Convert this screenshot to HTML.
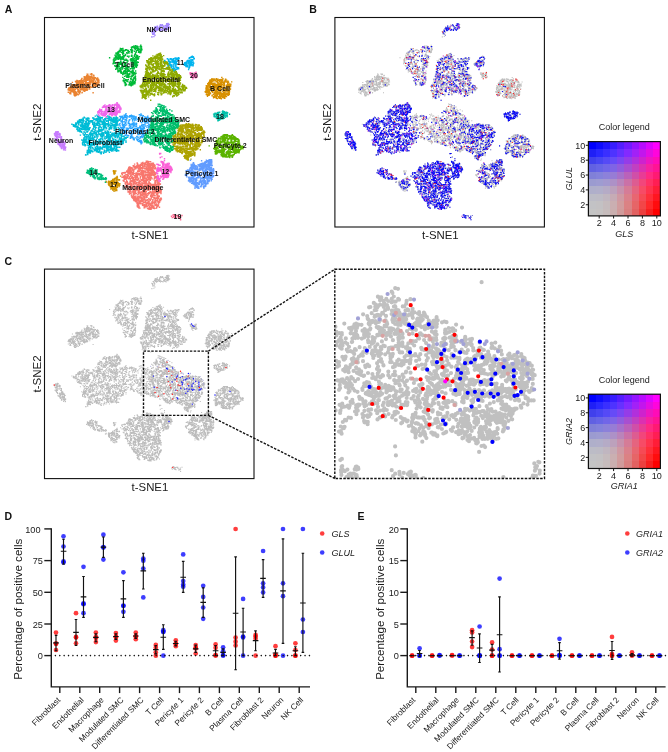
<!DOCTYPE html><html><head><meta charset="utf-8"><title>Figure</title><style>html,body{margin:0;padding:0;background:#fff}svg{display:block;will-change:transform}text{font-family:"Liberation Sans", sans-serif}</style></head><body>
<svg width="668" height="752" viewBox="0 0 668 752">
<rect width="668" height="752" fill="#fff"/>
<defs>
<path id="c0" d="M1372 1630h0m41 2h0m13-6h0m1 4h0m3-6h0m21 5h0m0-1h0m3 6h0m9-22h0m3 10h0m4-3h0m1-6h0m1 18h0m3-4h0m2 2h0m0-16h0m1 22h0m2-4h0m3-13h0m2 14h0m11 2h0m2-18h0m8 1h0m18 14h0m10 2h0m-202 24h0m5 4h0m9-2h0m0-18h0m2 23h0m1 0h0m18-2h0m3-4h0m1 0h0m1-20h0m4 2h0m0 13h0m1-12h0m8 10h0m6 5h0m1-5h0m3 13h0m0-6h0m7-6h0m0 9h0m1-11h0m1 0h0m3-3h0m0 5h0m7-1h0m8-6h0m0 14h0m0-12h0m3 11h0m0-14h0m12-7h0m1 24h0m2-1h0m3-18h0m2 16h0m1-19h0m0 23h0m4-18h0m1 21h0m8-16h0m5-4h0m7 10h0m7-7h0m0 12h0m2-12h0m2-4h0m2-6h0m7 4h0m1 17h0m0-8h0m0 1h0m0-10h0m3 6h0m1-7h0m0 0h0m1 6h0m1-11h0m1 26h0m2-13h0m6 4h0m1-14h0m9 17h0m1-18h0m0 9h0m1-12h0m0 21h0m5-17h0m5-3h0m2 10h0m2-3h0m0 6h0m0 1h0m1-3h0m2 13h0m1-16h0m0 5h0m0 13h0m2-9h0m0-7h0m7 3h0m1 0h0m0 16h0m3-9h0m-270 39h0m5-3h0m1-6h0m0-1h0m2-9h0m5-6h0m1 10h0m3 14h0m0-18h0m2 16h0m4-19h0m1 0h0m0 5h0m4 11h0m2 0h0m4-11h0m8 1h0m0 11h0m5 3h0m8-27h0m4 2h0m2 1h0m1 22h0m1-18h0m1 17h0m1 1h0m8-24h0m2 11h0m1-1h0m0 9h0m1-8h0m0 9h0m1-2h0m0-19h0m11 5h0m2 6h0m0-6h0m2 7h0m2-9h0m0-3h0m6-1h0m4 23h0m2 1h0m0-4h0m1-3h0m1 5h0m1 3h0m1-9h0m0-13h0m1 15h0m3 3h0m1-16h0m2-5h0m3 18h0m1 10h0m1-26h0m4 17h0m1-4h0m1 9h0m1-2h0m6-4h0m2-5h0m4 5h0m3-6h0m1-9h0m2-2h0m0 0h0m1 14h0m1-11h0m1 11h0m12 4h0m3-1h0m1 6h0m1-2h0m1-21h0m12 16h0m1 11h0m4-23h0m5 13h0m3 0h0m1 6h0m1 5h0m2-13h0m4-11h0m3 17h0m0-4h0m2-3h0m4 2h0m1 0h0m1 7h0m0-19h0m0 18h0m1-19h0m1-1h0m3 6h0m3-2h0m1 3h0m4-10h0m0 5h0m0 13h0m1 10h0m2-13h0m6 9h0m3-14h0m0 20h0m2-15h0m3 4h0m4-15h0m1-4h0m1 29h0m1-23h0m0 3h0m2 8h0m1-13h0m6 1h0m8 18h0m1-4h0m4 0h0m4-9h0m4 14h0m-310 35h0m16-7h0m2-7h0m3 7h0m1 2h0m1 1h0m2-5h0m5 3h0m0-11h0m0 5h0m10 4h0m0-6h0m3-11h0m1 15h0m1-3h0m1 7h0m1 5h0m1-6h0m5-2h0m1-12h0m4 13h0m1 8h0m0-19h0m1 12h0m0 4h0m1-14h0m3 16h0m1-10h0m2 7h0m3 2h0m7-23h0m3 4h0m4 18h0m3-9h0m1-9h0m38 14h0m3-7h0m1 7h0m1-13h0m1 8h0m8 5h0m0-8h0m3 5h0m6-13h0m3-5h0m6 25h0m2-15h0m0 19h0m7-15h0m0 2h0m2-3h0m2-2h0m1 17h0m1-24h0m0 17h0m1-5h0m1 10h0m1 1h0m0-14h0m3 7h0m0 8h0m2-20h0m7 18h0m4-13h0m4 1h0m0 3h0m6 5h0m2-8h0m12 11h0m4 2h0m0-21h0m9 11h0m1-14h0m3 25h0m1 0h0m1-27h0m0 26h0m1-26h0m1 12h0m0 1h0m0-9h0m2 11h0m12-9h0m2 3h0m6 6h0m2-11h0m0 14h0m1-2h0m3-17h0m1 5h0m2 3h0m2 17h0m1 3h0m1-27h0m1 16h0m1-2h0m2-9h0m1-2h0m2 9h0m5-5h0m1 18h0m1-12h0m5 7h0m2 4h0m35-13h0m-361 28h0m4 4h0m1-13h0m2 20h0m13-19h0m2 3h0m2-5h0m2 3h0m6 2h0m0-2h0m5-1h0m5 20h0m14 0h0m6-20h0m2 12h0m12 1h0m0-11h0m4-4h0m8 4h0m2 2h0m1 16h0m3-22h0m0 27h0m5-28h0m1 5h0m2 19h0m7-12h0m3 12h0m1-18h0m0 10h0m4 7h0m7-13h0m2 1h0m15-3h0m0 15h0m2-14h0m3 8h0m4-13h0m0 25h0m7-18h0m0 10h0m2 6h0m6-6h0m3-9h0m4-1h0m6 8h0m1-6h0m0 13h0m5-6h0m2 2h0m5-21h0m4 8h0m5 11h0m1-6h0m0-14h0m1 18h0m3-9h0m3 9h0m1 2h0m1-5h0m2-5h0m1 5h0m2 7h0m4-3h0m4-13h0m5 24h0m8-8h0m0 5h0m5-24h0m0 16h0m0-18h0m0-1h0m8 25h0m4-5h0m2 1h0m5-18h0m0 25h0m4-1h0m0-4h0m7-19h0m1 16h0m0-2h0m1-6h0m1 2h0m1-3h0m2-9h0m0 13h0m1 2h0m8 3h0m2-2h0m0 5h0m0-19h0m5 8h0m0 10h0m0-11h0m2 18h0m3-20h0m0 11h0m2-16h0m5 21h0m0-23h0m1 1h0m4 15h0m7 10h0m4-8h0m0 4h0m1-20h0m1 14h0m0-3h0m4 0h0m1-14h0m5 10h0m2-8h0m1 15h0m3-1h0m-336 31h0m12-3h0m3 2h0m3-5h0m3-8h0m0 23h0m3-19h0m1 20h0m1-28h0m0 8h0m2 20h0m3-3h0m2-15h0m1 10h0m1 6h0m4-11h0m2 14h0m2-12h0m2 7h0m3 3h0m4-21h0m1 13h0m1 1h0m1 4h0m3-22h0m5 1h0m8 13h0m4-1h0m2 13h0m7-21h0m11 10h0m4 8h0m2-12h0m0 7h0m4-5h0m11 8h0m0 1h0m2 1h0m7-22h0m6-2h0m0 9h0m2 9h0m1 4h0m6-1h0m1-15h0m1 0h0m1 14h0m4-11h0m3-3h0m1 15h0m0 1h0m2-8h0m1 6h0m2-18h0m6 25h0m21-15h0m0 13h0m16-26h0m1 4h0m3 4h0m2 15h0m1-18h0m1 8h0m5 1h0m2-4h0m1 20h0m0-2h0m1-6h0m2-12h0m1-9h0m2 17h0m2-5h0m0-5h0m0 1h0m1 11h0m4-19h0m0 5h0m1 14h0m1-17h0m3 23h0m1-25h0m15 24h0m3-18h0m4 7h0m2 2h0m6 7h0m1-1h0m1-2h0m2-6h0m2 1h0m0 4h0m1-17h0m3 25h0m1-1h0m2-12h0m1-11h0m4 17h0m2-16h0m7 20h0m3-8h0m2 5h0m26-18h0m1 25h0m4-4h0m2 0h0m1-9h0m2 10h0m0-17h0m2 10h0m1-11h0m0 13h0m0-13h0m8 14h0m3-6h0m0 5h0m0-7h0m7-4h0m1-4h0m-342 45h0m8 3h0m0 4h0m2-22h0m6 3h0m12-3h0m6 15h0m19-18h0m16 27h0m1-18h0m3 15h0m0-24h0m1 26h0m3-4h0m6-2h0m0 8h0m0-5h0m5-4h0m2-21h0m1 4h0m0 25h0m6-11h0m4-11h0m2-1h0m1 18h0m1-4h0m1 5h0m5-14h0m2 15h0m3-1h0m2-13h0m7-5h0m7 6h0m1-3h0m7 9h0m1-6h0m12-12h0m2 13h0m1 0h0m5 11h0m11 3h0m6-17h0m6 11h0m4-9h0m5-4h0m3 11h0m1-17h0m1 8h0m0-1h0m2 5h0m1-5h0m2 17h0m1-19h0m2 0h0m0 11h0m1-2h0m0-14h0m1 24h0m0-6h0m1 0h0m4-21h0m4 20h0m1 4h0m4-2h0m6-15h0m4-7h0m0 20h0m1 1h0m1-6h0m0 15h0m4-19h0m2 6h0m1-6h0m2 2h0m3 3h0m7-11h0m1 2h0m2 6h0m4-7h0m1 7h0m0-9h0m7 3h0m0 5h0m1 4h0m0 1h0m2 0h0m0-16h0m1 14h0m0-3h0m16-9h0m21 11h0m12 6h0m4-1h0m9 0h0m3-12h0m0 3h0m2 14h0m6-8h0m2 8h0m-327 26h0m1-10h0m0-3h0m2 11h0m0 8h0m4-20h0m2 1h0m5-4h0m5 10h0m2 9h0m0-3h0m0-16h0m0 22h0m5 1h0m0-8h0m6 10h0m8-1h0m3 1h0m0-10h0m7-16h0m2 25h0m0-14h0m3 12h0m1-1h0m3-1h0m2-1h0m1 5h0m2-25h0m12-1h0m2-1h0m1 23h0m0-21h0m3 16h0m2 5h0m0 2h0m1 4h0m6-27h0m3 16h0m1-13h0m6 21h0m1-23h0m1 0h0m4 22h0m0-3h0m5-10h0m2-3h0m1 6h0m0 3h0m1-7h0m15 3h0m1-7h0m5 14h0m3-4h0m1-7h0m4-2h0m3 11h0m1-2h0m4 10h0m1-1h0m13-13h0m2 6h0m5 9h0m7-12h0m1 5h0m6-7h0m2-5h0m4 9h0m4 1h0m3-7h0m2-7h0m0 6h0m0 0h0m1 8h0m1-17h0m3 12h0m0-11h0m1 16h0m0 1h0m5-10h0m1 15h0m11-1h0m10-14h0m1 6h0m0-13h0m2 9h0m1-4h0m2 13h0m2-7h0m2 0h0m9 8h0m0 3h0m22 5h0m20-26h0m1 13h0m1-9h0m0 20h0m2-16h0m1 0h0m2 15h0m4-22h0m2 25h0m13-12h0m3-11h0m3 2h0m0-9h0m3 29h0m3 1h0m1-14h0m0 10h0m4-4h0m1-8h0m3 12h0m7 2h0m0 0h0m1-4h0m-351 29h0m7-6h0m1 5h0m2-11h0m0-5h0m4 23h0m3-7h0m0 3h0m3-5h0m5-20h0m3 20h0m22 7h0m1-15h0m3 12h0m3 5h0m2-7h0m1-20h0m3 23h0m1-1h0m1-6h0m0-15h0m14 16h0m3-1h0m2 0h0m0-2h0m5 5h0m1 4h0m1-11h0m9 6h0m1 5h0m12-19h0m4 0h0m2 22h0m5-3h0m0-22h0m2 27h0m0-19h0m1 6h0m4 13h0m0-25h0m0 16h0m2-5h0m1-10h0m0 18h0m1 5h0m2-15h0m4-2h0m2 10h0m6-20h0m0 27h0m1-20h0m0 4h0m3 2h0m0 2h0m2-15h0m5 10h0m0 8h0m2-8h0m0-4h0m1 19h0m5-1h0m0-25h0m1 13h0m0 2h0m3 2h0m0-6h0m2 4h0m6 12h0m11-12h0m1-3h0m4-7h0m2 7h0m0-10h0m1 12h0m5 11h0m1-10h0m2-3h0m8 7h0m4-17h0m3-1h0m0 23h0m2 5h0m1-10h0m0-7h0m6-12h0m1 17h0m1-7h0m0 7h0m5-9h0m3 4h0m1 12h0m1 4h0m2-21h0m1 18h0m5-8h0m1-5h0m1-1h0m3-1h0m0 0h0m1-7h0m0-1h0m2-1h0m1 10h0m1 0h0m5 1h0m0-8h0m3 1h0m10 0h0m1 19h0m0 1h0m2-10h0m4 10h0m0-26h0m2 27h0m4-22h0m1 13h0m1 4h0m6 3h0m5 3h0m1-16h0m3-2h0m0 17h0m1-27h0m2 22h0m1-10h0m7-10h0m7-1h0m0 21h0m3-8h0m2 5h0m1-4h0m2 14h0m1-19h0m10 15h0m-324 26h0m0-17h0m3 9h0m9 5h0m9 4h0m6-3h0m3-3h0m0-7h0m1 1h0m4 8h0m2-11h0m3 4h0m1-7h0m16 14h0m1 8h0m3 4h0m7-8h0m2-15h0m1-6h0m3 25h0m2-21h0m0 1h0m1 23h0m1-13h0m1-10h0m0 16h0m1 2h0m2 1h0m2 3h0m2-24h0m6 6h0m3-4h0m2-1h0m4 6h0m1 5h0m0 10h0m6-12h0m0 8h0m0-15h0m2 8h0m0 6h0m1-7h0m8 8h0m2-8h0m0-11h0m1-3h0m2 24h0m0-16h0m8 2h0m9-8h0m1-1h0m4 7h0m5-5h0m1 25h0m2-2h0m7 0h0m0-20h0m9 8h0m4 0h0m4 7h0m1-17h0m4 1h0m0 6h0m2-8h0m1 6h0m2-6h0m5 5h0m1-1h0m4-5h0m4 10h0m2 16h0m3-15h0m1 5h0m1 7h0m2-1h0m1-4h0m2-4h0m1-15h0m1 11h0m4-8h0m3 18h0m5-13h0m0-2h0m6-2h0m10 5h0m2-7h0m6 0h0m0-2h0m0 4h0m1 3h0m1-4h0m0-1h0m2 14h0m0-1h0m9-3h0m0-2h0m1-1h0m2-9h0m3 5h0m2 12h0m0 11h0m6-10h0m1-18h0m1 13h0m0 0h0m4 15h0m1-24h0m1 21h0m2-2h0m0 0h0m5-14h0m4-4h0m5 1h0m1 13h0m3 5h0m3-15h0m2-5h0m2 23h0m0-15h0m2-3h0m0 8h0m4-10h0m3 6h0m3 11h0m0-14h0m1 3h0m3-1h0m0 12h0m1 0h0m0-11h0m-325 24h0m0 8h0m6-3h0m1-1h0m7 5h0m1-4h0m2-11h0m3 25h0m3-1h0m1-15h0m1-8h0m1 8h0m10 5h0m12-9h0m3 14h0m2-10h0m2 8h0m1 6h0m0-5h0m2-17h0m6 23h0m5-20h0m1 6h0m3 13h0m0-6h0m1-13h0m6-5h0m3 28h0m17-10h0m2-12h0m0-2h0m0 16h0m1 9h0m1-27h0m5 12h0m0 3h0m1-11h0m2 9h0m0 9h0m9-6h0m8-5h0m9 4h0m3-6h0m1 16h0m3-27h0m1 9h0m1 19h0m4-3h0m6-23h0m0 12h0m1 0h0m1-6h0m2-6h0m3 18h0m2-7h0m1 5h0m1-12h0m3-4h0m4 3h0m3 11h0m4-10h0m22 14h0m13-4h0m2 7h0m0-9h0m2 4h0m2 5h0m1-13h0m3 10h0m10-5h0m6 12h0m2 0h0m0-18h0m0-7h0m3 15h0m1-8h0m7 18h0m2-1h0m1-21h0m3 8h0m4 8h0m3-17h0m5-3h0m4 15h0m0 6h0m1-16h0m3 9h0m0 3h0m1-14h0m3 14h0m5-5h0m4 2h0m1-6h0m1 18h0m4-4h0m4-11h0m2-1h0m4-5h0m1 6h0m4-9h0m1 17h0m0-12h0m3-2h0m8 8h0m1 5h0m2-17h0m-317 32h0m16-1h0m3 18h0m4-16h0m1 22h0m7 1h0m8-7h0m2-12h0m5-1h0m6-6h0m0 26h0m4-2h0m9-24h0m1 23h0m17-15h0m2 17h0m7-24h0m15 13h0m4-17h0m1 14h0m2-5h0m0 19h0m4-14h0m4-2h0m4 4h0m4 3h0m4-7h0m1 4h0m1-13h0m1 26h0m0-15h0m10-5h0m3-7h0m2 24h0m1 2h0m2-5h0m2-22h0m1 7h0m11 16h0m1-19h0m2 22h0m2-7h0m6-19h0m3 18h0m6-14h0m10-4h0m12 15h0m0 12h0m1-4h0m5-5h0m4-6h0m2-5h0m1-7h0m0 27h0m1-8h0m2-2h0m1 6h0m0-7h0m2-17h0m12 12h0m1 9h0m2-5h0m1 5h0m5 2h0m2-6h0m3 5h0m16-10h0m1 1h0m2-10h0m4 25h0m2-9h0m1-6h0m10 16h0m4-5h0m19-24h0m-291 37h0m6 6h0m5 4h0m1-1h0m1-10h0m4 17h0m1-5h0m1-1h0m1 4h0m0-10h0m2 7h0m1 10h0m0-10h0m1-1h0m3-3h0m1-12h0m1 9h0m6 7h0m2-6h0m4 0h0m0 1h0m7 7h0m2 6h0m7-20h0m0 9h0m1 2h0m2 11h0m5-2h0m7-23h0m0 14h0m10-13h0m0 4h0m7-4h0m1 13h0m3 10h0m1 1h0m3-19h0m1 4h0m7 9h0m6-16h0m7 21h0m1 2h0m2-13h0m2-7h0m1 19h0m0-18h0m1-5h0m2 22h0m4-14h0m15-2h0m0-8h0m5-1h0m0-2h0m0 8h0m18 14h0m2-3h0m20 7h0m0-9h0m1 8h0m0-7h0m1 5h0m3-15h0m4-4h0m1 2h0m4-2h0m3-1h0m11 10h0m4 10h0m1-5h0m6 1h0m1-6h0m3 12h0m2-3h0m4-1h0m7-6h0m3 0h0m3-13h0m0 19h0m5-13h0m4 11h0m2-4h0m10-14h0m2 27h0m10-11h0m1 5h0m1-1h0m2 1h0m3-6h0m2 10h0m-278 6h0m5 9h0m4-7h0m5 5h0m3-1h0m1 10h0m2-10h0m2-5h0m2 10h0m0 10h0m8-8h0m2 13h0m0-21h0m1 4h0m4-5h0m2-1h0m0 21h0m5-26h0m5 14h0m3-12h0m1 13h0m5 5h0m0 8h0m1 1h0m8-13h0m1 8h0m1-11h0m2 5h0m5 4h0m1-4h0m4-12h0m2 12h0m1-14h0m3 11h0m0 7h0m4-11h0m1 1h0m9-9h0m1 25h0m1-4h0m1 2h0m3-20h0m0 20h0m6 2h0m6-4h0m1-4h0m1-10h0m1-2h0m0-3h0m3 3h0m14-6h0m2 0h0m0 11h0m3 5h0m7 9h0m3-11h0m6-15h0m6 9h0m14 16h0m5-5h0m3-4h0m2-15h0m1 8h0m4 17h0m5 2h0m10-12h0m1 0h0m0 6h0m2-10h0m3 7h0m1-8h0m2 7h0m1 1h0m0 7h0m1-5h0m0-9h0m1-3h0m2-1h0m4 2h0m10-8h0m0 9h0m0-4h0m3 14h0m3 5h0m10-6h0m2-15h0m1 1h0m0 21h0m1 0h0m1-12h0m0-6h0m1-4h0m1-3h0m4-2h0m3 9h0m1-9h0m-237 42h0m7 13h0m0-21h0m2 8h0m1-11h0m2 8h0m3 13h0m3 5h0m0-1h0m3-21h0m1 2h0m2 3h0m7-5h0m8 7h0m15-2h0m1 15h0m2 2h0m0-11h0m7 13h0m2-28h0m3 22h0m1 5h0m4-7h0m6-21h0m0 26h0m8-22h0m1 20h0m1-2h0m5-2h0m3-7h0m1-3h0m4-9h0m3 9h0m5-6h0m2 23h0m4-18h0m0 0h0m2 9h0m5-4h0m1-7h0m6 0h0m5 7h0m3 4h0m0 3h0m8-6h0m1-12h0m3-3h0m2 13h0m1-7h0m1-2h0m3 10h0m2-9h0m15-5h0m1 0h0m1 10h0m3 14h0m2 4h0m5-12h0m3 2h0m5 8h0m0-10h0m2-2h0m3 14h0m8-5h0m8-20h0m1 8h0m-215 22h0m1-2h0m0 3h0m2 7h0m4-11h0m4 17h0m2 1h0m5 1h0m0 6h0m1-13h0m8 13h0m42-2h0m2-16h0m2 8h0m1 3h0m1 4h0m0-18h0m4 1h0m2 1h0m8 2h0m0 4h0m4-1h0m1-6h0m1-3h0m5 8h0m3 18h0m10-28h0m4 27h0m4-22h0m0 12h0m1 0h0m3-2h0m0-5h0m4 17h0m1-24h0m3-4h0m3 21h0m0 6h0m2-26h0m1 3h0m6 10h0m1-1h0m0-6h0m1 17h0m1 2h0m2-24h0m1 13h0m2-13h0m1 2h0m3-2h0m1 16h0m3-7h0m1 8h0m1 7h0m1-16h0m1 18h0m5-12h0m18 13h0m5-15h0m2 8h0m7-18h0m4 6h0m6-10h0m11 18h0m-114 15h0m10 5h0m7-2h0m1-5h0m9 8h0m0-7h0m3 5h0m33-6h0"/>
<path id="c1" d="M865 763h0m3-6h0m1-1h0m2-15h0m5 12h0m2-11h0m4 21h0m3 1h0m2-5h0m10 5h0m7-23h0m10 4h0m0 18h0m3-23h0m0-2h0m3 7h0m14 12h0m3-5h0m2 5h0m-122 36h0m3-9h0m19 9h0m3-27h0m1 7h0m2 7h0m1-5h0m1 4h0m1 16h0m2 0h0m3-1h0m5-8h0m1-14h0m0-5h0m3 0h0m0 21h0m1 3h0m1-17h0m2 1h0m0-1h0m1 14h0m1-5h0m4-8h0m1-10h0m1 6h0m2 0h0m1 22h0m1-23h0m4 7h0m0 2h0m0 7h0m1 8h0m0-18h0m1 17h0m5-18h0m2-4h0m2 22h0m1-6h0m4 0h0m2-8h0m4 12h0m1-13h0m1-7h0m5-4h0m4 12h0m0-1h0m2-1h0m0-1h0m1-2h0m1 7h0m4-3h0m0 5h0m1-10h0m3-1h0m2 9h0m3 4h0m2 0h0m4-4h0m4-4h0m1 16h0m1-18h0m0 12h0m11-9h0m2 3h0m6 6h0m9 2h0m4-9h0m1 14h0m7-3h0m-260 33h0m31-10h0m6 9h0m3-12h0m1 1h0m4-7h0m2 10h0m0 6h0m2-15h0m4 18h0m2-5h0m2-10h0m3 0h0m5 12h0m0-10h0m4 3h0m3 4h0m2-12h0m2 8h0m8-12h0m1 11h0m2-5h0m1 13h0m6-13h0m1-6h0m1 11h0m3-2h0m4 5h0m3 4h0m1-14h0m3 5h0m2-2h0m11 3h0m2 2h0m4-14h0m3 7h0m1 13h0m0-15h0m3-10h0m1 26h0m1-8h0m6-16h0m3 2h0m4 3h0m2 0h0m14-4h0m3 2h0m1 15h0m2 1h0m1 1h0m6 8h0m1-4h0m0 0h0m2-11h0m3-2h0m1-12h0m5 13h0m0 1h0m4 4h0m0 8h0m1-22h0m0 2h0m3 15h0m1 6h0m3-12h0m1-7h0m1-3h0m4 23h0m0-10h0m3-16h0m4 2h0m1 24h0m12-13h0m5 11h0m6-23h0m10 1h0m1 7h0m3 13h0m1 3h0m5-13h0m4-8h0m3 19h0m-272 32h0m1-6h0m14-1h0m1 3h0m5-3h0m4 7h0m3-2h0m3-5h0m2 5h0m4 0h0m6 0h0m1-9h0m2 12h0m1-19h0m2 11h0m0-4h0m2-6h0m0 13h0m5-9h0m1-13h0m0 8h0m5-7h0m0 8h0m2 18h0m8-2h0m3-21h0m1-4h0m2 17h0m2 4h0m1-17h0m7 5h0m2-9h0m3 15h0m0-13h0m3 3h0m3 21h0m1-4h0m0-18h0m1-1h0m1-1h0m2 19h0m0-13h0m2-1h0m8 19h0m2-25h0m1 15h0m0-16h0m1 18h0m8-6h0m4 8h0m0 4h0m4-3h0m3-18h0m3 8h0m0 11h0m1-5h0m1 9h0m2-14h0m1-1h0m1 17h0m0-28h0m5 27h0m2 0h0m0-1h0m0-5h0m6-18h0m0 13h0m3 3h0m1-20h0m1 2h0m4 5h0m2 1h0m1-6h0m1 16h0m1-13h0m1 11h0m0 1h0m3-6h0m0-3h0m1 5h0m1 2h0m2-9h0m1 11h0m21-12h0m1 14h0m1-19h0m0 22h0m3-4h0m3-15h0m2 26h0m1-6h0m1-23h0m0 21h0m2-6h0m0 2h0m3 8h0m0-18h0m9-7h0m0 23h0m0-5h0m4-17h0m1 9h0m0 7h0m3 7h0m3-16h0m3 1h0m1 17h0m1-23h0m5-1h0m6 19h0m3-9h0m4 4h0m4 6h0m2-5h0m-301 37h0m7 4h0m3-6h0m2 5h0m3-12h0m2 9h0m2-7h0m0-3h0m1 7h0m0 8h0m2-5h0m3-3h0m3 2h0m1-6h0m2-8h0m1 16h0m1-12h0m2 13h0m7-19h0m0 19h0m2-21h0m0 17h0m4-4h0m5-10h0m13 13h0m3-14h0m7 3h0m3 16h0m1-21h0m1 2h0m5 12h0m2 9h0m0-13h0m1-4h0m10-1h0m0 4h0m3-4h0m1 2h0m6 12h0m1-10h0m1 3h0m1-9h0m1 6h0m1 9h0m1-13h0m0 3h0m2-11h0m3 7h0m3 14h0m1-14h0m3 18h0m1-19h0m7-1h0m1-1h0m2 4h0m1 0h0m2-3h0m0 18h0m1-16h0m0-8h0m3 16h0m0 8h0m1-8h0m0 3h0m0-3h0m2 2h0m3 1h0m2 2h0m6 4h0m0-8h0m13 2h0m5 8h0m2-25h0m1 23h0m0-1h0m2-26h0m4 14h0m3-3h0m4-4h0m5 14h0m3-14h0m1 17h0m0-21h0m3 17h0m4-10h0m10-3h0m1 12h0m16-1h0m9-11h0m10-5h0m4 3h0m10 3h0m10-1h0m5-4h0m-291 41h0m3-10h0m6 0h0m1 13h0m2-4h0m5 6h0m2-3h0m1-7h0m2 4h0m1 5h0m2-6h0m4 16h0m7-4h0m4-13h0m0 3h0m2 3h0m1-13h0m0 10h0m2-1h0m2-10h0m2 1h0m0 6h0m1 13h0m4-4h0m2-8h0m1 6h0m0 2h0m1 9h0m0-13h0m2 4h0m1 2h0m2-3h0m1-13h0m1 21h0m2 1h0m6-17h0m16-10h0m7 4h0m1 6h0m0-2h0m0 19h0m3-16h0m2-1h0m1 3h0m2 6h0m1-3h0m2 5h0m14 8h0m0 0h0m0-16h0m1-4h0m13 4h0m2-4h0m3 3h0m4-10h0m8-1h0m1 11h0m1 11h0m1-16h0m2 9h0m4-11h0m2 7h0m1 7h0m0-9h0m0 19h0m1-19h0m6 6h0m1 5h0m0-14h0m6 6h0m3-5h0m0 7h0m7 3h0m0-13h0m0-3h0m1 4h0m3 8h0m4-5h0m20-4h0m-215 32h0m13-1h0m2 15h0m7-8h0m3 11h0m5-21h0m7-2h0m11 4h0m6 7h0m1 1h0m0-4h0m5 13h0m8-11h0m2 12h0m2-21h0m2 21h0m1-5h0m1 2h0m3-12h0m6 21h0m0-17h0m6 14h0m12-24h0m3 5h0m2 7h0m1-14h0m1 21h0m0-9h0m3 11h0m0-11h0m1-3h0m4-3h0m19 8h0m2-5h0m109 4h0m-190 20h0m0-2h0m4 6h0m2 7h0m3-9h0m3 0h0m2 5h0m0 4h0m2-7h0m2-2h0m5 0h0m18-3h0"/>
<path id="c2" d="M1134 1713h0m1-6h0m3 16h0m6-13h0m4 14h0m10-14h0m-19 27h0m4 1h0m1-4h0m1 7h0m7-10h0m0 51h0m4 0h0m4-3h0m5-7h0m1 12h0m5-5h0m1-14h0m2 14h0m32-18h0m-144 54h0m24-2h0m3-2h0m22-1h0m0-1h0m5 0h0m3-2h0m7-2h0m0-7h0m3 11h0m1 3h0m1-19h0m10 13h0m3-13h0m1 19h0m1-24h0m15 14h0m1-5h0m2 2h0m3-7h0m1 11h0m6-6h0m0-2h0m1 2h0m3-3h0m10 6h0m6 0h0m1-4h0m-135 26h0m22 0h0m3 14h0m0 7h0m1-16h0m4-10h0m0 21h0m0-9h0m2-13h0m2 18h0m0-10h0m1 3h0m1 9h0m1-10h0m2 18h0m0-27h0m3 4h0m9-4h0m2 21h0m3-14h0m0 11h0m3-14h0m1 7h0m0 10h0m1-6h0m3-16h0m2 9h0m1-6h0m6 15h0m0-2h0m5 10h0m0-26h0m1 14h0m0-13h0m0 15h0m2 8h0m0-25h0m1 1h0m0 13h0m3-7h0m2 9h0m12 12h0m1-5h0m0-15h0m2-4h0m2 1h0m1-2h0m2 25h0m1-6h0m0-15h0m1 3h0m1 16h0m1-9h0m0-13h0m4 0h0m3 18h0m1-3h0m2-7h0m2 18h0m10-7h0m5 0h0m-111 12h0m7-1h0m0-2h0m2 10h0m2 1h0m1-7h0m6 19h0m5 0h0m0-5h0m5-7h0m3 1h0m1-14h0m1 29h0m2-16h0m2 8h0m0 3h0m4 0h0m1-1h0m9 0h0m5 3h0m2 1h0m1 1h0m0 1h0m3-28h0m7 4h0m3-4h0m0 13h0m8 6h0m1-9h0m1 12h0m1 2h0m2 3h0m0-16h0m10-1h0m1-5h0m5 5h0m3 9h0m3-19h0m0 2h0m3 6h0m-88 37h0m2-10h0m4 4h0m9-6h0m1-1h0m2 22h0m2-22h0m1 10h0m2-2h0m5-1h0m1 6h0m1-4h0m4 6h0m5 1h0m3-17h0m0 11h0m2-11h0m5 24h0m3-19h0m2 21h0m1-28h0m2 1h0m0 21h0m2 4h0m6-25h0m-37 33h0m5 2h0m7-1h0m19-4h0"/>
<path id="c3" d="M1861 1243h0m2-5h0m5 4h0m17-5h0m4 7h0m9-3h0m24 1h0m5 0h0m29 2h0m-183 23h0m5 7h0m7-15h0m7 5h0m11-11h0m0-1h0m4 16h0m11-16h0m1-3h0m1 2h0m1 13h0m0 1h0m3 3h0m0-5h0m3-12h0m1 9h0m2-11h0m1 14h0m1 4h0m1-17h0m3 4h0m5-4h0m5 0h0m2 14h0m1-5h0m2-7h0m2 18h0m1-7h0m3-15h0m1 6h0m0 21h0m2-1h0m1-23h0m0 13h0m0 8h0m4-16h0m0-3h0m3 19h0m0-14h0m1-8h0m3-1h0m0 7h0m4 10h0m1-5h0m0 4h0m3-17h0m1 2h0m5-3h0m0 25h0m1-15h0m5 14h0m4-12h0m4 12h0m3-15h0m0 13h0m0-10h0m1-11h0m1 5h0m0-3h0m3 6h0m5-3h0m2 5h0m2 3h0m2 4h0m4-12h0m1 1h0m0 12h0m1-15h0m1 15h0m1-6h0m2 1h0m0-12h0m1 23h0m1-5h0m0-8h0m3-5h0m4 19h0m12-20h0m6-7h0m0 22h0m3-19h0m0 13h0m5 10h0m3-24h0m8 25h0m4-10h0m1 5h0m1 4h0m1-16h0m0 15h0m2-21h0m0 20h0m1-18h0m1 22h0m6-24h0m3 7h0m7 17h0m8-7h0m1 7h0m1-7h0m1 2h0m-241 17h0m16 11h0m0 3h0m1-5h0m0-15h0m1 24h0m5-10h0m0-3h0m2-11h0m0 10h0m1 1h0m4-12h0m4 22h0m2-12h0m0 0h0m1-7h0m1-4h0m0 11h0m1 7h0m0-15h0m3 5h0m0 3h0m2-2h0m3 9h0m1-8h0m1 1h0m0 10h0m2-17h0m3 13h0m5 5h0m1-15h0m1 2h0m1 2h0m12-9h0m12 16h0m1-10h0m3-6h0m4 24h0m5-27h0m1 28h0m1-5h0m5-2h0m2-16h0m7 16h0m2 2h0m2-2h0m2 3h0m4-5h0m5-21h0m9 3h0m2 1h0m1 18h0m1-21h0m0 11h0m0 13h0m2-1h0m1 6h0m1-13h0m1-4h0m1-7h0m1-2h0m5 8h0m7-5h0m2 13h0m2-16h0m4 3h0m2 23h0m11-30h0m3 29h0m1-7h0m1-12h0m6 10h0m6-10h0m0 10h0m1-12h0m8-7h0m0 23h0m4-10h0m1 6h0m1-6h0m3 11h0m3-8h0m0-15h0m2 26h0m4 0h0m1-8h0m1-9h0m0 7h0m1 2h0m4 6h0m4-7h0m2 3h0m1-14h0m1 19h0m2-23h0m0 24h0m1-19h0m3-4h0m2 3h0m3 15h0m-250 33h0m6-3h0m0-22h0m3 5h0m2 20h0m3-14h0m0 2h0m8-12h0m2 4h0m11 3h0m0 6h0m2 6h0m3-16h0m2 25h0m4-28h0m0 8h0m7 11h0m5-13h0m3-4h0m8 21h0m4-7h0m7 1h0m7-19h0m1 11h0m1 3h0m6 11h0m0-4h0m3 5h0m5-8h0m3-3h0m0-11h0m5-2h0m4 1h0m4 11h0m4-11h0m1 26h0m2-7h0m1-4h0m0 5h0m4-8h0m1 7h0m2-3h0m1-13h0m1 18h0m1-9h0m3-9h0m1 5h0m3-1h0m8 10h0m2-1h0m1-6h0m4-5h0m2 3h0m3 5h0m0-2h0m1-11h0m2 20h0m4 5h0m8-3h0m1-4h0m2-21h0m17 8h0m12-7h0m1 23h0m4 0h0m24-3h0m5 2h0m3 6h0m0-14h0m7 8h0m3-9h0m5-10h0m1 25h0m3-20h0m1 10h0m1 1h0m1-1h0m1-1h0m2 1h0m-320 30h0m2 8h0m6 1h0m12-6h0m3-19h0m4 17h0m0-8h0m1 16h0m16-22h0m1 3h0m1 16h0m1-7h0m5-9h0m0-6h0m0 18h0m2-14h0m7-1h0m0 0h0m1 5h0m12 10h0m1-16h0m1 3h0m3 16h0m4-16h0m7 0h0m1 21h0m0-21h0m0 17h0m6-12h0m1 12h0m3-4h0m1 5h0m8-2h0m4-4h0m17-15h0m3 8h0m6 13h0m3-26h0m6 21h0m2-1h0m1 2h0m0-21h0m7 14h0m4-8h0m1 6h0m0 6h0m4-8h0m2 4h0m1 12h0m1-21h0m0-1h0m1 8h0m2-8h0m2 1h0m0 12h0m1 11h0m2 0h0m3-22h0m3 12h0m0-2h0m2 11h0m1-24h0m1-3h0m0 14h0m3-3h0m4 7h0m0 8h0m8-7h0m3 0h0m9-2h0m4-3h0m1-2h0m2 7h0m1-7h0m1-1h0m5-5h0m2 11h0m0-3h0m1-3h0m0 2h0m0-4h0m1 4h0m3 8h0m4-2h0m1-15h0m3 9h0m1 12h0m1-14h0m1 17h0m0 0h0m0-2h0m0-6h0m0-5h0m3-14h0m1 18h0m2 10h0m3-2h0m1-21h0m2 5h0m2-5h0m0 12h0m4-3h0m0-11h0m2 8h0m2-11h0m1 9h0m3 2h0m0-7h0m2 22h0m3-19h0m1-7h0m2 12h0m0 15h0m2-12h0m0 4h0m10-16h0m4-3h0m11 14h0m0 8h0m1-15h0m3 18h0m-314 27h0m5-6h0m2-7h0m5 15h0m0 2h0m4-22h0m3-1h0m4 21h0m0-1h0m11-17h0m0 15h0m0-7h0m6 5h0m6 5h0m5-21h0m0 16h0m4 6h0m7-6h0m1-14h0m8 16h0m1 0h0m2-3h0m0-13h0m0 20h0m3-22h0m7 4h0m0 4h0m0-7h0m2-1h0m0 6h0m7 7h0m1 12h0m2-22h0m4 14h0m5-1h0m1-19h0m1 1h0m4 2h0m1 8h0m4 4h0m7-12h0m3 6h0m5 6h0m2-6h0m2-1h0m0 4h0m2 15h0m0-18h0m6-3h0m0 1h0m9 3h0m0 13h0m3 4h0m0-21h0m3 14h0m2-6h0m0 4h0m1 2h0m1-10h0m2-8h0m0 1h0m0 11h0m4 8h0m2 1h0m0-6h0m1-4h0m0-12h0m3-2h0m1 6h0m0 8h0m2-8h0m0 8h0m1-9h0m4-4h0m1 3h0m0 18h0m1 3h0m4-22h0m1 4h0m0 8h0m5-8h0m1-1h0m9 9h0m0-2h0m1-6h0m1 8h0m0-13h0m4 4h0m12 13h0m2 5h0m0-3h0m5-12h0m5-2h0m2 20h0m2-21h0m1-1h0m1 10h0m1 2h0m2-11h0m2 2h0m2 2h0m5 11h0m5 1h0m1-9h0m1 14h0m4-28h0m3 3h0m1 4h0m1-2h0m1 4h0m6 9h0m13-9h0m1-8h0m0 11h0m2 6h0m3-6h0m0-6h0m1 0h0m3 4h0m-332 25h0m28 23h0m6-22h0m1-1h0m1 24h0m2-2h0m6-14h0m5 7h0m2 9h0m3-1h0m0-5h0m0-4h0m1-5h0m2 7h0m0-8h0m3 15h0m0-10h0m4 10h0m1-8h0m0-1h0m8 3h0m0 4h0m3-13h0m0 11h0m0-10h0m3-2h0m6 17h0m0-20h0m1 9h0m2 5h0m1-21h0m5 22h0m4-7h0m1 3h0m1 5h0m0 0h0m3 4h0m0-7h0m2 1h0m0-18h0m1 20h0m1-16h0m0-6h0m2 18h0m1-21h0m2 21h0m1-14h0m1-2h0m2 19h0m4-8h0m1 14h0m1-1h0m4-2h0m2-11h0m0-10h0m3 22h0m2-13h0m2-7h0m2 16h0m2-5h0m2-9h0m4 9h0m1 0h0m2 5h0m0 1h0m4-6h0m1-14h0m2 14h0m1 8h0m8-23h0m4 19h0m1-16h0m1 3h0m1 16h0m1 4h0m7-20h0m0-4h0m1 12h0m3-5h0m2 11h0m19-16h0m1-3h0m1 3h0m4 4h0m3-8h0m4-3h0m1 10h0m0-7h0m2 6h0m6 8h0m5-1h0m5-6h0m2 3h0m17 0h0m6 10h0m4-9h0m2-13h0m1 28h0m0-27h0m1-1h0m10 11h0m3 5h0m2-11h0m0 10h0m3 4h0m2-1h0m0-11h0m1 1h0m4 7h0m0-15h0m2 21h0m4 1h0m1-12h0m18 17h0m3-21h0m1 13h0m0-14h0m0 12h0m4 9h0m1-17h0m4-1h0m0 9h0m-306 12h0m11 17h0m5 10h0m3-1h0m2-25h0m6 5h0m1 14h0m1-17h0m5 3h0m0 3h0m2-4h0m18-1h0m5 4h0m1-5h0m1 9h0m1-9h0m6 6h0m5-2h0m1-3h0m2 7h0m2-7h0m3 18h0m1-18h0m4 3h0m0-3h0m4-5h0m5 8h0m1 1h0m3-3h0m1-5h0m1 1h0m0 6h0m1 9h0m4-13h0m0 8h0m2-9h0m3 7h0m0-10h0m9 0h0m2 8h0m1 12h0m5-8h0m4 3h0m3 2h0m3 11h0m1-11h0m1-13h0m10-3h0m2 29h0m2-20h0m0 0h0m3 6h0m0-4h0m1 3h0m1-13h0m2 23h0m1-19h0m6 16h0m12 3h0m2 5h0m1-2h0m2-14h0m0-7h0m1-6h0m4 8h0m7 5h0m0-2h0m2-8h0m3-2h0m4 20h0m1-4h0m8-4h0m13 4h0m1-18h0m1 27h0m5-8h0m4-10h0m1 17h0m0-7h0m0-1h0m0-10h0m5 22h0m1-18h0m4-10h0m6-1h0m1 2h0m2 17h0m0-3h0m6-13h0m0 4h0m1 20h0m4-15h0m1-5h0m8 7h0m0 10h0m0-11h0m0 14h0m7-5h0m4-22h0m7 1h0m-283 37h0m7 2h0m12-2h0m3 19h0m6-20h0m5 1h0m1 14h0m2 2h0m8-10h0m1-6h0m0-4h0m2 13h0m3 11h0m2-3h0m3-6h0m1 5h0m10-12h0m2 8h0m1 4h0m1 2h0m8-10h0m3 0h0m6-2h0m2-8h0m1 4h0m7 1h0m3-2h0m2-4h0m3 8h0m15 15h0m0-5h0m1-15h0m5-3h0m2 19h0m0-18h0m2 0h0m1 1h0m1-6h0m5 4h0m2 2h0m2 7h0m14 14h0m9-29h0m1 7h0m0 12h0m3-4h0m0 13h0m1-19h0m2 17h0m2-6h0m2 0h0m0 0h0m14 1h0m7-12h0m1 11h0m1-5h0m9-6h0m4-8h0m1 0h0m3 1h0m0 22h0m1-13h0m1 11h0m3-5h0m1-13h0m3 4h0m3 21h0m1-19h0m3 6h0m4-1h0m1-9h0m0 5h0m5 18h0m4-23h0m3-3h0m2 8h0m5-3h0m0-7h0m3 12h0m5-9h0m-255 29h0m8 0h0m2-1h0m6 0h0m2 2h0m0 10h0m2 9h0m1-22h0m4 1h0m1 17h0m4 1h0m1-3h0m1-14h0m11 20h0m3 3h0m4-6h0m1-7h0m0 7h0m3 5h0m0-9h0m1-4h0m1 0h0m3 11h0m3-21h0m4-1h0m0 16h0m1 1h0m2 5h0m3-8h0m1-12h0m0 9h0m0-10h0m1 23h0m4-11h0m0 3h0m1-8h0m0 5h0m1-9h0m5-4h0m2 8h0m1-1h0m2 2h0m4-10h0m3 17h0m5-5h0m3-6h0m1 7h0m3 14h0m6-23h0m1 17h0m2 1h0m0-21h0m4 18h0m0-16h0m4 25h0m1-6h0m2 4h0m1-17h0m0-7h0m9 27h0m3-22h0m10-5h0m2 6h0m0 0h0m5 19h0m4 3h0m4-24h0m6-2h0m6 10h0m0 5h0m0 0h0m3-14h0m1 18h0m1-22h0m6 8h0m1 18h0m1-3h0m1-23h0m1 10h0m11-5h0m1 4h0m3 2h0m2 1h0m4 2h0m1-6h0m10 1h0m0-10h0m0 10h0m0-8h0m12 1h0m23 10h0m-229 20h0m15-2h0m9 4h0m5 0h0m1 3h0m13 5h0m3 6h0m1 2h0m1-4h0m5-15h0m0 7h0m16-6h0m0-2h0m4 4h0m5 6h0m5 7h0m1 2h0m3 10h0m0-21h0m1 1h0m0 15h0m2-12h0m1 7h0m2-9h0m4-3h0m1-3h0m1 8h0m1-6h0m1 4h0m0-2h0m2 14h0m1 0h0m1-20h0m5 27h0m1-28h0m2 13h0m1 5h0m5-15h0m0 23h0m1-17h0m1 7h0m1 12h0m3-13h0m7 1h0m0-8h0m2 16h0m0-11h0m3 14h0m1-28h0m1 27h0m5 2h0m0-4h0m2-8h0m8 5h0m0-4h0m0 9h0m4-26h0m5 2h0m2-4h0m4 23h0m0-14h0m2 6h0m2 4h0m3-5h0m0-4h0m0 5h0m-111 34h0m5-3h0m1 3h0m1-10h0m1 8h0m1 10h0m2-12h0m4-2h0m1 8h0m0 5h0m4-11h0m5 12h0m1-15h0m5 7h0m2-4h0m0 7h0m2-6h0m2-6h0m0 4h0m2 8h0m0-5h0m2 12h0m1-3h0m1-13h0m2-9h0m3 10h0m1-5h0m1 16h0m1 0h0m2-14h0m2 5h0m5-5h0m6-9h0m0 3h0m1 5h0m1-7h0m2 16h0m0-3h0m9-10h0m0-6h0m3 6h0m1 2h0m1-1h0m6-3h0m3 0h0m14 5h0m1 3h0m2-10h0m-103 34h0m14 6h0m2-11h0m1 8h0m1-2h0m1 2h0m2 6h0m2 0h0m1-9h0m3-3h0m1 17h0m1 2h0m2-14h0m4 8h0m1-6h0m0 16h0m1-6h0m27-4h0"/>
<path id="c4" d="M1563 551h0m9-6h0m0 10h0m9-3h0m3-4h0m2-8h0m7-4h0m1 13h0m5-15h0m6-2h0m0 3h0m3 13h0m2 0h0m3 3h0m-107 32h0m5-5h0m4-2h0m1 7h0m13-24h0m4 21h0m10-7h0m2-1h0m3-6h0m3-3h0m3 14h0m4-10h0m2 5h0m6 10h0m3-6h0m2-10h0m2-5h0m2 18h0m0-12h0m3 1h0m1 11h0m2 3h0m1-7h0m1 7h0m1-5h0m0-6h0m11 6h0m1-18h0m6 25h0m1-15h0m1-11h0m1 12h0m4-12h0m3 17h0m0-7h0m4 10h0m2 0h0m4-12h0m14-10h0m-169 52h0m12 3h0m2-3h0m6-16h0m9-1h0m2-3h0m0 2h0m1-3h0m3 6h0m0 6h0m2 8h0m0-11h0m2-9h0m3 26h0m0-3h0m3 4h0m1-7h0m0 0h0m2 4h0m1-21h0m2 14h0m2-19h0m1 17h0m0 5h0m2-2h0m2-5h0m3-5h0m8 17h0m2-3h0m0 4h0m1-24h0m8 23h0m0 3h0m2-28h0m4 4h0m2-1h0m2 15h0m8 6h0m10-3h0m0-6h0m2 4h0m4-16h0m1 5h0m5-3h0m0-7h0m3 5h0m4-4h0m3 18h0m6 0h0m2-3h0m1-10h0m2 12h0m3 5h0m1 4h0m5-6h0m4-14h0m0-2h0m6 2h0m6 21h0m16 1h0m-178 11h0m3-9h0m4 6h0m2 9h0m5 1h0m2 9h0m1-8h0m0-3h0m0-15h0m0 5h0m1 17h0m0-9h0m1-6h0m4 19h0m2-8h0m2 7h0m0-14h0m2 2h0m1-2h0m3-10h0m6 0h0m0 7h0m1 5h0m4-8h0m0 22h0m7-25h0m1 24h0m5 3h0m1-2h0m11-6h0m9-18h0m7 21h0m0-14h0m0-4h0m1 9h0m1 8h0m0-5h0m4-7h0m4 1h0m1 0h0m0-12h0m2 18h0m1-8h0m1 16h0m3-12h0m5 6h0m4-19h0m1 22h0m2-6h0m5 5h0m11-17h0m5 23h0m0-16h0m2 13h0m4-11h0m4 4h0m0-12h0m18 2h0m2-2h0m2 10h0m1-4h0m0 2h0m0 5h0m3-14h0m4 4h0m0 19h0m1-26h0m3 7h0m1 10h0m5-6h0m1-1h0m0-10h0m2 19h0m1-5h0m1-6h0m1 8h0m3-6h0m1 10h0m2-18h0m2 13h0m2 8h0m2-15h0m1 9h0m2 0h0m1 7h0m4-7h0m7 10h0m-233 6h0m4 5h0m4 8h0m8 2h0m3 9h0m7-27h0m0 25h0m2-19h0m2 2h0m1-8h0m2 8h0m7 15h0m9 1h0m7-24h0m12 27h0m1-21h0m5 9h0m1-15h0m1 4h0m4 21h0m3-4h0m3 5h0m4-2h0m3-5h0m1 4h0m12-15h0m0 17h0m1 0h0m0-26h0m0 2h0m1 26h0m1-21h0m1 0h0m2 15h0m10-1h0m1-21h0m2 12h0m1-7h0m5 14h0m2-19h0m1 21h0m10-2h0m5-11h0m2 15h0m11-20h0m0 7h0m2 7h0m4-14h0m0 9h0m1 13h0m1-7h0m2 9h0m5-15h0m5 4h0m10-17h0m0 14h0m0 0h0m20 16h0m2-1h0m4-27h0m4 26h0m3-24h0m4 8h0m0 9h0m3-10h0m1-3h0m2 19h0m5-21h0m-239 41h0m2 0h0m0-10h0m2 7h0m2-8h0m4 10h0m1 11h0m1-18h0m1 11h0m0 3h0m7-13h0m5-5h0m10 18h0m5-3h0m0-11h0m0 13h0m1-17h0m12 5h0m5 3h0m1 7h0m6 5h0m1-19h0m6 0h0m0 19h0m2-4h0m3 5h0m2 3h0m4-25h0m9-3h0m4 6h0m1-4h0m2 22h0m0-19h0m0-2h0m0 18h0m2 4h0m1-8h0m2 7h0m2-9h0m1 0h0m4-10h0m2 23h0m2-24h0m0 3h0m1-3h0m2 6h0m14 8h0m1-9h0m0-3h0m1 13h0m2-6h0m3 5h0m13-5h0m1 13h0m1-23h0m1 5h0m1-2h0m2-6h0m0 26h0m4-17h0m4 19h0m3-26h0m0 4h0m6 20h0m5-16h0m8 0h0m1 1h0m4 1h0m4 3h0m1-4h0m0-2h0m5-1h0m2 1h0m2 6h0m3-14h0m2 3h0m1 10h0m5-11h0m6 14h0m3 1h0m6-19h0m0 12h0m2 5h0m1 6h0m5-13h0m0-2h0m1-6h0m5 23h0m15-8h0m0 7h0m1-1h0m4 2h0m0-5h0m3-6h0m0 5h0m1 9h0m5-5h0m4 3h0m48-22h0m-331 42h0m5-5h0m4-7h0m1-2h0m2 17h0m3-8h0m4-8h0m0 21h0m6-1h0m4-4h0m19 7h0m1 3h0m2-14h0m4 9h0m2-1h0m1 2h0m1-8h0m3 0h0m2 3h0m8-11h0m6-5h0m2 9h0m3 0h0m4-9h0m7 2h0m0 0h0m4-2h0m23 11h0m0 10h0m2-4h0m2-6h0m0 12h0m2-8h0m1-4h0m6 12h0m21-4h0m2-15h0m0 4h0m1-11h0m2 29h0m1-2h0m7-19h0m5 0h0m2 21h0m2-26h0m5 7h0m1-9h0m1 8h0m1 19h0m1-22h0m2 0h0m41 13h0m3-5h0m12-15h0m2 0h0m3 4h0m1 21h0m2 1h0m4-3h0m3 4h0m0-10h0m3 0h0m1-8h0m1 9h0m2-9h0m1 19h0m1-21h0m1 4h0m3 15h0m6 3h0m1-26h0m0-1h0m1 2h0m4 2h0m4 12h0m5-7h0m0-1h0m5-10h0m2 24h0m8-13h0m5 14h0m-319 32h0m4-10h0m4-10h0m0 13h0m2-17h0m2 12h0m1-1h0m2 15h0m2-9h0m1 8h0m3-27h0m2 20h0m3-15h0m0 13h0m1 3h0m0-7h0m1-4h0m1-9h0m1 20h0m2-5h0m2 12h0m0-21h0m1 13h0m1 7h0m2-21h0m3 4h0m0 3h0m1-13h0m2 18h0m1-14h0m1-4h0m1 28h0m5-14h0m0 4h0m0-8h0m1-5h0m2 24h0m1-2h0m15-5h0m5-14h0m3 14h0m2 0h0m3-8h0m3 6h0m2-5h0m7 10h0m2 3h0m1-12h0m1 13h0m3-9h0m0 3h0m1-6h0m4 11h0m3-4h0m5-21h0m1 23h0m2-3h0m3-9h0m3 15h0m1-25h0m5 19h0m1 2h0m1-1h0m1 2h0m1 1h0m0-5h0m17-18h0m1 13h0m4-12h0m4-1h0m4 19h0m0-6h0m2 3h0m2-3h0m3-4h0m0 14h0m0 0h0m1-1h0m0-3h0m6-8h0m0 4h0m3-2h0m2-12h0m1 7h0m3-12h0m0 20h0m0-3h0m9-4h0m1 2h0m4-5h0m25 4h0m3-7h0m1-5h0m1 17h0m7-20h0m2 21h0m3-8h0m11-4h0m0-5h0m4 12h0m0-4h0m6 0h0m4-6h0m1 0h0m0 24h0m3-14h0m2 11h0m0-2h0m1-13h0m0 0h0m2 5h0m0-8h0m3 16h0m0 0h0m1-10h0m1 1h0m0-10h0m7 7h0m0 14h0m1-6h0m1-4h0m1 1h0m1 8h0m1-22h0m7 12h0m4-3h0m5-5h0m3 8h0m0-5h0m1 18h0m2-18h0m0 4h0m3 11h0m1-15h0m3 1h0m0-8h0m3 25h0m7-14h0m2 12h0m1-8h0m3-6h0m3 16h0m1-15h0m2 7h0m9 2h0m-371 34h0m9-3h0m10 4h0m1-11h0m2-16h0m0 22h0m2-4h0m0-11h0m3 0h0m2 13h0m1-15h0m1 18h0m1-20h0m2 8h0m3 2h0m2-14h0m1 23h0m2-19h0m0 18h0m3-9h0m0-13h0m2 24h0m8-23h0m0 7h0m2 17h0m5-17h0m2 15h0m1 0h0m0-7h0m1-9h0m2 18h0m5-18h0m1 12h0m4 5h0m5-2h0m4-16h0m0 2h0m1-5h0m4 4h0m2-5h0m8 8h0m0-6h0m3 9h0m3 15h0m2-11h0m10 0h0m0 4h0m3-6h0m0 4h0m2 1h0m2-18h0m2 2h0m0 10h0m3 16h0m10-18h0m1-11h0m2 10h0m13-4h0m4 20h0m1-14h0m1-5h0m2 15h0m7-16h0m1 3h0m7 14h0m7 0h0m2 1h0m2-13h0m1 2h0m4 8h0m1-22h0m4 20h0m1 1h0m5-4h0m1-15h0m1 15h0m3-14h0m1 11h0m2-11h0m5 3h0m8 7h0m3-11h0m2-1h0m1 29h0m1-26h0m13 7h0m3-6h0m0 21h0m1-19h0m6 15h0m4 8h0m2-27h0m11 3h0m13 23h0m3-14h0m1 8h0m0 4h0m6-5h0m5-16h0m2 22h0m0-27h0m0 3h0m1 7h0m4-1h0m4-2h0m1-1h0m3 13h0m2 9h0m1-15h0m1-7h0m3 12h0m1-11h0m5 7h0m0-2h0m5 10h0m1-17h0m1 10h0m3 6h0m1-20h0m1 20h0m2 0h0m1-6h0m7 0h0m5 1h0m5 8h0m7-18h0m0 12h0m1-5h0m6-7h0m-376 35h0m1 11h0m2-8h0m1-14h0m5 15h0m5 3h0m1 7h0m1-7h0m1-8h0m0 0h0m2 11h0m2-4h0m5-2h0m2 8h0m1-8h0m3 3h0m1-8h0m1 6h0m3 3h0m1 7h0m1-3h0m8-19h0m3 11h0m1-13h0m0 7h0m6 11h0m2 7h0m3-12h0m3-7h0m2 3h0m2 14h0m1-13h0m2 7h0m7 1h0m0-18h0m3 9h0m3 10h0m1-4h0m8-1h0m2 10h0m13-3h0m0-23h0m4 0h0m1 25h0m14-8h0m4 0h0m2-9h0m0-7h0m4 27h0m7-13h0m2 13h0m1 0h0m1-19h0m3 10h0m1 4h0m5 1h0m0-1h0m3-22h0m2 25h0m4-18h0m1-4h0m0 15h0m4-14h0m1-6h0m2 18h0m2-1h0m1-7h0m0-2h0m0 10h0m1-9h0m2-7h0m3 12h0m1 13h0m0-16h0m8 13h0m2-2h0m6-11h0m11-2h0m0-3h0m1 8h0m5-7h0m1 10h0m0 7h0m4-15h0m2 16h0m2-21h0m4-2h0m2 10h0m8-6h0m2 8h0m2-2h0m3-10h0m2 2h0m1 15h0m3-3h0m2-13h0m1 17h0m2-7h0m1-7h0m5 0h0m1 12h0m2 1h0m1-8h0m3-6h0m2-2h0m5 0h0m2 20h0m2-7h0m7 5h0m0-2h0m7-5h0m0 5h0m1-7h0m0 9h0m1-18h0m10 21h0m1-1h0m8 2h0m18-2h0m0-13h0m1 11h0m1-7h0m0 6h0m2-11h0m2-7h0m2 26h0m2-27h0m1 5h0m0-4h0m5 8h0m2 8h0m2 11h0m3-15h0m0-3h0m5-7h0m5 4h0m-390 49h0m9-4h0m2-6h0m2-12h0m1 16h0m3 4h0m2-6h0m1 6h0m7-24h0m5 17h0m0-12h0m2 15h0m13-2h0m0 8h0m1-25h0m2 6h0m3 10h0m2-12h0m3 14h0m3-16h0m1 15h0m1-18h0m2 14h0m0 1h0m0-12h0m9 4h0m4-4h0m4 3h0m6 19h0m6-3h0m0 1h0m1 0h0m8-17h0m3 9h0m1-8h0m5 0h0m0 9h0m2-2h0m1-5h0m1-4h0m0 20h0m2-14h0m0-9h0m2 13h0m3 7h0m2 0h0m2-12h0m2-8h0m2 3h0m1 9h0m3-11h0m0 18h0m2-22h0m3 26h0m10-12h0m0 14h0m2-19h0m1-7h0m2 4h0m11 2h0m3-7h0m2 7h0m4 0h0m2-2h0m0 17h0m6 4h0m0-24h0m1 20h0m3 0h0m3-15h0m4 4h0m2 10h0m1 5h0m0-16h0m2 11h0m1-11h0m6 16h0m1-19h0m3 8h0m6 5h0m3-19h0m3 19h0m2-2h0m3-6h0m3 11h0m5 4h0m1-12h0m6 9h0m21-11h0m10-2h0m5 2h0m2 14h0m3-21h0m3 11h0m0-14h0m4 0h0m1 12h0m7-10h0m0 3h0m0-1h0m5 0h0m0 17h0m1-17h0m3 18h0m2-5h0m1-15h0m1 6h0m1 8h0m1-15h0m1 25h0m1-22h0m0-5h0m4 16h0m0-13h0m1-5h0m2 4h0m7 20h0m2-12h0m5-3h0m3-3h0m1 10h0m0-4h0m1-5h0m0 17h0m16-10h0m3-2h0m2 5h0m4-5h0m4 14h0m2-14h0m5 8h0m1 4h0m7-3h0m0-20h0m1 16h0m5-12h0m20 24h0m1-10h0m12 9h0m2 1h0m-438 10h0m2-6h0m3 5h0m3 8h0m1-4h0m0 9h0m1-6h0m10-11h0m1 5h0m0 5h0m3 0h0m1-3h0m4 16h0m8-22h0m7 5h0m2-7h0m2 1h0m1 2h0m5 4h0m2 17h0m4-27h0m17 2h0m0 4h0m1 5h0m1-7h0m1 1h0m3 11h0m0 0h0m19-10h0m1 14h0m3-18h0m2 15h0m3-8h0m1 3h0m0 3h0m1 12h0m4-3h0m2-23h0m2 28h0m1-5h0m2-24h0m6 17h0m1-14h0m2 0h0m1 14h0m1-12h0m1 17h0m15-21h0m4 22h0m1 0h0m4-8h0m4 14h0m0-17h0m4-10h0m4 18h0m1-6h0m6-2h0m2 7h0m2 9h0m2-5h0m2-12h0m2 3h0m0 11h0m6-1h0m1 4h0m4-14h0m7-1h0m3 12h0m1 1h0m9-21h0m3 20h0m11-9h0m1-8h0m2 13h0m0-15h0m2 8h0m2-12h0m9 25h0m0-24h0m0 9h0m0-5h0m0 16h0m4-3h0m1-15h0m1 4h0m4 10h0m1-5h0m2 14h0m2-10h0m1-11h0m0 13h0m1-1h0m2 1h0m2 6h0m4-10h0m2 7h0m2-5h0m1-7h0m4 13h0m0 4h0m7-1h0m4-21h0m0 17h0m3 0h0m1-5h0m1-7h0m4 10h0m19-13h0m2-1h0m5 6h0m2 5h0m0 8h0m3-8h0m2-13h0m2-4h0m11 2h0m1 0h0m1-1h0m14 5h0m8 9h0m1-7h0m6 15h0m1-6h0m4 11h0m3-25h0m0 17h0m9-8h0m16 0h0m3-6h0m6 15h0m2-3h0m0-5h0m1 6h0m1 8h0m4-1h0m2-7h0m2-9h0m0 1h0m1 7h0m8-19h0m4 14h0m6 8h0m1 6h0m7-9h0m3 9h0m-463 20h0m6 6h0m2-7h0m4 2h0m14 8h0m1-10h0m4 2h0m3 1h0m6-5h0m0 1h0m3-7h0m4 18h0m6 0h0m4-2h0m0-15h0m0-7h0m0 20h0m4-22h0m0 13h0m1 7h0m2 0h0m8 5h0m0 2h0m12-7h0m2-16h0m7 2h0m3 14h0m3-20h0m1 11h0m6 15h0m2-4h0m0-13h0m5-8h0m1-1h0m1 2h0m2 18h0m0-6h0m15 13h0m0-18h0m6 15h0m1 1h0m4-10h0m2-15h0m0 9h0m2-3h0m0 21h0m0-7h0m5 6h0m2-26h0m1 12h0m1-6h0m25 12h0m6-7h0m2 11h0m1-17h0m1 15h0m3-6h0m5-5h0m5-7h0m1 21h0m1-16h0m3-6h0m2 14h0m1-2h0m1 9h0m0-8h0m0 8h0m2-21h0m1 10h0m0-8h0m1-2h0m2 21h0m2-20h0m0-3h0m0 15h0m1-14h0m1 3h0m2-3h0m1 25h0m7-16h0m7 9h0m3 3h0m2 2h0m1-6h0m0 6h0m1-3h0m4-6h0m1-8h0m1 4h0m8 7h0m5 2h0m3 1h0m3-13h0m7-7h0m1 9h0m7 5h0m2 5h0m0-11h0m5-4h0m0 12h0m2-2h0m0 13h0m3-2h0m3-12h0m1 0h0m1 9h0m0 5h0m9-8h0m6 6h0m1-25h0m1 7h0m1 4h0m1 3h0m5-4h0m1-5h0m1 18h0m2-2h0m4-10h0m1 15h0m7-4h0m1-8h0m3-2h0m1-9h0m5 15h0m2-4h0m1 4h0m0-3h0m1-1h0m14 7h0m8-1h0m0-14h0m0 8h0m9-10h0m4 3h0m3 11h0m3-17h0m6 7h0m9 12h0m0-13h0m1 10h0m1-6h0m3-5h0m2 0h0m8-7h0m3 21h0m2-5h0m1-3h0m1-10h0m9 18h0m4-11h0m-443 21h0m4-2h0m6 16h0m0-8h0m1 11h0m5 2h0m0 1h0m2 8h0m2-11h0m2-13h0m1-3h0m4 9h0m2-11h0m14 3h0m5-2h0m2 16h0m1-16h0m5 13h0m3-6h0m2 7h0m4 1h0m1-9h0m1-7h0m3 27h0m2-13h0m1-4h0m3 2h0m3-4h0m3-6h0m1 3h0m8 12h0m5 0h0m4 2h0m5 6h0m0-1h0m4-8h0m4 10h0m22-2h0m13-23h0m19 27h0m1-16h0m5 16h0m5-17h0m2-2h0m19 7h0m2-15h0m5 23h0m5-1h0m11-18h0m3 9h0m2-9h0m10 5h0m0-10h0m11 5h0m6 4h0m8-9h0m8 21h0m5-16h0m1-3h0m3 5h0m0-1h0m5 6h0m0-11h0m5 15h0m2 11h0m0-6h0m1 6h0m0-22h0m1-4h0m1-1h0m4 21h0m3-7h0m3-14h0m19 3h0m7 13h0m7-5h0m1-9h0m2-2h0m1 4h0m1 21h0m0-5h0m1-6h0m3 0h0m0 1h0m1 4h0m1-17h0m2 0h0m1-2h0m0 23h0m5-16h0m1 20h0m3-11h0m0-5h0m3 1h0m6 4h0m3-8h0m0 4h0m3 12h0m4 3h0m0-19h0m11-5h0m5 8h0m11-1h0m4-5h0m2 5h0m0 3h0m-398 21h0m0-1h0m1 15h0m4 1h0m0 0h0m1-18h0m1 9h0m2 11h0m0-2h0m1 8h0m3-15h0m2-5h0m1 8h0m2-8h0m2-7h0m5 23h0m0-23h0m0 27h0m3-1h0m4-16h0m0 6h0m2-6h0m3-10h0m1 17h0m11-15h0m5-3h0m3 6h0m3-1h0m1 19h0m3-18h0m14-1h0m25-5h0m9 3h0m6-1h0m1 10h0m0-3h0m1 5h0m2-6h0m1-8h0m38 2h0m27 1h0m3 0h0m90-2h0m22 21h0m5-12h0m10 6h0m1-4h0m1 3h0m11-13h0m12 13h0m4-5h0m2-1h0m6-1h0m-357 27h0m24-1h0m2 1h0m1 1h0m1-3h0m5 10h0m7-5h0m45 19h0"/>
<path id="c5" d="M2220 1365h0m6-4h0m5-4h0m3-8h0m7 2h0m4 10h0m1-7h0m0-7h0m6 6h0m6-5h0m5 2h0m0 11h0m7-13h0m1 15h0m4-15h0m0 2h0m0 3h0m2 8h0m6-1h0m9-3h0m9 2h0m13 3h0m1-7h0m7-1h0m2-7h0m9 12h0m2 0h0m-153 34h0m2-12h0m4 4h0m7-3h0m1 3h0m9-2h0m0 5h0m2-7h0m4-13h0m9 0h0m1 21h0m2-9h0m3 1h0m2-16h0m1 25h0m2-16h0m1-7h0m3 19h0m0 0h0m2-18h0m2 21h0m1-13h0m6-2h0m1 12h0m3-9h0m1 13h0m1 4h0m1-23h0m1 6h0m2 11h0m0-12h0m3 7h0m6 1h0m4-16h0m5 12h0m7 12h0m3 2h0m3-6h0m3-4h0m3-1h0m3 5h0m0-17h0m0-6h0m3 5h0m3-1h0m0 14h0m0-10h0m3 0h0m6 18h0m1-10h0m1-14h0m1 22h0m5-3h0m1-14h0m2 4h0m0 1h0m2 12h0m2-17h0m1 19h0m2-13h0m0-5h0m2 8h0m0-3h0m5-7h0m1 16h0m1 3h0m3-22h0m0 24h0m1-25h0m4 14h0m4-10h0m0-1h0m3 19h0m1 4h0m2-16h0m1 13h0m0-11h0m4 10h0m0-7h0m3 11h0m7 0h0m0-7h0m1 2h0m8 2h0m-222 19h0m6 8h0m1-6h0m2-7h0m4 13h0m1 4h0m0-1h0m1-13h0m1 11h0m0-4h0m7 3h0m6-17h0m11 21h0m3-10h0m9-11h0m0 17h0m9 7h0m5-5h0m3-14h0m0 5h0m4-14h0m2 12h0m1-12h0m1 10h0m3 11h0m1 4h0m1-26h0m0 19h0m0-12h0m3-4h0m1 16h0m0-18h0m3 11h0m11-5h0m1 21h0m6-1h0m6-1h0m1-2h0m5-7h0m1-15h0m3 22h0m20 4h0m2-1h0m7-19h0m2 10h0m1 10h0m0 0h0m1-7h0m0 0h0m4-15h0m0 21h0m2-5h0m16 4h0m4 3h0m2-10h0m1 1h0m2-15h0m0-4h0m0 20h0m3-9h0m1 11h0m1-17h0m2 12h0m1-9h0m0-5h0m1 20h0m3-21h0m11 16h0m5-19h0m4 19h0m5-2h0m5-14h0m1 2h0m0 17h0m4-7h0m-243 45h0m11-11h0m2-4h0m1-1h0m1 11h0m1-17h0m3 3h0m3 2h0m4 1h0m3-5h0m2-7h0m7 14h0m2-5h0m0 9h0m1 2h0m2-1h0m3 2h0m1 2h0m0-8h0m8-13h0m1 9h0m14-13h0m15 17h0m10 9h0m0-2h0m2-14h0m2 2h0m0 7h0m0-13h0m1-5h0m4 3h0m5 23h0m1-24h0m5 8h0m2 11h0m1-15h0m3 9h0m5 11h0m0 0h0m2-20h0m0 10h0m0-9h0m7-1h0m3-5h0m4 1h0m9 4h0m19 0h0m3-1h0m1 13h0m3-12h0m0 15h0m3-21h0m0 21h0m1-6h0m1-6h0m2 5h0m1 1h0m2 2h0m10 5h0m2 4h0m0-9h0m2 1h0m1-4h0m5 11h0m3-3h0m1-3h0m4-4h0m4 6h0m0 0h0m2-11h0m6 11h0m1-11h0m1 18h0m2-21h0m0-7h0m1 15h0m10 7h0m1-4h0m3-11h0m2 21h0m-305 5h0m56 22h0m2 0h0m1-1h0m2 0h0m2-17h0m3 7h0m5 5h0m0 6h0m2-12h0m4 6h0m0 8h0m3-8h0m2-6h0m0 12h0m7 3h0m6-25h0m3 7h0m4-9h0m9 4h0m1 9h0m2-13h0m0 7h0m3-2h0m6 14h0m1-18h0m7 2h0m3 12h0m1 6h0m2-1h0m2-8h0m4 1h0m4 13h0m3-25h0m3 5h0m3-4h0m2 4h0m7-4h0m2-3h0m2 11h0m6 0h0m4-6h0m2 6h0m0 8h0m2-5h0m1 2h0m1 2h0m1-8h0m2 11h0m4-7h0m0 12h0m1-13h0m2 1h0m6 9h0m0-4h0m4-12h0m3 13h0m1 5h0m0-1h0m1-14h0m1 16h0m1-13h0m1-1h0m1 8h0m1-16h0m0 12h0m0-7h0m1 6h0m1 9h0m0 5h0m1-3h0m0 0h0m1-9h0m3-11h0m1 17h0m1-9h0m0-14h0m3 5h0m8 20h0m2-13h0m0 4h0m3 6h0m5 1h0m2-13h0m0-7h0m1 23h0m4-14h0m2-12h0m3 16h0m0-5h0m3 10h0m3 4h0m1-26h0m2 4h0m0 4h0m4 12h0m8-20h0m0 16h0m6-5h0m3-5h0m0 8h0m3 15h0m15-27h0m0 2h0m1 5h0m1-8h0m1 2h0m1 7h0m3-4h0m2 0h0m1 11h0m3 6h0m2 1h0m6-10h0m3-8h0m2 9h0m1 14h0m3-23h0m1 18h0m1-7h0m5-6h0m-297 19h0m12 7h0m1 22h0m2-27h0m6 15h0m0-11h0m2 21h0m1-3h0m1 1h0m1 3h0m0-15h0m2 4h0m0 2h0m2-15h0m0 16h0m0 3h0m3 3h0m2 1h0m2-2h0m0 4h0m6-4h0m1-9h0m6 9h0m2-1h0m0-4h0m1-6h0m4 8h0m1 2h0m2 3h0m3-8h0m1 7h0m3-6h0m2 3h0m4-8h0m9 13h0m0-23h0m1 19h0m1-11h0m1-5h0m4 16h0m0-22h0m5 16h0m3 6h0m1-21h0m2 13h0m0 0h0m1-15h0m0 9h0m2 11h0m1-21h0m2 19h0m2-10h0m9 1h0m1 0h0m3-2h0m22 14h0m3 5h0m3-25h0m2 5h0m3 4h0m6 19h0m3-4h0m1-19h0m4 6h0m1-7h0m4 3h0m1-1h0m15 2h0m2-1h0m3 12h0m2 6h0m1-17h0m1 15h0m0-19h0m4-4h0m2 21h0m1 3h0m5-10h0m5 12h0m2-16h0m2 5h0m4-11h0m0-3h0m2 13h0m1-7h0m1 8h0m3 13h0m3-11h0m4-3h0m1 7h0m3-3h0m0-8h0m2 2h0m4 15h0m1-11h0m2-8h0m2 7h0m4 11h0m4-14h0m4-1h0m4-5h0m6-3h0m19-3h0m-277 42h0m1 8h0m2-19h0m1 20h0m2 2h0m1-4h0m5-11h0m0 13h0m0-12h0m2-8h0m3 18h0m2-15h0m2 7h0m0-3h0m3 0h0m0-1h0m1-8h0m3 5h0m13 4h0m0-5h0m9-4h0m5 8h0m2 20h0m3-28h0m1 15h0m1 7h0m4-6h0m0-10h0m3 18h0m5-3h0m1-17h0m2 20h0m1-20h0m1 5h0m1 16h0m2-15h0m3-9h0m0 11h0m1 13h0m3-26h0m1 24h0m1 0h0m17-10h0m3-6h0m0 20h0m4-22h0m2-5h0m5 9h0m0 14h0m2-7h0m0 2h0m7-18h0m1 18h0m1-6h0m1-12h0m4 2h0m0 3h0m1 10h0m2 9h0m1-15h0m2 5h0m0 12h0m1-12h0m2 2h0m1-15h0m1 0h0m2-1h0m3 12h0m6-10h0m4 6h0m6 0h0m7 2h0m10-5h0m3 23h0m2-26h0m1 12h0m7-4h0m1 5h0m4-6h0m1 9h0m0-10h0m0-3h0m7-5h0m5 0h0m0 9h0m6 0h0m5-6h0m1-3h0m8 11h0m-178 30h0m5-5h0m8 3h0m0 11h0m0-6h0m0 0h0m2 4h0m1-6h0m0-9h0m0 16h0m1 3h0m1-10h0m3 5h0m0-9h0m1 15h0m0-7h0m3-11h0m4 16h0m2-2h0m0-7h0m3 3h0m5-13h0m0 14h0m1 4h0m4 3h0m1-22h0m1 12h0m1 12h0m2-20h0m0 0h0m4 15h0m1-4h0m1-16h0m1 15h0m0 4h0m1 4h0m2 1h0m4 0h0m10-22h0m1 18h0m1-6h0m2 8h0m3-18h0m3 15h0m1 6h0m1-11h0m1 6h0m1-5h0m0-5h0m3-2h0m1-2h0m4 5h0m11-5h0m2 15h0m0 6h0m3-2h0m0-9h0m0 5h0m3-2h0m4-13h0m1-6h0m6 1h0m-40 28h0"/>
<path id="c6" d="M1340 459h0m1 6h0m16-8h0m8 7h0m7-2h0m3 3h0m28 0h0m5-13h0m2 13h0m-206 20h0m6 9h0m8-7h0m11-2h0m85-10h0m4 15h0m3-18h0m2-3h0m1-2h0m5 4h0m6-1h0m4 9h0m5-6h0m3-4h0m0 17h0m2-14h0m2 14h0m2 7h0m2-14h0m3-5h0m2 6h0m7 1h0m1 2h0m1 0h0m1-4h0m4 1h0m1-12h0m2 4h0m0 23h0m1-5h0m2-22h0m0 19h0m0 0h0m6 2h0m1-5h0m9 9h0m5-27h0m0 1h0m9 15h0m1 7h0m0-23h0m4 2h0m1 17h0m-239 37h0m8-5h0m2 5h0m5-9h0m0 4h0m2-13h0m6 9h0m0-10h0m2 4h0m2-4h0m6 18h0m4-23h0m1 25h0m3-21h0m2 21h0m7-10h0m0-1h0m1-10h0m6 14h0m0-14h0m0 21h0m3-11h0m12-7h0m5-1h0m2-7h0m3 4h0m8-4h0m9 10h0m6-2h0m1 1h0m0 18h0m2-11h0m9 3h0m12-18h0m8 14h0m1-9h0m3-3h0m0 6h0m1 12h0m3-7h0m1-3h0m3-7h0m18 12h0m18-3h0m0 11h0m3 0h0m1-18h0m6 1h0m2 0h0m3-6h0m9 21h0m1 4h0m1-9h0m0-17h0m1 17h0m1-3h0m1 7h0m0 5h0m2-12h0m1 3h0m1-3h0m6 9h0m5-5h0m1 3h0m0-16h0m1 2h0m2 9h0m6-12h0m3-5h0m-268 57h0m9-18h0m2-6h0m2 8h0m6 10h0m5-4h0m0-11h0m2 18h0m0-5h0m0-15h0m3 19h0m2 0h0m0-4h0m4-8h0m11 15h0m4-5h0m23-16h0m3-2h0m1 14h0m1-10h0m7 3h0m17 16h0m1-7h0m1 4h0m12-23h0m4 9h0m14-7h0m5 3h0m23-6h0m4 26h0m3 2h0m3-24h0m25 15h0m1 5h0m4-6h0m3-14h0m0 20h0m10 4h0m34-26h0m9-1h0m-313 51h0m45 7h0m1-2h0m10-3h0m2-7h0m2-6h0m1 10h0m1-9h0m1 18h0m1-24h0m0 15h0m3 0h0m1-1h0m3-14h0m10 15h0m1 3h0m1-7h0m1 4h0m2 9h0m1-18h0m1-8h0m1 4h0m2 12h0m2 3h0m2 4h0m2-17h0m0 11h0m4-4h0m5-8h0m4 4h0m3 9h0m9 0h0m5-11h0m1 2h0m1 10h0m3-2h0m2-11h0m4-8h0m2 23h0m2-9h0m2-13h0m1 2h0m5 1h0m28 3h0m0-1h0m1-1h0m12 9h0m4-10h0m23 1h0m1-2h0m1-3h0m4 6h0m10 15h0m1 1h0m12-14h0m1-8h0m4 28h0m9-14h0m2-1h0m4 3h0m3-16h0m3 11h0m3 14h0m1-20h0m1-4h0m2-1h0m4 14h0m6 12h0m8-17h0m-260 34h0m2-1h0m4-5h0m1-3h0m0 12h0m3 6h0m12-9h0m11-9h0m8-4h0m9 5h0m1 0h0m16-5h0m5 3h0m1 2h0m2 7h0m0-1h0m3-8h0m12 0h0m3-3h0m4 6h0m4 1h0m9 5h0m5 5h0m3 0h0m8-12h0m2 12h0m5-5h0m9 6h0m4 6h0m23-12h0m3-8h0m4 20h0m3-24h0m4 13h0m2-11h0m0 19h0m2-22h0m2 6h0m1 20h0m1-9h0m4-9h0m2-9h0m3 9h0m1-2h0m3 12h0m2 4h0m2-4h0m1-1h0m7-18h0m2 27h0m1 0h0m2-8h0m0 9h0m4-6h0m2-14h0m2 6h0m0 3h0m5-17h0m3 1h0m6 4h0m2 3h0m4-4h0m-252 48h0m3-16h0m5-5h0m0 14h0m2-8h0m10 12h0m1 1h0m1-3h0m3 1h0m20 8h0m5-16h0m4 20h0m2-4h0m0-12h0m1-3h0m3 4h0m0 10h0m6 4h0m5-14h0m1-5h0m1 13h0m2-23h0m1 13h0m0 14h0m2-25h0m7 12h0m5 12h0m2 2h0m12-28h0m4 5h0m1 9h0m3 14h0m6-10h0m2-1h0m5 9h0m1-5h0m1-6h0m1 4h0m12-12h0m49 5h0m5 18h0m3-27h0m4 8h0m2-1h0m1 14h0m3 4h0m0-6h0m6-6h0m2 3h0m1-15h0m1 16h0m0 1h0m0-6h0m5-5h0m3-6h0m1 6h0m2 12h0m3-17h0m2 4h0m1 12h0m0 7h0m0-16h0m0 2h0m2-2h0m4-8h0m3 9h0m0-9h0m3 3h0m6 2h0m-235 32h0m3 4h0m4 2h0m3 1h0m9-3h0m1-4h0m3 13h0m3 3h0m5-26h0m3 9h0m4 4h0m1 6h0m0-8h0m2 2h0m1 6h0m2 0h0m24 9h0m3-11h0m3-15h0m4 11h0m1 14h0m1-7h0m3-7h0m1 10h0m8-3h0m7-6h0m1-5h0m5 10h0m2 0h0m2-10h0m0 3h0m13 0h0m0 9h0m0 4h0m1 1h0m16 0h0m4-2h0m27-6h0m0-16h0m8 26h0m6-8h0m2-11h0m6-9h0m2 5h0m2 23h0m0-1h0m1-23h0m4 1h0m3 4h0m3-9h0m3 19h0m0 1h0m2-13h0m0 15h0m4 1h0m0 1h0m1 2h0m0-10h0m1-6h0m1-7h0m4 6h0m2 1h0m2-7h0m-218 45h0m5-12h0m5-4h0m2-1h0m3 10h0m0-8h0m1 3h0m4-7h0m2 30h0m1-8h0m11-13h0m8 1h0m0 9h0m0-6h0m1-1h0m0 8h0m5-15h0m0 18h0m14-7h0m3-5h0m1 5h0m19-5h0m14 7h0m2-9h0m3-4h0m5 8h0m5-11h0m1 20h0m3-20h0m0 8h0m1 19h0m2-5h0m4-3h0m1 7h0m0-25h0m0 18h0m13 9h0m6-18h0m2 2h0m13-9h0m7 21h0m0-17h0m0 16h0m1-25h0m2 7h0m3 20h0m3-25h0m0-1h0m8 12h0m3-9h0m-165 40h0m10-3h0m2-9h0m1 1h0m2-1h0m1 0h0m4 1h0m7 12h0m3 4h0m0-12h0m0 10h0m1 8h0m1-21h0m1 9h0m3 4h0m1 11h0m3-2h0m14-3h0m3-12h0m0 4h0m4 12h0m2-24h0m5 5h0m3 20h0m1-26h0m3 20h0m0-9h0m2-11h0m1 13h0m5-1h0m9 14h0m0-6h0m0-13h0m1 6h0m2-12h0m8 1h0m4 5h0m2 0h0m2-6h0m7 26h0m7-16h0m9-1h0m1 8h0m8 8h0m0-26h0m2 19h0m0 1h0m0-5h0m1-3h0m5 6h0m0-4h0m1 10h0m1-21h0m0 17h0m4 0h0m2-2h0m9 1h0m6 9h0m3-25h0m4 23h0m-133 12h0m2 1h0m8-8h0m10 26h0m2-27h0m6 0h0m1 0h0m4 20h0m11-10h0m3-12h0m2 30h0m1-3h0m1-24h0m3 23h0m2-11h0m0-2h0m1 10h0m1-7h0m2 11h0m8-24h0m2 8h0m1-9h0m16 24h0m4 3h0m1 0h0m2-14h0m6 10h0m6-8h0m2-15h0m2 7h0m13-4h0m2 19h0m2-18h0m1 23h0m-127 10h0m11 14h0m7 1h0m22-16h0m3-5h0m6 1h0m5 5h0m0-7h0m4 8h0m3-5h0m3-5h0m15 26h0m0-5h0m2-18h0m1 19h0m5 4h0m1-21h0m18 19h0m5-11h0m1 0h0m6-7h0m0 17h0m1-7h0m1 8h0m6-6h0m0-13h0m2 17h0m-124 21h0m1-3h0m1 3h0m7 5h0m1 2h0m7-9h0m5-5h0m0 4h0m4-1h0m1-1h0m1-7h0m8 11h0m3 7h0m3-15h0m1 15h0m2 0h0m1 1h0m5-19h0m20 17h0m16 4h0m0 5h0m2-23h0m4 14h0m1-10h0m1 2h0m2 12h0m1-2h0m1-15h0m2 2h0m8 23h0m4-10h0m1 6h0m6-10h0m4-11h0m-111 27h0m6 4h0m1 16h0m0 8h0m2-5h0m1-25h0m3 14h0m3 4h0m1 1h0m3 4h0m25-1h0m2 3h0m1-21h0m4-4h0m0 11h0m1-6h0m0 7h0m5 9h0m1-16h0m1 12h0m0-5h0m2 5h0m1 10h0m3-18h0m0 19h0m1 0h0m2-1h0m2-12h0m0-14h0m1 28h0m3-28h0m1 6h0m1-4h0m1 19h0m0-15h0m1 2h0m1 5h0m4 10h0m0-9h0m3-3h0m2-5h0m2 4h0m3 3h0m9 0h0m3-13h0m-39 31h0"/>
<path id="c7" d="M900 1687h0m7 5h0m2-1h0m5-8h0m2 0h0m1-3h0m4 11h0m13-4h0m20 7h0m-83 30h0m3-23h0m0 9h0m2-3h0m2 10h0m3-5h0m3-3h0m5 9h0m1-5h0m0-8h0m8 18h0m0-24h0m1 21h0m0-10h0m1 12h0m1-1h0m1-19h0m1 3h0m2 10h0m2 1h0m2-4h0m0 8h0m2-4h0m0-5h0m5-1h0m0 5h0m2-3h0m5-16h0m3 10h0m0 11h0m1 7h0m3-7h0m0-11h0m4 14h0m14-16h0m3-5h0m0 9h0m5 17h0m1-13h0m1 0h0m2-8h0m3 6h0m1-2h0m3 10h0m2-11h0m0 14h0m1-24h0m-104 30h0m13 7h0m6-7h0m2 7h0m2 5h0m5-4h0m0-3h0m5 14h0m8-10h0m2 3h0m5-3h0m0-2h0m2 14h0m4-9h0m0 8h0m9-11h0m0 0h0m0-7h0m1 2h0m0-4h0m2 13h0m0 5h0m1-13h0m0 8h0m2 13h0m3-28h0m2 27h0m18-14h0m3 1h0m0-4h0m1 10h0m9 10h0m1-22h0m0 2h0m11 2h0m2 9h0m8-3h0m0-5h0m6 8h0m6-3h0m2 2h0m2 6h0m0-9h0m1 9h0m2-3h0m1 6h0m13 1h0m-120 5h0m22 6h0m2-5h0m2-2h0m2 15h0m4 4h0m1-3h0m3-14h0m2-3h0m1 13h0m5 12h0m5-5h0m1-3h0m13-12h0m5 16h0m0-21h0m7 17h0m2 7h0m3 3h0m3-2h0m9-1h0m1-12h0m7 1h0m2-4h0m1-11h0m2 7h0m3 15h0m1-19h0m1 1h0m1 20h0m2-10h0m0 6h0m6 5h0m4 2h0m7-3h0m21-3h0m2 3h0m0 1h0m-109 6h0m26 2h0m6 1h0m4 0h0m3-3h0m3 9h0m1-10h0m2 2h0m6 4h0m14 3h0m5-9h0m1 6h0m15 1h0m1-7h0m0 2h0m6 1h0m3 2h0m1-1h0m0-2h0m1-1h0m6 6h0m4 3h0m0-3h0m6-5h0m-10 35h0"/>
<path id="c8" d="M1579 1064h0m3-23h0m1 20h0m9-15h0m4 18h0m1-21h0m12 6h0m4 13h0m10-7h0m16 3h0m-79 27h0m2-9h0m4 14h0m3-1h0m31-21h0m4 15h0m1 0h0m2-12h0m2-3h0m4 1h0m5 22h0m5-7h0m3-2h0m1-5h0m3 13h0m3 3h0m1-21h0m0 14h0m2-8h0m1 9h0m1-4h0m2 1h0m5-11h0m12-4h0m8 24h0m1-1h0m-131 19h0m7 3h0m4 1h0m5 7h0m1-21h0m0 9h0m3 14h0m0-1h0m2-3h0m3-2h0m1-13h0m1 17h0m1-6h0m2-3h0m0-16h0m1 4h0m1 8h0m2 3h0m1-10h0m5-2h0m1 15h0m8 8h0m12-22h0m2 2h0m3-1h0m1-5h0m3 6h0m2 9h0m2-8h0m2 5h0m9 0h0m3 8h0m1 6h0m0-16h0m5-8h0m0-1h0m2 18h0m3-18h0m0 6h0m3 13h0m4-13h0m3 7h0m0-13h0m4 22h0m1-1h0m1-13h0m0 4h0m7 15h0m4-11h0m4-17h0m3 24h0m2-1h0m2 0h0m0-13h0m1 14h0m3-15h0m22-9h0m21 13h0m-203 16h0m12 7h0m2 4h0m25-3h0m6-5h0m8 15h0m13-15h0m0 24h0m2 2h0m1-21h0m4 20h0m1-21h0m4-5h0m2 3h0m2-5h0m24 14h0m0 8h0m0-9h0m1-8h0m0-4h0m2 27h0m0-16h0m1 5h0m2-9h0m0-1h0m4 21h0m1-16h0m3 15h0m6-7h0m6 5h0m3-12h0m1-12h0m0 17h0m1-2h0m0 9h0m0 0h0m1-5h0m1-7h0m1 16h0m6-28h0m1 9h0m0-4h0m5 5h0m9-6h0m6-3h0m1 13h0m6-8h0m3 4h0m2 5h0m1-3h0m1-4h0m3 9h0m3-3h0m9 6h0m3 4h0m7-2h0m6-2h0m-213 22h0m5-6h0m4-1h0m6 1h0m4-7h0m16 29h0m10-12h0m0-7h0m2 12h0m3 6h0m3-4h0m4-4h0m1 3h0m5-20h0m1 7h0m5 4h0m1 10h0m2-25h0m9 2h0m6 4h0m1-4h0m11 6h0m26 17h0m9 2h0m7-1h0m2 4h0m2-11h0m4 4h0m11-23h0m2 8h0m0 11h0m4 6h0m8-17h0m2 16h0m11-1h0m1-22h0m0 22h0m16-21h0m0 26h0m3-8h0m1 5h0m3 0h0m4-7h0m2 3h0m1-3h0m9-12h0m2 16h0m9 4h0m-244 15h0m1 4h0m0-8h0m1 14h0m0-19h0m2 15h0m1 9h0m2-17h0m1 8h0m3-1h0m1 8h0m2 3h0m0-9h0m1-4h0m5 5h0m2 10h0m4-18h0m2 18h0m4-29h0m7 15h0m2 4h0m1-5h0m5 2h0m3 2h0m5 5h0m1-18h0m0 23h0m3-1h0m1 1h0m1-22h0m15 13h0m5-3h0m3-1h0m3 9h0m1-20h0m2 6h0m1-5h0m5-1h0m3 8h0m4-8h0m6 9h0m2-8h0m2 12h0m0 9h0m3-2h0m2 4h0m1-2h0m1 3h0m0-12h0m5 11h0m3-5h0m1-4h0m6-10h0m4 14h0m3-14h0m1 10h0m3-3h0m2-4h0m2-4h0m1 6h0m0 5h0m5-8h0m0 15h0m3-21h0m1 20h0m2-19h0m3 22h0m1-7h0m4-9h0m1 0h0m0 3h0m15-10h0m4 12h0m3-14h0m2 1h0m0 6h0m5 6h0m0-12h0m2 8h0m2 1h0m1-6h0m0 14h0m3-2h0m2 4h0m1 2h0m1-11h0m7-9h0m0-2h0m1 16h0m2 2h0m0 3h0m7-3h0m2-20h0m6 8h0m1-2h0m2 1h0m0 12h0m3-19h0m0 25h0m6-12h0m6-2h0m4 17h0m1-3h0m0 2h0m1 2h0m0-10h0m5-1h0m1 0h0m9 3h0m1-5h0m28 5h0m-304 37h0m1-17h0m7 11h0m0-14h0m3 3h0m0 8h0m2-15h0m1 0h0m0 18h0m0-10h0m0-12h0m2 6h0m1 11h0m1 11h0m2-2h0m2-10h0m1 11h0m6-25h0m3 25h0m15 1h0m1-8h0m1 5h0m3-23h0m2-2h0m3 22h0m2-7h0m1 1h0m0-1h0m1 9h0m1-23h0m4 11h0m1-6h0m5 3h0m11 9h0m10 3h0m4-9h0m4 12h0m3-16h0m0 6h0m1 2h0m1 8h0m2-17h0m7-7h0m0-1h0m3 22h0m1-12h0m1-7h0m0 9h0m1 9h0m7-9h0m5-6h0m2-5h0m2 11h0m1-3h0m1-4h0m5 0h0m1-1h0m7 6h0m6-1h0m1-3h0m1-4h0m1-2h0m0 16h0m1-2h0m5-6h0m1 6h0m9-6h0m2-5h0m6 5h0m5-7h0m2 24h0m7-10h0m1-5h0m2 13h0m4-8h0m5 3h0m1 0h0m5-16h0m0 12h0m5 13h0m1-21h0m4 13h0m5 10h0m5-15h0m1 1h0m2-2h0m2-10h0m0 5h0m1-2h0m1 12h0m0-11h0m2 9h0m0-10h0m1 17h0m1-7h0m4-14h0m11 9h0m6 13h0m2-7h0m2 12h0m1-12h0m1-13h0m3 7h0m-297 49h0m0-9h0m5-4h0m7-9h0m4 0h0m1 19h0m5-8h0m1-8h0m1 3h0m0 2h0m1-9h0m0 2h0m6 2h0m3-1h0m0 19h0m2-14h0m3 8h0m0-23h0m2 22h0m2-1h0m3 4h0m1-15h0m9 17h0m8-8h0m5-1h0m6-2h0m5-7h0m7 7h0m1 4h0m2 0h0m12-8h0m5 2h0m0 14h0m0-9h0m4-2h0m0-16h0m2 8h0m3-7h0m2 25h0m3-20h0m6-5h0m1 15h0m7-13h0m3 18h0m4-21h0m1 24h0m7-4h0m6 8h0m19-1h0m4-16h0m4-7h0m16 23h0m0-21h0m1 9h0m0 8h0m2-17h0m1 16h0m5-11h0m1-10h0m2 15h0m1-8h0m2 9h0m2-17h0m0 3h0m1 13h0m3 11h0m3-1h0m3-9h0m7-7h0m5-7h0m1-4h0m3 14h0m1 14h0m3 0h0m1-6h0m4-1h0m4-1h0m4-17h0m6 4h0m3 0h0m0 2h0m4 11h0m2 7h0m0-7h0m0-5h0m4-15h0m1 21h0m0-13h0m1-6h0m2 19h0m4 4h0m5-24h0m2 6h0m3 8h0m-296 32h0m3 2h0m4 4h0m0 5h0m0-1h0m4-3h0m3-2h0m2-21h0m1 23h0m1 1h0m0-11h0m1 10h0m1-9h0m0 7h0m2 4h0m1-10h0m1 3h0m1-14h0m0 21h0m0-15h0m3-6h0m0 11h0m0-2h0m0-12h0m3 3h0m0 15h0m1-10h0m3 8h0m4-16h0m5 16h0m6-4h0m4 2h0m2 0h0m2 2h0m2-16h0m1 10h0m2 16h0m1-11h0m1-14h0m0 4h0m1-3h0m2 8h0m2-2h0m0 4h0m7 15h0m3-3h0m1-2h0m3-8h0m1-7h0m4 15h0m1-8h0m1-13h0m0 1h0m8 16h0m3-13h0m1 11h0m8 5h0m6-8h0m1 12h0m4 2h0m5-17h0m6 0h0m8 13h0m1 1h0m0-16h0m1 18h0m1-14h0m0-11h0m1 25h0m0-6h0m0-11h0m1-8h0m3 19h0m0-10h0m0-10h0m1 5h0m1 10h0m5-1h0m1-12h0m1 19h0m1-20h0m2 10h0m16 6h0m2 11h0m3-27h0m1 9h0m3-5h0m0 21h0m3-2h0m1-7h0m0 1h0m5 2h0m2-3h0m1 1h0m0-6h0m4 5h0m0-8h0m4-2h0m0 21h0m2-4h0m2-13h0m7-3h0m2-7h0m6 20h0m7-5h0m0-8h0m1-5h0m1 24h0m2-12h0m1-1h0m0-15h0m0 15h0m2 1h0m1-9h0m1-3h0m9 2h0m1 21h0m3-18h0m1-8h0m0 12h0m4-13h0m1 11h0m4-8h0m1 6h0m5-9h0m15 1h0m-310 54h0m5 4h0m13-16h0m6 7h0m0 0h0m6 5h0m3-9h0m0 4h0m8 6h0m0-7h0m13-17h0m1-1h0m1 17h0m0-12h0m1 14h0m4-20h0m0 10h0m3 17h0m1-2h0m1-12h0m1-3h0m1-10h0m1 12h0m4 14h0m0-7h0m2 8h0m8 1h0m22-12h0m4-9h0m1 8h0m3 1h0m3-14h0m1 20h0m0-5h0m1-10h0m2 3h0m1 15h0m1-10h0m4 0h0m3-1h0m11-9h0m8-2h0m4 23h0m0-23h0m2-2h0m5 16h0m6-10h0m3 8h0m1-13h0m7-2h0m2 13h0m5-1h0m1-8h0m2 20h0m2-12h0m2-3h0m2-6h0m19 1h0m1-4h0m19 5h0m2 2h0m4-2h0m2 8h0m5 11h0m4 0h0m0-3h0m4 5h0m1-10h0m9 7h0m2-3h0m4-11h0m2 10h0m3-5h0m1 5h0m1-7h0m7-10h0m1 24h0m5-3h0m1-9h0m-317 44h0m10-10h0m7-7h0m0-11h0m7 16h0m0-9h0m4-7h0m1 22h0m3-2h0m2 0h0m1 0h0m2-20h0m1 20h0m7-3h0m19-9h0m0 2h0m5 17h0m9-3h0m5-2h0m10-17h0m3 9h0m1-13h0m3 7h0m1 12h0m1-4h0m8-5h0m9 17h0m2-10h0m4 10h0m2-7h0m7 1h0m3-18h0m1 21h0m0-3h0m1-3h0m3-19h0m3 27h0m1-10h0m8-10h0m8 10h0m2 10h0m1-26h0m2 10h0m1 6h0m2-14h0m2 4h0m2-7h0m1 0h0m1 12h0m6 7h0m1-8h0m11 17h0m7-4h0m0-9h0m2 11h0m1-6h0m2 6h0m12-16h0m1 13h0m6-11h0m1 1h0m1-8h0m3 9h0m4 7h0m9 4h0m6-12h0m2 10h0m2-21h0m0 24h0m4-22h0m1 18h0m1-1h0m2-20h0m5 8h0m1 11h0m1-5h0m3 11h0m1-7h0m3 2h0m5-8h0m10-13h0m3 10h0m7-10h0m-300 58h0m3 0h0m2-5h0m1-17h0m1 17h0m0-20h0m1 15h0m1-15h0m10 14h0m6-11h0m1 4h0m1 1h0m0 2h0m1-10h0m1 3h0m3-1h0m14-4h0m1 13h0m6-9h0m2 1h0m4-3h0m4 5h0m1 4h0m2 14h0m13-1h0m4-19h0m4 21h0m7-11h0m4 6h0m0-2h0m2-6h0m2-11h0m5 3h0m1 9h0m3 3h0m2 4h0m4-4h0m10 5h0m2-22h0m4 14h0m1-7h0m6 16h0m0-2h0m0-1h0m3 3h0m3-4h0m2-20h0m1 3h0m3 23h0m1-6h0m3-18h0m3 17h0m1-18h0m5 12h0m3 8h0m2-11h0m3-4h0m1-3h0m5-1h0m13 9h0m1-7h0m1 12h0m2-11h0m2-6h0m5 5h0m6-3h0m3 28h0m5-20h0m0-7h0m4 25h0m8-6h0m1 6h0m3-21h0m6 12h0m2 1h0m2-12h0m1 16h0m0-21h0m1 9h0m4 6h0m3 1h0m6 11h0m1-26h0m4 20h0m1-17h0m1 21h0m1-26h0m0 19h0m0-3h0m1-16h0m3 0h0m4 13h0m5-11h0m-278 31h0m2-2h0m3 17h0m0 2h0m9 0h0m4-17h0m1 8h0m2 8h0m5-12h0m3 20h0m1-20h0m0-8h0m2 19h0m1-18h0m1 19h0m8 1h0m4-7h0m2 9h0m14 5h0m9-18h0m1 13h0m6-23h0m1 16h0m2-1h0m1-6h0m1 12h0m8-5h0m2 1h0m1-10h0m1-1h0m1 20h0m1-2h0m3-15h0m5 16h0m0-14h0m0 6h0m2-7h0m4-4h0m11 13h0m0-2h0m4-12h0m1 1h0m2-2h0m0 8h0m1 0h0m16-10h0m2 12h0m2 1h0m1 4h0m0-16h0m2-1h0m1 2h0m1 4h0m6 0h0m2 12h0m12-20h0m2 3h0m2-3h0m3-1h0m1 19h0m1 6h0m7 1h0m21-16h0m4 4h0m1 7h0m2-16h0m2 15h0m2 2h0m1 5h0m4 0h0m4-19h0m5 4h0m0 0h0m2-12h0m5 27h0m2-10h0m3 10h0m3-27h0m19 25h0m11-3h0m2-15h0m4 10h0m-259 15h0m3 1h0m15 1h0m15 12h0m1-14h0m4 19h0m3-6h0m10-1h0m6-13h0m0 9h0m4 0h0m0 11h0m5-13h0m2 7h0m1-14h0m1 12h0m6 15h0m4-12h0m1-6h0m10 12h0m1-2h0m22-15h0m6 12h0m0-10h0m4 1h0m1-3h0m6 19h0m0-1h0m1-13h0m1 15h0m4-19h0m4 6h0m5 7h0m1-15h0m4-1h0m1 18h0m2-16h0m0-1h0m4 5h0m2 21h0m3-29h0m0 2h0m10 18h0m25-17h0m5 1h0m1 9h0m7-8h0m2 3h0m0 19h0m3-24h0m3 19h0m2-21h0m1 2h0m2-2h0m2 23h0m1-19h0m2 3h0m-142 22h0m17 2h0m6-2h0m19 15h0m4 7h0m21-7h0m14-1h0m0 14h0m1-18h0m1 17h0m4-8h0m3 7h0m1-8h0m5 3h0m3 3h0m1-5h0m0-9h0m0 8h0m4-11h0m1 21h0m0-1h0m5-16h0m7 17h0m1-14h0m4 8h0m1 2h0m2 1h0m1 2h0m23-10h0m0-17h0m3 7h0m2 18h0m2-9h0m6 5h0m7-12h0m6 8h0m3-7h0m-87 22h0m6 3h0m1 12h0m4-2h0m3-9h0m4 2h0m2 11h0m1-12h0m0-1h0m5 18h0m0 4h0m0-7h0m1-1h0m1-12h0m1-1h0m1 12h0m3 6h0m0-9h0m5 1h0m1 7h0m6-6h0m1-5h0m2-4h0m0-5h0m0-1h0m1-1h0m1 13h0m0-14h0m1 8h0m1 2h0m5-6h0m0 21h0m1-27h0m1 26h0m1-20h0m4-3h0m4-3h0m2 19h0m2-9h0m7 8h0m7-13h0m-39 28h0m4 2h0m1-2h0"/>
<path id="c9" d="M2193 1121h0m5 0h0m25-3h0m3 5h0m2-4h0m0-10h0m8 6h0m5 3h0m2 2h0m2-4h0m21 5h0m-130 20h0m9-2h0m0 8h0m6-16h0m2 8h0m1-4h0m3 6h0m8 10h0m0 0h0m1-8h0m3-7h0m4-8h0m1 2h0m2 1h0m4-6h0m3 11h0m2 10h0m0-4h0m2 7h0m3 5h0m4-28h0m5 28h0m0-5h0m7 3h0m10-14h0m6 3h0m5-5h0m1 1h0m4 14h0m4-15h0m3-11h0m2 9h0m1 6h0m0 0h0m2 4h0m1 0h0m1 3h0m1 0h0m0-19h0m6 4h0m1 9h0m3-16h0m1 6h0m0 8h0m8-1h0m1-2h0m2 2h0m2 9h0m2-16h0m3-4h0m20 15h0m-156 18h0m3-3h0m1 12h0m14-7h0m1-1h0m0 2h0m1 2h0m1 5h0m1 8h0m0 0h0m8-6h0m1-7h0m0 8h0m6 5h0m0 3h0m1-13h0m4 14h0m0-18h0m1 13h0m2 2h0m5 0h0m4-4h0m3-4h0m2 3h0m0 2h0m2 6h0m3 2h0m1-11h0m1 4h0m1-5h0m4-8h0m1 11h0m1-2h0m4-4h0m10 8h0m4 1h0m1-1h0m3-8h0m0-3h0m2-8h0m5 26h0m1-22h0m1 2h0m3-3h0m1 0h0m1-3h0m4 14h0m7-16h0m8 4h0m2 8h0m4-8h0m-101 27h0m6 20h0m2-3h0m0 5h0m3-11h0m0-7h0m1 13h0m5 0h0m8-6h0m1-8h0m6 1h0m12-2h0m1-4h0m12 3h0"/>
<path id="c10" d="M969 1151h0m-139 31h0m12-11h0m2 6h0m5 2h0m22 2h0m9-1h0m5 2h0m5 2h0m39-6h0m2 4h0m1 2h0m2-1h0m6 0h0m13-22h0m22 1h0m1-1h0m3 21h0m3-9h0m1-5h0m4-6h0m3 4h0m1 7h0m2 8h0m0 2h0m7-12h0m3 10h0m1 1h0m1 2h0m3-7h0m9-1h0m3 5h0m3-1h0m1-6h0m36 6h0m9-13h0m9-8h0m6 23h0m0-2h0m2 0h0m2 3h0m2-19h0m1 17h0m1-14h0m0 14h0m3-5h0m9-3h0m8 7h0m3-1h0m20-3h0m6 4h0m0-2h0m1-4h0m15 8h0m1 0h0m2-11h0m3-2h0m0 11h0m8-2h0m0 2h0m8 1h0m-403 31h0m4 0h0m3 0h0m6-3h0m0 0h0m4-1h0m0 4h0m0-13h0m5-1h0m3 6h0m4 6h0m4 1h0m4-16h0m2 9h0m10 0h0m3 4h0m0-16h0m2 22h0m1-2h0m0-22h0m1-1h0m1 10h0m1 12h0m5-4h0m17 8h0m5-19h0m2-8h0m1 26h0m1-28h0m5 18h0m2-7h0m0-3h0m3 1h0m9 13h0m5-18h0m8 20h0m7 2h0m6-6h0m1 6h0m4-2h0m9-4h0m4 0h0m8-16h0m0-3h0m1 2h0m4 6h0m5 0h0m6-3h0m8 15h0m2-19h0m3 9h0m4-12h0m1 17h0m2-5h0m4-2h0m1 13h0m0-18h0m7-2h0m1 13h0m3-9h0m1-4h0m0 2h0m2 3h0m0 2h0m5-8h0m0 16h0m2-11h0m9 6h0m3 8h0m22-8h0m1 16h0m0-1h0m5-12h0m3 5h0m2 8h0m5-27h0m3 3h0m2 5h0m7 8h0m7 9h0m1-2h0m5-24h0m8 18h0m7-7h0m2 7h0m3-13h0m12 13h0m0-13h0m2 7h0m1 12h0m7-24h0m1 14h0m2 11h0m1-7h0m1-6h0m2 5h0m0 9h0m0-8h0m1-7h0m2-1h0m1 18h0m4-25h0m2 21h0m3-8h0m6-4h0m4 13h0m0-22h0m0 19h0m4 0h0m2 7h0m3-10h0m2 10h0m2-18h0m2 0h0m2 9h0m0-3h0m2-11h0m2 1h0m1-1h0m0 6h0m2 17h0m1-29h0m6 20h0m1 5h0m0 2h0m2-11h0m1 6h0m0 6h0m12-18h0m3 7h0m6-5h0m-482 44h0m37 0h0m2-12h0m8 0h0m0-1h0m1 5h0m10-17h0m2 9h0m1 2h0m3-2h0m1-5h0m0-1h0m1 11h0m3-2h0m1-1h0m2-8h0m6 9h0m2-12h0m0 1h0m1-2h0m2 2h0m10 5h0m1 2h0m5 18h0m4-10h0m1-1h0m2 7h0m1 4h0m2-19h0m3 1h0m14 9h0m5 10h0m1-10h0m6-2h0m1 6h0m3-8h0m1-14h0m6 27h0m1-11h0m3 2h0m7 7h0m3-11h0m2 7h0m1-15h0m8 16h0m2-22h0m2 15h0m10-12h0m10 0h0m6 5h0m1-6h0m3 10h0m0 12h0m2-16h0m2 21h0m9-3h0m0-2h0m3 0h0m1-17h0m2 15h0m1 0h0m0 1h0m2-4h0m15-2h0m1 9h0m2 0h0m4-10h0m4 4h0m1-9h0m0-7h0m1-2h0m1 15h0m10-15h0m0 14h0m7 5h0m6-19h0m1-2h0m5 3h0m2 26h0m9-29h0m3 11h0m3 0h0m0-2h0m1 19h0m1-11h0m2-10h0m1 20h0m3-19h0m1 10h0m3 6h0m3-22h0m2 1h0m0-4h0m2 11h0m3 7h0m0-1h0m4-13h0m2 6h0m3 15h0m2 2h0m0-4h0m12-1h0m6 5h0m0 0h0m7-5h0m1-20h0m4 15h0m19-2h0m11 2h0m5 7h0m5-21h0m10 7h0m4-2h0m11 3h0m2 15h0m3-17h0m3 6h0m1-7h0m5-5h0m2 20h0m4-21h0m0 3h0m2 11h0m-441 26h0m1-7h0m2 8h0m0-12h0m1 3h0m1 15h0m2-2h0m7-8h0m1 5h0m4 11h0m2-8h0m0-12h0m3 13h0m5 3h0m2-20h0m1 15h0m2 3h0m1 7h0m12-8h0m5-18h0m17 5h0m6 13h0m0 2h0m4-12h0m3 13h0m7 1h0m1 1h0m1 6h0m1 1h0m1-16h0m1-2h0m1-2h0m1 0h0m2-5h0m3 17h0m1 5h0m2-3h0m4-15h0m1 16h0m1 5h0m3-23h0m1 4h0m0 16h0m1-22h0m0 7h0m0 4h0m5-13h0m2 11h0m1 1h0m2 13h0m3-6h0m2 4h0m3-24h0m6 10h0m0 11h0m1-5h0m0-16h0m1 22h0m4-12h0m2 4h0m1 9h0m4-21h0m0 9h0m1-4h0m51 9h0m1-13h0m1 20h0m7-9h0m0-11h0m6 6h0m1 16h0m2-17h0m4 19h0m3-23h0m11-5h0m1 7h0m1-5h0m14 4h0m1 21h0m2-21h0m0 14h0m1 3h0m1 0h0m5-8h0m1 8h0m0 2h0m2-9h0m28-1h0m7 2h0m0-7h0m2 6h0m0-2h0m1 2h0m1-3h0m3-14h0m3 12h0m1 13h0m5 0h0m2-23h0m2 9h0m1 18h0m0-22h0m16-5h0m1-1h0m6 19h0m6-8h0m2-9h0m3 1h0m8 0h0m3 8h0m1 10h0m2-6h0m2-9h0m3 20h0m9-2h0m0-17h0m5-1h0m5-6h0m3 9h0m2-3h0m1 1h0m1 4h0m3 16h0m3-2h0m3-25h0m0 20h0m2-12h0m3 21h0m4-4h0m1-9h0m1 1h0m1-10h0m1 2h0m6 1h0m5-9h0m1 3h0m2 0h0m7 1h0m-411 42h0m3-3h0m0-12h0m7 0h0m3 25h0m1-25h0m1 21h0m4-22h0m0 22h0m4-12h0m0-1h0m1 18h0m0-10h0m4-11h0m4 19h0m5 2h0m3-18h0m3 5h0m1-7h0m2 8h0m6 2h0m1-3h0m2 4h0m7-12h0m0 6h0m5 5h0m0-17h0m8 21h0m4-6h0m2-7h0m3 8h0m1-18h0m1 16h0m1-9h0m8 12h0m6-16h0m2 7h0m6 10h0m4-5h0m2 5h0m1-9h0m3 13h0m1-18h0m1 9h0m1-2h0m1 11h0m1-8h0m5-14h0m3 1h0m29 16h0m1-7h0m4-3h0m0 1h0m13 15h0m7-13h0m7-11h0m21 3h0m2 1h0m1 20h0m1-6h0m8-1h0m7 11h0m0-1h0m8-5h0m4-23h0m1 18h0m2 12h0m2-1h0m8-8h0m7-20h0m0 13h0m4 9h0m5-18h0m0-3h0m17 12h0m2-14h0m4 10h0m24 13h0m0-5h0m3-6h0m1 0h0m1-5h0m0-5h0m2 17h0m2-16h0m3 0h0m3 6h0m10 1h0m1 4h0m24-5h0m1 17h0m2-1h0m1 3h0m2-21h0m4 2h0m4 0h0m7 2h0m1-7h0m0 13h0m1-10h0m19-7h0m4 1h0m5 14h0m1 14h0m0-7h0m1-10h0m15 18h0m-432 4h0m8 1h0m12 6h0m2-7h0m5 10h0m10-3h0m5 6h0m21-2h0m4-1h0m8 5h0m9-18h0m8 15h0m3-6h0m3 6h0m0-3h0m6-7h0m20 23h0m3-8h0m3 3h0m3 4h0m1-21h0m1 18h0m0-18h0m5-7h0m5 1h0m4 28h0m4-22h0m1 21h0m8 0h0m2-9h0m4-4h0m1 8h0m1-11h0m7 9h0m6-18h0m2 20h0m4 7h0m6-18h0m8-4h0m2 0h0m1-1h0m1-4h0m0 1h0m3 21h0m1-15h0m0 1h0m5-2h0m1 0h0m3-7h0m13 4h0m1 4h0m11 14h0m1-21h0m7 19h0m13 3h0m8-9h0m1 4h0m1-14h0m2 1h0m3 0h0m0 21h0m8-7h0m2 9h0m5-9h0m2-16h0m2 20h0m3-7h0m1-6h0m2-1h0m6 5h0m1 12h0m17-10h0m19 9h0m19-2h0m16-11h0m4 5h0m2 8h0m1 1h0m16-21h0m3 6h0m0-5h0m7 20h0m5 0h0m2-7h0m10 8h0m-406 17h0m27-13h0m9 11h0m0 5h0m3-2h0m1-5h0m2 3h0m7-12h0m10 12h0m2-3h0m7 0h0m11 17h0m1-12h0m2 2h0m1 5h0m8-16h0m2-4h0m6 12h0m0-2h0m3 6h0m3-18h0m1-1h0m0 8h0m2-9h0m4 15h0m5-11h0m1 11h0m3 12h0m4-20h0m2 14h0m1-18h0m15 25h0m0-28h0m0 4h0m1-3h0m11 8h0m4 12h0m0 2h0m2-18h0m7 6h0m7 7h0m11-12h0m4 1h0m7-2h0m3 7h0m1 11h0m5-18h0m1 15h0m1-12h0m5 21h0m0-1h0m0-28h0m3 9h0m3-3h0m1 3h0m2 10h0m3-9h0m3 5h0m1-8h0m5 16h0m1-11h0m0 10h0m28 0h0m1-11h0m3 13h0m1 6h0m4-29h0m1 27h0m3-20h0m2 12h0m3 7h0m2-3h0m4-13h0m0 0h0m9 18h0m3-3h0m0-10h0m1-1h0m10 0h0m2-11h0m3 6h0m1 2h0m1 7h0m5 3h0m1-3h0m0-8h0m3-11h0m4 6h0m5-3h0m2 22h0m1-6h0m3-14h0m2 20h0m1-4h0m0-17h0m5 0h0m7 16h0m0 4h0m3-22h0m0 15h0m1 9h0m1-15h0m7 14h0m0-25h0m5 3h0m1 26h0m3-24h0m1 6h0m3 3h0m1-8h0m1 21h0m4-14h0m4-7h0m13 9h0m3 5h0m2-13h0m1 18h0m1-5h0m0-4h0m2-6h0m4 2h0m1 2h0m13 14h0m5 2h0m2-1h0m-406 29h0m4-8h0m1-9h0m7-6h0m1-3h0m3 26h0m2-27h0m2 23h0m5 2h0m2-19h0m3-6h0m0 12h0m1-5h0m0 8h0m3-1h0m6-12h0m5 23h0m4 4h0m4-14h0m1-3h0m2 11h0m6-19h0m0 10h0m3-7h0m0 5h0m3-11h0m3 26h0m2-3h0m1 0h0m2-6h0m6-1h0m4-12h0m4 9h0m2 10h0m3-10h0m4 9h0m1-8h0m8-6h0m6-3h0m20 1h0m1 10h0m8-17h0m20 26h0m9-8h0m5-18h0m7 15h0m2-16h0m4 28h0m0-25h0m17 13h0m8-12h0m0 21h0m7-21h0m4-1h0m0 16h0m1-10h0m11-1h0m7 11h0m4 9h0m3-21h0m1 17h0m0-9h0m1-5h0m1 10h0m1-13h0m2 21h0m2-25h0m2 1h0m1 16h0m2-18h0m1 25h0m2-13h0m12-11h0m10 15h0m13 8h0m10-23h0m4 7h0m18 4h0m2-8h0m0 1h0m18 2h0m2 7h0m3 7h0m3 6h0m3-12h0m2 11h0m5-12h0m0 8h0m3-15h0m1 13h0m0-5h0m7-16h0m1 28h0m7-5h0m12 3h0m2-10h0m4 10h0m4-9h0m1-5h0m4 8h0m2-8h0m5 7h0m1-12h0m14 0h0m-459 27h0m12 14h0m1-6h0m3 14h0m0 3h0m1-25h0m0 4h0m1 2h0m2-7h0m3 14h0m1 1h0m1 3h0m1-20h0m1 4h0m2 4h0m0 10h0m1-11h0m2-4h0m0 15h0m1 9h0m2-22h0m1 8h0m2 11h0m1-14h0m1 3h0m0 14h0m0-28h0m2 20h0m3-1h0m0 1h0m1-19h0m12 27h0m4-13h0m2 11h0m9-27h0m2 10h0m1 3h0m7-11h0m2 10h0m1-8h0m2 3h0m15 1h0m5 21h0m2-26h0m11 24h0m2-26h0m1 0h0m18 27h0m1-10h0m0-11h0m0 6h0m1 0h0m1 11h0m1-22h0m2 20h0m9-1h0m3-1h0m7 3h0m3-22h0m4 20h0m1-8h0m2 3h0m10 0h0m3-13h0m0 27h0m4-4h0m16-24h0m2 18h0m2-2h0m4-2h0m6 0h0m2 10h0m21-11h0m2 12h0m3-10h0m1 8h0m5-9h0m1 5h0m4-20h0m1 12h0m4 5h0m1-7h0m1 2h0m3 0h0m0-10h0m2 26h0m5-4h0m1-12h0m3 5h0m0-10h0m9 15h0m15-18h0m1 6h0m0-7h0m4 4h0m2 8h0m1 2h0m3 7h0m1-24h0m7 24h0m2 3h0m7-19h0m1 4h0m2-12h0m1 5h0m0 18h0m1-2h0m3-10h0m2 4h0m3-3h0m3 8h0m2 3h0m11-17h0m1 11h0m4 12h0m7-5h0m3-21h0m5 18h0m1-4h0m5-14h0m13-3h0m2 19h0m0-8h0m1 3h0m10-8h0m0 16h0m10-18h0m15 22h0m0-13h0m-435 23h0m0 4h0m1-9h0m0 14h0m1 8h0m13 1h0m1-22h0m5 11h0m5 10h0m1-2h0m2 7h0m3-2h0m12-25h0m5 12h0m4-12h0m1 27h0m4-22h0m6 20h0m4 1h0m5-4h0m4-3h0m5-5h0m2 0h0m2-13h0m1 19h0m1-5h0m0 10h0m2 3h0m1-21h0m1 6h0m3 14h0m1-19h0m2 14h0m0-3h0m4-10h0m1-5h0m0-2h0m6-1h0m0 9h0m2 1h0m1 6h0m2 10h0m1-6h0m4-9h0m1 11h0m2-8h0m1-7h0m8-2h0m2 0h0m2 6h0m9-3h0m5 5h0m2-10h0m6-1h0m5-4h0m13 6h0m7-6h0m2 3h0m12 6h0m4-4h0m8 13h0m5-17h0m14 15h0m1-10h0m3 3h0m2 15h0m7 0h0m3-1h0m2 5h0m0-17h0m1 0h0m1-2h0m0 16h0m3 1h0m0-13h0m1-1h0m5 10h0m3-8h0m3 4h0m1-1h0m3-1h0m1 0h0m15 8h0m8 0h0m6-9h0m2 3h0m0-17h0m1 7h0m2 1h0m2-7h0m1 16h0m3-13h0m5 22h0m6-1h0m1-7h0m6-13h0m10 1h0m1 9h0m3-3h0m1 13h0m0-18h0m4 8h0m4-8h0m2 12h0m0-7h0m1-6h0m1-6h0m2 3h0m3 15h0m5-5h0m5 1h0m13 3h0m6 2h0m2-8h0m1-11h0m2 3h0m3 7h0m6-9h0m1 5h0m0 3h0m6-1h0m0-6h0m-381 28h0m32-2h0m2 19h0m8-1h0m1-12h0m2 0h0m1 11h0m0-15h0m4 4h0m5 19h0m3 2h0m1-12h0m16 4h0m3 11h0m22-14h0m5 13h0m2-11h0m9-8h0m6-8h0m2 19h0m0-1h0m1-12h0m5 7h0m3 15h0m5-4h0m9-12h0m5 7h0m2-7h0m10 11h0m6-1h0m4-5h0m4-4h0m2-5h0m0-9h0m2 3h0m9 13h0m0-13h0m5 17h0m8-8h0m1-3h0m1 0h0m7 5h0m0 9h0m3-6h0m3-7h0m2 13h0m2 5h0m1-18h0m5 9h0m0 6h0m2-11h0m0 6h0m4-11h0m1 9h0m3-10h0m10 4h0m2 6h0m1-6h0m1-10h0m0 25h0m6-1h0m0-24h0m0 2h0m1 2h0m0 19h0m2-14h0m6 15h0m12-1h0m11-18h0m1-5h0m1 24h0m0-3h0m0-1h0m4-11h0m2-6h0m1 6h0m1 2h0m0-13h0m7 10h0m5 17h0m2-9h0m1-14h0m8 14h0m14-3h0m9 2h0m-325 31h0m7 6h0m3-5h0m2-14h0m2 11h0m0-15h0m1 9h0m1 17h0m0-23h0m5 19h0m5-10h0m4 13h0m2-12h0m2 11h0m0-1h0m9-6h0m2-3h0m1 13h0m1-5h0m21-17h0m1 17h0m6-12h0m0 3h0m3 1h0m2 1h0m1-11h0m0 10h0m1-8h0m2-4h0m1 5h0m7 12h0m0-7h0m1-12h0m2 6h0m1 14h0m7-11h0m1 12h0m2-20h0m0 23h0m4-22h0m6 0h0m1 25h0m1-21h0m6-5h0m0 19h0m1-5h0m3-14h0m14 0h0m4 1h0m7 1h0m18 13h0m17 6h0m0-1h0m5-17h0m2 20h0m4-12h0m1-8h0m4 8h0m2-3h0m3 9h0m3 4h0m1-16h0m14-2h0m0 10h0m3 2h0m0-18h0m10 20h0m0-10h0m4 16h0m0-1h0m3-11h0m5-2h0m0 7h0m2 0h0m1-18h0m1 11h0m2 12h0m7-17h0m11 12h0m2 2h0m3-3h0m2-8h0m1-4h0m2-1h0m6 24h0m1-11h0m3 4h0m0-16h0m11 13h0m1 4h0m6 0h0m-316 14h0m0-2h0m2 11h0m4 10h0m1-18h0m4-4h0m0 4h0m4 6h0m1-6h0m2 1h0m5-1h0m3 4h0m6 3h0m0 0h0m2-3h0m20-9h0m2 0h0m36-2h0m6 2h0m14 5h0m4-4h0m13 4h0m2 4h0m8 12h0m1-2h0m2 1h0m0 0h0m1-15h0m4-3h0m18 13h0m3-12h0m4-5h0m2 5h0m15 1h0m34 1h0m-238 27h0m4 0h0m0-3h0m18-1h0"/>
<path id="c11" d="M1749 581h0m10-1h0m4 5h0m10 0h0m4-1h0m6-6h0m10 3h0m99 2h0m4-5h0m3 1h0m0-1h0m0 2h0m7-9h0m5 3h0m4-1h0m2-6h0m1 8h0m4-5h0m1-9h0m4 12h0m4-5h0m1 6h0m3-2h0m8 12h0m-296 24h0m1-4h0m25-16h0m4-2h0m6 11h0m3 16h0m14-16h0m2-10h0m6-1h0m5 4h0m5 7h0m2 7h0m5 4h0m0-14h0m1-1h0m4 5h0m2 17h0m5-28h0m0 16h0m2 2h0m0-16h0m6 20h0m2 2h0m10-6h0m1-4h0m1-10h0m2 2h0m1 21h0m6-26h0m5 5h0m2 18h0m11-19h0m86 15h0m2 2h0m3-4h0m2-1h0m5 11h0m3-10h0m4-3h0m1 0h0m1 6h0m2 3h0m5 4h0m1-6h0m2 5h0m6-16h0m9 9h0m4-3h0m2-6h0m5 13h0m3 0h0m5-21h0m1 1h0m5-6h0m-252 53h0m2-23h0m2 8h0m6-7h0m1 23h0m1-17h0m4 23h0m9-25h0m1 1h0m14 2h0m0 2h0m3-7h0m2 10h0m3-5h0m1 7h0m7 8h0m2-5h0m0 8h0m1-16h0m2 13h0m3-22h0m4 17h0m4-8h0m8 11h0m63 5h0m4 2h0m9-14h0m1 10h0m2-13h0m0 16h0m8-16h0m3 12h0m2-19h0m1 6h0m1 7h0m1 6h0m4-5h0m3-17h0m11 11h0m4 11h0m6-16h0m0-3h0m3 24h0m2-21h0m2-3h0m2 9h0m0 3h0m0-15h0m1 11h0m0-7h0m3 23h0m0-5h0m3-7h0m4-10h0m0-2h0m1 8h0m2 11h0m11-10h0m1 0h0m7 1h0m1 3h0m-259 27h0m20-13h0m5 3h0m4 11h0m1-12h0m1 12h0m0-11h0m4 0h0m1 6h0m1 9h0m16-2h0m0-4h0m1-11h0m6 23h0m13-14h0m7 8h0m1 6h0m0-23h0m3 0h0m82 6h0m0-3h0m12-1h0m2 2h0m0 1h0m1 13h0m0-10h0m4 5h0m3-4h0m1 0h0m2-4h0m0-1h0m2 12h0m1 4h0m1-1h0m3-8h0m1 4h0m0-10h0m1 16h0m16-14h0m1 11h0m1 8h0m1-20h0m2 6h0m1-5h0m1 1h0m0-2h0m6-7h0m3 9h0m0-9h0m2 10h0m0-7h0m6-3h0m1 0h0m9 13h0m3-2h0m1-11h0m-216 32h0m13 6h0m2 1h0m8 20h0m2 0h0m2-20h0m7 11h0m2-5h0m2 2h0m8-17h0m1 20h0m8-5h0m0-11h0m1-5h0m3 6h0m3 7h0m5-11h0m3 11h0m100 8h0m4-12h0m2-8h0"/>
<path id="c12" d="M1242 1153h0m14-5h0m2 6h0m2-16h0m54 14h0m79-6h0m10 7h0m7-14h0m7 14h0m-219 11h0m5 20h0m3-5h0m5-8h0m0 4h0m0-11h0m5 7h0m8-10h0m2 23h0m0-17h0m4 10h0m3 5h0m2-4h0m2-3h0m8-13h0m2 16h0m7-2h0m3-3h0m0-9h0m2-3h0m4-1h0m4 16h0m2-19h0m1 3h0m8 9h0m15-4h0m2 5h0m3-14h0m4 1h0m2 4h0m6 6h0m4 1h0m1 16h0m1-21h0m2-7h0m10 11h0m1-8h0m2 17h0m6 6h0m5-20h0m0 19h0m7-10h0m8 4h0m3-8h0m2 14h0m26 0h0m11-12h0m25-5h0m7 21h0m1 0h0m1-28h0m13 12h0m9 9h0m2-4h0m4-3h0m13 5h0m0 4h0m3-5h0m1 7h0m0-21h0m6 19h0m15 3h0m-289 26h0m1 6h0m1-1h0m11-14h0m0 10h0m8-19h0m3-3h0m16 9h0m5 3h0m5-4h0m1 2h0m3 7h0m2 1h0m1 3h0m2-23h0m22 16h0m7-5h0m26-5h0m2 18h0m0-15h0m6-4h0m7 0h0m5 18h0m7-14h0m4-9h0m5 15h0m15-10h0m4 2h0m2 19h0m34-27h0m0 2h0m2 6h0m11 12h0m1-7h0m6-1h0m3-6h0m1 19h0m6-9h0m0-15h0m1 8h0m10 13h0m6-18h0m0 7h0m5 11h0m8-11h0m15 13h0m1-1h0m3-10h0m5 7h0m9-4h0m-317 44h0m6-6h0m3-1h0m11-21h0m11 4h0m1 21h0m2-8h0m14-16h0m7 1h0m0 24h0m8-10h0m4-10h0m1 7h0m23 0h0m4 4h0m2-18h0m1 20h0m4 1h0m1-3h0m15 9h0m14-8h0m4-2h0m8 8h0m5-13h0m4 12h0m3 1h0m14-10h0m0 11h0m1-8h0m1 9h0m3-5h0m47-14h0m5 17h0m9-23h0m22 1h0m0 11h0m11 1h0m0-11h0m2-3h0m16 13h0m1-10h0m1 1h0m8 20h0m6-25h0m-294 41h0m7 18h0m18-17h0m5 1h0m1 16h0m2-27h0m3 24h0m3-10h0m5 10h0m2-8h0m2-19h0m4 9h0m14-5h0m26 10h0m3 0h0m3-14h0m2 16h0m8 3h0m4-16h0m4 0h0m5-1h0m2 27h0m8-3h0m3-12h0m1-5h0m6 1h0m8 5h0m14 3h0m3-3h0m32 2h0m1 0h0m4 9h0m6-5h0m6-10h0m13 14h0m2-13h0m2-11h0m2 2h0m2 26h0m6-2h0m7-24h0m3 13h0m15 10h0m5-15h0m17 0h0m0-8h0m0 20h0m1-16h0m0 20h0m2-25h0m-283 50h0m4-16h0m0 3h0m5-7h0m10 16h0m0-7h0m0 8h0m4 2h0m0-19h0m0 25h0m2-22h0m3 17h0m0-6h0m2 10h0m6-25h0m18 5h0m1 15h0m3 3h0m5-14h0m3-2h0m6 14h0m1-5h0m3-8h0m13-6h0m3-1h0m2 8h0m10-1h0m3-1h0m7-5h0m1 24h0m19-15h0m2 10h0m4-15h0m5 2h0m3 16h0m9-19h0m2 7h0m0-5h0m1-2h0m5 2h0m1 19h0m3-22h0m2 20h0m1-10h0m1 14h0m10-27h0m13 14h0m1-3h0m0-9h0m4 17h0m0-19h0m4 25h0m1-9h0m7 1h0m2-6h0m4 9h0m1-8h0m1 3h0m6-4h0m9-3h0m24 16h0m9-4h0m6-18h0m-257 53h0m0-11h0m5 6h0m1-11h0m0 14h0m3 3h0m1-6h0m5 0h0m1-7h0m0-1h0m5 8h0m4-5h0m1 6h0m2-16h0m0-4h0m2 17h0m2 2h0m0 2h0m8-4h0m22 3h0m2 1h0m2-3h0m13 0h0m0-6h0m2 2h0m4 4h0m9-16h0m0 25h0m18-12h0m0 7h0m2-10h0m16-10h0m10 8h0m6-7h0m1-5h0m4 9h0m9 11h0m4 1h0m3-4h0m3-5h0m0-8h0m0 10h0m9 3h0m1 7h0m0-18h0m15 3h0m2-3h0m4 9h0m2 9h0m3-8h0m2-10h0m4 1h0m20 8h0m7-6h0m-216 38h0m8 0h0m6-6h0m14 8h0m2 3h0m3-1h0m3-1h0m17-21h0m6 29h0m2-16h0m5-3h0m2 5h0m1 10h0m12-24h0m39 28h0m9-19h0m10-9h0m1 9h0m3-10h0m0 3h0m11 0h0m3 2h0m10 20h0m1 4h0m5-27h0m4 8h0m7-6h0m1 13h0m1 7h0m6-22h0m-139 46h0m3-15h0m2-1h0m2 10h0m1-11h0m3 9h0m2-1h0m10 1h0m3-2h0m3 12h0m3 10h0m0-1h0m5-4h0m1-8h0m15-3h0m12 10h0m0-21h0m5 26h0m5-2h0m3-19h0m1 19h0m13-3h0m6-9h0m1-5h0m1-8h0m1 6h0m1-2h0m16 5h0m8-6h0m-86 27h0m26-2h0m6 9h0m8 8h0m10 4h0m4-9h0m8 16h0m1-9h0m1 3h0m4-13h0m4 14h0m1-6h0m3 11h0m-8 15h0m9-10h0"/>
<path id="c13" d="M1904 1603h0m160-1h0m27-2h0m0-2h0m2 1h0m5-1h0m3 2h0m1 0h0m8 0h0m2-3h0m3 3h0m1-2h0m-183 29h0m4 3h0m79-23h0m7 26h0m14 0h0m7-4h0m1 5h0m3-12h0m4-2h0m4 13h0m2-15h0m0 5h0m1 3h0m2-4h0m3 4h0m1-5h0m1-14h0m0 9h0m0-6h0m2-2h0m2 3h0m7 6h0m1-10h0m2 2h0m3 20h0m2-13h0m0 0h0m0-7h0m1 6h0m1 10h0m3-2h0m2-8h0m3 11h0m8-1h0m1-3h0m0-11h0m3 20h0m2-16h0m1 3h0m7 2h0m1 10h0m0-18h0m-206 33h0m0 17h0m0-13h0m8 9h0m7-5h0m0-12h0m1 13h0m1 9h0m7-2h0m1-23h0m5 19h0m1-12h0m2 13h0m0 6h0m1-11h0m12 8h0m3-5h0m19-6h0m11 2h0m0-6h0m1 18h0m1-7h0m5-5h0m4-12h0m3 9h0m0 13h0m1-16h0m8-8h0m0 11h0m0-2h0m4 4h0m1 0h0m3-1h0m0 0h0m1 5h0m2 9h0m4-16h0m0-2h0m0-11h0m4 23h0m3 0h0m1-11h0m0 11h0m0-6h0m4 7h0m3 3h0m0-8h0m1-8h0m1 18h0m0-3h0m1-19h0m2 6h0m2 15h0m1-21h0m2 14h0m1-16h0m1 6h0m4 0h0m4 2h0m1 14h0m2-13h0m2 11h0m1-8h0m2-4h0m4-7h0m0 22h0m1-9h0m7 1h0m0 5h0m5-6h0m1-14h0m2 6h0m1 13h0m0-22h0m1 5h0m0 6h0m4 5h0m0-7h0m11-3h0m2 5h0m0-6h0m1 13h0m0-3h0m1 0h0m0 2h0m1 4h0m4-1h0m2-3h0m2-2h0m-224 38h0m5-13h0m9-11h0m1 26h0m1-5h0m1-7h0m0 10h0m0-10h0m2-9h0m0 22h0m1-26h0m1 13h0m0 4h0m3 5h0m7-13h0m1 12h0m0-12h0m2-6h0m3 1h0m1 11h0m6-14h0m1 23h0m1 0h0m4-7h0m0 2h0m5-9h0m1 8h0m1-13h0m2 12h0m2 6h0m0 0h0m2 3h0m5-5h0m2 7h0m0-12h0m0-2h0m3-13h0m1 16h0m1-9h0m3-4h0m0 23h0m1-12h0m15 13h0m5-6h0m2-9h0m3 9h0m2 1h0m2-5h0m6 2h0m0-10h0m4-6h0m0 16h0m0-21h0m0 7h0m5-8h0m4 15h0m1 9h0m2-14h0m2 9h0m1-17h0m1 7h0m4 17h0m0-21h0m0 15h0m5-1h0m3-13h0m9 24h0m3-30h0m1 2h0m2 13h0m1 8h0m1-4h0m2-12h0m3 16h0m0-3h0m0-3h0m1-8h0m0 5h0m0 9h0m0-8h0m1 13h0m5-8h0m4 0h0m0-1h0m1-4h0m4 14h0m2-28h0m3 6h0m2 19h0m4-16h0m0-7h0m1 19h0m1-20h0m1 11h0m2 11h0m2-4h0m0 7h0m1-10h0m1 2h0m1 8h0m2-3h0m1 0h0m0-14h0m4 4h0m1 1h0m0-2h0m1-2h0m2 2h0m1-1h0m5 16h0m15-7h0m0 7h0m-273 15h0m2-1h0m4-1h0m7-4h0m4-2h0m2 13h0m3-1h0m1 3h0m5 8h0m0-9h0m1 7h0m0 4h0m0-12h0m2-10h0m3 10h0m0-4h0m2 13h0m0-2h0m1-8h0m1 12h0m2-4h0m5-12h0m0 12h0m9-12h0m1 12h0m0 2h0m1-14h0m3 13h0m3-22h0m4 7h0m2 14h0m8-6h0m6 5h0m7 1h0m0-22h0m1 0h0m3 25h0m11-1h0m6-25h0m18 12h0m1-3h0m1-9h0m9 6h0m1-7h0m17 2h0m7 5h0m3 7h0m1 1h0m7 7h0m1 0h0m2-8h0m5 0h0m2 10h0m0 3h0m1-14h0m1 0h0m5 10h0m1-20h0m1 25h0m0-22h0m0-6h0m2 21h0m3-13h0m0-6h0m3 3h0m4 16h0m1 4h0m0-2h0m2-20h0m8 23h0m3-25h0m4-2h0m1 3h0m9 5h0m0-6h0m5 5h0m1 16h0m5-8h0m0 0h0m2-9h0m2 4h0m0-5h0m0 0h0m2 22h0m2 0h0m0-24h0m2 0h0m4 13h0m0-10h0m8 10h0m2 4h0m5-12h0m1-5h0m1 13h0m0-3h0m-284 45h0m1-9h0m9 6h0m6-13h0m2 8h0m7-6h0m1-1h0m1-2h0m4-6h0m17-4h0m6 5h0m5-2h0m4 14h0m1-6h0m1 5h0m1-10h0m0-3h0m0 1h0m3-4h0m1 2h0m2 10h0m1-5h0m1 0h0m2 3h0m5 16h0m0-22h0m6 13h0m2-3h0m3-7h0m2 22h0m4-8h0m0-7h0m2 1h0m3 11h0m4 0h0m3 2h0m2-24h0m2 22h0m2-5h0m8-9h0m10 2h0m1 6h0m4 6h0m17-7h0m4-1h0m3-7h0m17-10h0m1 11h0m0-2h0m0 3h0m5 13h0m1-9h0m2-2h0m3 10h0m1-13h0m7-10h0m1 13h0m0 8h0m3-22h0m1 11h0m1 7h0m0-6h0m1 10h0m3-12h0m0-7h0m1-3h0m0 7h0m1 19h0m2-20h0m1 14h0m0-16h0m14 21h0m1-4h0m1-4h0m2 3h0m5 2h0m1-6h0m1 9h0m3 1h0m2-28h0m1 25h0m2-6h0m1-2h0m2 3h0m0-13h0m0 4h0m1 9h0m1-5h0m5 9h0m0-21h0m5 16h0m1 8h0m4-14h0m9-9h0m1 25h0m3-20h0m1-2h0m-272 25h0m4 11h0m18 7h0m2 5h0m1-3h0m1 0h0m1-4h0m14 6h0m7-10h0m2 13h0m3-5h0m3-6h0m2 1h0m5-6h0m0 8h0m1-11h0m8 9h0m5-17h0m1 9h0m1-2h0m1 4h0m3-8h0m2-1h0m4 0h0m7 24h0m5 3h0m1-5h0m2-3h0m7 2h0m4-10h0m0 11h0m0-4h0m4-14h0m0 9h0m0-13h0m3 11h0m2-12h0m2 21h0m11-12h0m7 20h0m0-6h0m14 2h0m5-8h0m2 3h0m13 4h0m1 0h0m3-14h0m0-6h0m2 22h0m2-1h0m4-8h0m2-11h0m3 6h0m1 2h0m1 3h0m2-11h0m1 17h0m1-8h0m0 0h0m2-10h0m0 5h0m3 13h0m6 2h0m0-7h0m0-3h0m3-3h0m2 6h0m2-12h0m1 1h0m0 17h0m4-11h0m2-11h0m1 22h0m0-18h0m0 5h0m0-5h0m5-1h0m2 13h0m4 3h0m1-3h0m0-14h0m5-1h0m0 18h0m4-13h0m2 18h0m3 0h0m0 0h0m0-20h0m2 4h0m4 4h0m6-11h0m1-2h0m1 10h0m3-3h0m4-8h0m-253 52h0m1-2h0m1-1h0m2-1h0m1 7h0m1-4h0m1-9h0m3 9h0m0-10h0m1 5h0m0-10h0m3 4h0m3 2h0m3 12h0m2-21h0m0 4h0m7 18h0m3 1h0m0-9h0m0-15h0m7 23h0m2-1h0m2-4h0m0-19h0m0-1h0m5 19h0m2-10h0m1-4h0m1 5h0m1-8h0m2 1h0m1 2h0m8-4h0m1 19h0m3-13h0m1-2h0m1 23h0m0-13h0m1-15h0m2 13h0m2 1h0m0 10h0m6-20h0m1 9h0m1 7h0m24 5h0m2 3h0m11-11h0m2 2h0m1-17h0m8 1h0m2 20h0m2-24h0m5 24h0m3-5h0m1 9h0m1-6h0m2-6h0m2-15h0m7 8h0m1 4h0m1-2h0m1 11h0m0-14h0m0 3h0m1 3h0m3 11h0m3 4h0m1-8h0m1 8h0m16-24h0m2-2h0m1 8h0m0 11h0m1-14h0m7-4h0m1 20h0m1 2h0m1-7h0m7 2h0m0-4h0m3 6h0m6-19h0m4 0h0m9 19h0m2-13h0m1-6h0m6 5h0m-221 26h0m3-1h0m13 15h0m5-13h0m2 10h0m1-3h0m4 7h0m0-16h0m1 0h0m2-2h0m2 1h0m1-1h0m1 24h0m3 0h0m1-7h0m1-11h0m2 4h0m0 14h0m1-17h0m2 2h0m0 4h0m2 5h0m0 7h0m3-9h0m1-10h0m2-5h0m2 16h0m1-4h0m0 8h0m0 4h0m1-9h0m0-6h0m2 17h0m3-23h0m3 17h0m0-5h0m3 3h0m6-10h0m5 6h0m2 3h0m5 3h0m0 4h0m4-11h0m2-3h0m1 15h0m10-20h0m0-6h0m8 1h0m1 22h0m2-15h0m0-5h0m3 22h0m1-13h0m4 7h0m9-18h0m4 6h0m3 8h0m8 1h0m1-14h0m2 10h0m2-10h0m0 23h0m1-14h0m1 12h0m1-13h0m1-12h0m2 11h0m2 10h0m8 4h0m6-25h0m0 10h0m3-3h0m2 0h0m2 14h0m3-20h0m6-1h0m-147 33h0m8 0h0m0-1h0m1 21h0m2-22h0m0 10h0m7 3h0m3-11h0m1 9h0m2 7h0m0 10h0m0-11h0m1 0h0m1-12h0m0-4h0m2 14h0m0 0h0m3-7h0m2 17h0m0-1h0m1 1h0m0-14h0m4 10h0m0 5h0m4-1h0m2 3h0m4-28h0m14 18h0m5 4h0m1 1h0m3-11h0m15-12h0m3 2h0m2 17h0m12-3h0m4 3h0m1-10h0m1 11h0m6-18h0m1 12h0m-108 23h0m24-2h0m1-3h0m11 4h0m3 1h0m48-5h0m3 3h0"/>
<path id="c14" d="M1604 247h0m11 8h0m5-3h0m0-3h0m3-1h0m3 6h0m33 0h0m8-16h0m2 13h0m2-3h0m0-4h0m4-5h0m1 12h0m5-13h0m0-3h0m1 5h0m2 2h0m1 13h0m8-11h0m-145 38h0m3-4h0m0 0h0m1-11h0m1 14h0m0-6h0m3 4h0m1 0h0m3-5h0m4 3h0m5-9h0m1 13h0m3-3h0m0-17h0m2 18h0m0-17h0m4 21h0m5-2h0m0 3h0m2-4h0m7 5h0m2-5h0m1-14h0m0 6h0m1-5h0m1-6h0m1 7h0m5-9h0m14 1h0m11-3h0m1-1h0m7 11h0m1 16h0m5-3h0m6-1h0m2-21h0m8 18h0m1-15h0m3 11h0m2-16h0m1 4h0m0 5h0m1-7h0m4 9h0m2-11h0m1 24h0m2-8h0m0 6h0m1-10h0m3 14h0m0-7h0m1-7h0m0-10h0m2 14h0m1-9h0m0 16h0m2 1h0m1-6h0m1-5h0m0 8h0m1 4h0m8-7h0m-179 41h0m13-16h0m6 0h0m1 3h0m0 4h0m3 8h0m1-7h0m2-20h0m6-2h0m3 14h0m0 0h0m1-12h0m4 1h0m1 3h0m0-5h0m3 16h0m2-5h0m0-5h0m2 14h0m2-2h0m1-12h0m10 5h0m5-6h0m3-3h0m2-3h0m6 12h0m1-2h0m2 2h0m7 7h0m1-18h0m6 9h0m6 4h0m12-1h0m0 6h0m6-13h0m11 2h0m0-3h0m1 4h0m0-6h0m1 10h0m2 0h0m2-4h0m8 8h0m5-11h0m1 0h0m3-3h0m2 1h0m6-3h0m2 4h0m-158 29h0m2 9h0m3 14h0m1-22h0m1 13h0m10 9h0m3-6h0m3-13h0m3-3h0m0 2h0m-29 46h0m0 2h0m20-4h0m11-13h0"/>
<path id="c15" d="M554 1327h0m5-9h0m1 12h0m4 0h0m2 4h0m4-8h0m3 3h0m1-13h0m3 12h0m3-9h0m1-1h0m1 2h0m-38 19h0m2-2h0m2-1h0m1 17h0m2-13h0m4 22h0m5-5h0m4-15h0m1 19h0m0-5h0m3-8h0m0 15h0m2-5h0m2 7h0m0-26h0m1-1h0m1 26h0m2-17h0m11-3h0m3 6h0m2-15h0m1 5h0m2-5h0m4 10h0m1 10h0m1-8h0m0-8h0m-51 46h0m8-1h0m2 4h0m0 7h0m0-10h0m7-7h0m0 9h0m3-18h0m4 20h0m4-8h0m11-14h0m3 7h0m4 0h0m9-3h0m2 18h0m6-21h0m1 10h0m1 7h0m0-17h0m-50 29h0m2 12h0m1-6h0m2 4h0m4 6h0m1-4h0m0 8h0m17 0h0m5 7h0m1-10h0m1 9h0m8-2h0m6-7h0m1-7h0m3-1h0m0-11h0m1 15h0m1-12h0m0 26h0m0-21h0m1 15h0m4-17h0m1 6h0m1 10h0m2 2h0m3-13h0m1 19h0m2-1h0m0-5h0m0 0h0m12 3h0m-66 13h0m2 9h0m10 3h0m1-7h0m3 13h0m1-2h0m1-23h0m3 14h0m3 12h0m0-23h0m0 8h0m3-2h0m4-8h0m8 23h0m2-6h0m2-17h0m1 2h0m1 16h0m2 4h0m3-7h0m2-16h0m7 25h0m1-24h0m1 17h0m0 0h0m3 2h0m1-12h0m7 3h0m-50 21h0m1 8h0m7-6h0m5 14h0m2 5h0m1-20h0m8 3h0m5-7h0m0 16h0m1-3h0m1 11h0m2-21h0m4-3h0m3 22h0m1-3h0m2-20h0m0 8h0m2 16h0m1-2h0m1 1h0m2 2h0m0-11h0m1 6h0m1 6h0m4-7h0m0-2h0m-43 13h0m4 0h0m18 13h0m4-14h0m3 2h0m9 14h0m3-2h0"/>
<path id="c16" d="M1169 1026h0m1 6h0m2-2h0m2 3h0m-142 31h0m5-3h0m4-5h0m1 6h0m8-13h0m13 10h0m5 2h0m13-1h0m2-2h0m6-6h0m6 6h0m0-10h0m2 16h0m2-8h0m0-3h0m2 11h0m1-11h0m5 10h0m6-1h0m5 0h0m2-10h0m2 9h0m1-8h0m3 1h0m2-6h0m15 13h0m0 3h0m2-14h0m3 0h0m1-6h0m9 2h0m2-3h0m0 8h0m0 0h0m3-9h0m1 16h0m1-11h0m0-6h0m1 9h0m3 13h0m3 1h0m3 1h0m2-11h0m1-9h0m2 17h0m3-1h0m2-11h0m2-6h0m2 12h0m4-2h0m2 3h0m-198 36h0m27-18h0m12-3h0m3 2h0m10-6h0m7 11h0m5-7h0m0 2h0m0 18h0m2-25h0m0 22h0m2-22h0m0 9h0m18-8h0m1 4h0m1 0h0m4 15h0m0-7h0m2-9h0m3-3h0m2 22h0m0-1h0m3-5h0m1-16h0m5 20h0m2-7h0m3 0h0m9 13h0m2-5h0m1-13h0m2 8h0m1 3h0m3 1h0m6-6h0m1 9h0m2-6h0m1-2h0m1 4h0m1-1h0m1 7h0m2-13h0m3 5h0m5-1h0m3-4h0m4 12h0m8-14h0m1 8h0m0 5h0m1-16h0m0 14h0m1-6h0m1-1h0m0-3h0m4 8h0m0 2h0m1-21h0m1 10h0m1-2h0m0 7h0m6-14h0m1-1h0m2-2h0m2 7h0m3-1h0m5 17h0m2-5h0m0 7h0m2-24h0m2 22h0m0 3h0m1-2h0m1-11h0m0 15h0m3-9h0m3 3h0m0-5h0m-232 33h0m9-6h0m2 10h0m4-9h0m2-4h0m1 4h0m0-1h0m8-11h0m1 15h0m6-12h0m3 3h0m2-7h0m0 23h0m4-6h0m8-1h0m13 10h0m4-9h0m10-5h0m1-13h0m2 25h0m0-3h0m1-24h0m3 5h0m4 11h0m1-12h0m1 8h0m1-3h0m4 7h0m5-5h0m1 19h0m2-1h0m0-22h0m0 4h0m1-8h0m0 20h0m13-1h0m0-9h0m3 2h0m1-3h0m1 11h0m3 3h0m0-17h0m1 20h0m1-2h0m0-14h0m1 13h0m1-5h0m1-8h0m2 4h0m2-13h0m1 0h0m1 17h0m0-19h0m6 4h0m0 19h0m6-9h0m1 1h0m2-1h0m4 4h0m6 5h0m2-23h0m1 25h0m6-22h0m4 8h0m2 17h0m1-4h0m4-8h0m0 6h0m1-5h0m7 5h0m1-18h0m1 15h0m0 4h0m1-7h0m9 10h0m1-2h0m5-12h0m0 11h0m8-13h0m1 7h0m2-9h0m2 1h0m1 12h0m1 4h0m6-26h0m2-1h0m-230 36h0m1-4h0m5 24h0m1-24h0m2 20h0m8-17h0m1-3h0m0-1h0m12 15h0m5-9h0m3 7h0m1 2h0m1 6h0m5 6h0m7-22h0m2 3h0m2 20h0m0-14h0m1-9h0m5 13h0m3-3h0m2 13h0m0-7h0m0-10h0m8 7h0m0-5h0m0-4h0m1 1h0m1-4h0m4-1h0m5 13h0m2-9h0m2-6h0m9-4h0m15 20h0m6 2h0m2-10h0m5 1h0m4 6h0m0-7h0m3-10h0m3 13h0m1-11h0m1 0h0m1 22h0m0-7h0m5 4h0m2-16h0m1 8h0m1 13h0m0-7h0m3-3h0m2-17h0m0 2h0m2 4h0m4 10h0m2-5h0m1 5h0m3-7h0m1 5h0m2-13h0m1 20h0m1-20h0m1 16h0m1-7h0m0 12h0m0-16h0m2 22h0m2-7h0m1-6h0m0-3h0m2 7h0m4 8h0m1-10h0m3-3h0m1 4h0m1-11h0m4 4h0m1-10h0m18-2h0m-193 36h0m40-4h0m14 0h0m4-1h0m9 16h0m53-15h0"/>
<path id="c17" d="M1596 1535h0m1 5h0m10-5h0m-4 40h0m16-6h0m26 18h0m-34 30h0m1-3h0m0 7h0m10 10h0m0-10h0m1-5h0m4 4h0m4 7h0m1 3h0m4-8h0m1 11h0m8-27h0m28 28h0m16-1h0m-120 10h0m13 1h0m1 6h0m0-3h0m12 6h0m1 0h0m5 0h0m26-7h0m1 18h0m0-24h0m1 16h0m2-16h0m1 13h0m0 1h0m1-1h0m2-14h0m1 0h0m4-2h0m8 14h0m1-1h0m6 8h0m2-2h0m1-13h0m0 1h0m3 3h0m1 4h0m0-6h0m1 14h0m0 1h0m2-2h0m3 4h0m4-13h0m1-8h0m1 18h0m0 3h0m0-7h0m2-7h0m1 16h0m1-9h0m0-6h0m4 1h0m4-7h0m1 21h0m2-28h0m2 2h0m2 1h0m4 24h0m1-3h0m6 4h0m-134 28h0m4-4h0m5-16h0m0 15h0m8-7h0m1 0h0m3 1h0m3 11h0m3-2h0m1 2h0m1-2h0m0-8h0m1 2h0m0 6h0m1 4h0m3-1h0m2-9h0m2-6h0m5 8h0m8-20h0m6 7h0m0-7h0m2 7h0m1 8h0m9 0h0m1-9h0m0 8h0m3-2h0m4 15h0m1-23h0m4 15h0m0-9h0m1 11h0m3-4h0m1-3h0m4-5h0m0-3h0m2 11h0m1-17h0m0 21h0m0-11h0m3 8h0m0-9h0m2-1h0m0 2h0m0 12h0m3 0h0m0-3h0m3-11h0m1 11h0m0-3h0m0-1h0m3 5h0m0-2h0m1-5h0m1 10h0m1-6h0m3-9h0m2 5h0m0-7h0m1 11h0m1 2h0m2 1h0m3-2h0m0-13h0m2 23h0m6-7h0m0 1h0m1-10h0m0 4h0m7-12h0m3 9h0m3 2h0m0 8h0m1 6h0m1-11h0m-154 39h0m4-18h0m5-2h0m3 8h0m2 1h0m1-4h0m5-5h0m2 10h0m1-15h0m0 11h0m0-9h0m5 7h0m5-12h0m5 0h0m1 3h0m3 7h0m1-8h0m0 7h0m3 3h0m1-10h0m1-1h0m1 14h0m3-10h0m0 8h0m3 8h0m19 0h0m0 6h0m3-8h0m3 5h0m1-3h0m2-14h0m1 15h0m0 2h0m3-9h0m2-7h0m2 22h0m1-28h0m4-1h0m1 0h0m0 28h0m2-24h0m3 13h0m0-17h0m1 16h0m2-16h0m0 4h0m0 17h0m2-14h0m0 11h0m1-13h0m4 22h0m2-5h0m2 5h0m2 0h0m1-9h0m4 2h0m0-1h0m2-18h0m0 10h0m3 8h0m6-20h0m1 19h0m5-11h0m1 6h0m0 1h0m2-1h0m3 4h0m0-16h0m1 0h0m2 2h0m4 1h0m5-2h0m-155 35h0m8 6h0m1-8h0m1 3h0m42-3h0m2-1h0m1-2h0m0 19h0m2-18h0m0 7h0m3 0h0m1 14h0m0-15h0m11 5h0m0 0h0m0-5h0m0-6h0m2 11h0m0-7h0m3 8h0m4-12h0m1 7h0m0 4h0m0-8h0m2 10h0m1 9h0m2-4h0m6 2h0m5 3h0m7-9h0m2 7h0m1-8h0m0-5h0m2 13h0m1 3h0m1-7h0m1-11h0m1 17h0m2-2h0m0-6h0m6 1h0m20-19h0m-141 56h0m7-21h0m0 1h0m1 8h0m3-2h0m0-2h0m1 14h0m0 4h0m0-2h0m0-17h0m3 17h0m0-22h0m0-1h0m1 10h0m1-2h0m2 12h0m18-19h0m5 15h0m9-8h0m2 1h0m6-6h0m1-2h0m1 9h0m3-4h0m2 0h0m2 14h0m2 5h0m3-27h0m1-2h0m7 16h0m0 2h0m4-12h0m2 12h0m7-14h0m2 8h0m1 5h0m1-12h0m3-5h0m1 21h0m7-9h0m5 4h0m1-9h0m4-6h0m-105 31h0m2 12h0m6 12h0m3-25h0m0 0h0m1 9h0m5 17h0m1-24h0m3 21h0m25-16h0m4-4h0m4 0h0"/>
<path id="c18" d="M1900 730h0m8-2h0m0 5h0m18-1h0m1 0h0m21-2h0m12-4h0m0-4h0m2 7h0m-58 13h0m0 4h0m7-4h0m3 10h0m2-9h0m2 7h0m1 6h0m0 3h0m2-9h0m0 12h0m1-9h0m2 0h0m0-2h0m2-14h0m0 0h0m1 3h0m3 24h0m1-13h0m1 1h0m1 8h0m8 5h0m2-2h0m0-19h0m8 10h0m1-17h0m1 4h0m0 0h0m1 6h0m1 5h0m1-17h0m2 17h0m2 5h0m0-15h0m5 20h0m-51 11h0m11-1h0m2-6h0m2 21h0m7-19h0m12 2h0m3-1h0m2 3h0m2 6h0m1-3h0m1-1h0m4 1h0m8-4h0"/>
<path id="c19" d="M1715 2163h0m14-12h0m7-3h0m1 19h0m3 4h0m6-16h0m0 11h0m7-3h0m1-6h0m11-1h0m10-1h0m3 5h0m0-4h0m3 12h0m22-6h0m17-7h0m-97 20h0m26 2h0m3 2h0m1-4h0m1 2h0m0 1h0m7 2h0m26 3h0m6-8h0m7 7h0m6-7h0m0 23h0"/>
<path id="c20" d="M2119 788h0m11 5h0m9-4h0m8 3h0m16 1h0m2-3h0m0-4h0m1 8h0m14-1h0m33 1h0m5-20h0m11 14h0m26 3h0m2 0h0m-171 33h0m11-9h0m1-12h0m6 5h0m4-3h0m0-3h0m1 17h0m2-22h0m1 24h0m2-9h0m0-8h0m7-7h0m0 21h0m7-7h0m8-10h0m1 4h0m4 4h0m1-11h0m14 11h0m1-4h0m7 13h0m4-5h0m2 5h0m6-3h0m0-15h0m1-2h0m0 25h0m13-21h0m5 10h0m3-15h0m2 7h0m7-7h0m2 13h0m4 12h0m1-26h0m1 25h0m4-10h0m0 6h0m1-8h0m0-4h0m2 18h0m3-20h0m2 0h0m5 17h0m13 3h0m3-14h0m1 4h0m5-17h0m2 6h0m3 16h0m7 3h0m0-20h0m8 19h0m1-4h0m4 7h0m1-10h0m1 2h0m3 6h0m2 3h0m31-5h0m-240 19h0m1-2h0m3 8h0m2 3h0m3-15h0m5 9h0m1 3h0m1-15h0m2 14h0m0 6h0m1-4h0m2-17h0m6 1h0m4 8h0m0 0h0m0-6h0m3 13h0m2-18h0m2 17h0m4-8h0m7 10h0m0 8h0m2-7h0m0 0h0m0 6h0m3-17h0m7-2h0m2 16h0m2-6h0m6 1h0m0-12h0m3 13h0m3-4h0m0 4h0m0 6h0m3 2h0m10-8h0m1 9h0m11-19h0m1 15h0m4-20h0m1 16h0m5 9h0m3-6h0m2 0h0m0-9h0m2 2h0m3 9h0m1 3h0m0-27h0m4 24h0m1-19h0m1 8h0m1 4h0m4-7h0m1 1h0m3 16h0m1-7h0m8-20h0m2-1h0m1 20h0m1-20h0m5 10h0m2-8h0m1 0h0m2 1h0m1 8h0m1 3h0m1-3h0m1 1h0m1-7h0m3 22h0m24-3h0m2-3h0m2-1h0m2-7h0m0-13h0m3 15h0m4 2h0m1-1h0m3 6h0m4 7h0m2-10h0m1-5h0m0 13h0m2 0h0m7-5h0m3 7h0m2-14h0m-249 41h0m3-25h0m0 18h0m1 8h0m3-14h0m3-10h0m1 20h0m2 0h0m1-7h0m2 9h0m0-4h0m2 2h0m0-1h0m3-21h0m1 4h0m9 4h0m1-8h0m2 16h0m2-10h0m2 2h0m1 2h0m3-7h0m9 23h0m2-15h0m3 10h0m1 5h0m0-10h0m1-5h0m7 12h0m0-2h0m2-14h0m2 18h0m4-19h0m1 2h0m2-6h0m4-2h0m2 0h0m1 24h0m2-19h0m1 20h0m1-11h0m0 12h0m1-17h0m1 0h0m1 6h0m0-5h0m1-8h0m1 3h0m1 13h0m4-3h0m3 0h0m3-12h0m5 20h0m1 1h0m0-18h0m12 5h0m2 11h0m1-22h0m1-1h0m1 15h0m4 9h0m0-19h0m1 24h0m6-20h0m2 14h0m0 3h0m0-7h0m2-3h0m0 12h0m3-29h0m0 25h0m0-13h0m1-9h0m2 8h0m2 6h0m6-2h0m0-12h0m1 2h0m1 5h0m0 0h0m4 11h0m12-1h0m3-16h0m1 15h0m2 1h0m0-18h0m6 20h0m0-6h0m18 8h0m0-3h0m1-11h0m1 10h0m2-17h0m2 16h0m4-8h0m3-8h0m0 24h0m0-3h0m1-12h0m5-1h0m1-3h0m3 1h0m1 2h0m5 3h0m4 11h0m10-14h0m-246 43h0m1-14h0m2 16h0m4-24h0m0 24h0m0-19h0m1 20h0m1-2h0m4-5h0m4 9h0m0-4h0m4-17h0m2 15h0m2-6h0m3-10h0m1-3h0m3 20h0m0 4h0m3-12h0m5-10h0m3 3h0m3 0h0m1-9h0m6 5h0m1 8h0m3-7h0m0 21h0m2-24h0m2 27h0m12-15h0m4-3h0m0 7h0m6-4h0m1 3h0m0 6h0m2-9h0m0-3h0m8 15h0m0-3h0m6-7h0m2 8h0m3-21h0m0 15h0m0-15h0m6-4h0m1 12h0m2 2h0m4-5h0m6 15h0m6-23h0m0 4h0m2 2h0m3-3h0m1 10h0m1-10h0m6 9h0m2-7h0m2 6h0m0 2h0m0-2h0m3 1h0m9-7h0m8 20h0m10-14h0m4 6h0m10-5h0m1 8h0m2 2h0m1-3h0m1-1h0m10-6h0m0 8h0m1-21h0m3 28h0m4-22h0m3 1h0m0 7h0m0-7h0m1 4h0m8 8h0m2 2h0m3 1h0m10-12h0m4-5h0m-253 28h0m6 6h0m5 19h0m2-23h0m6 11h0m3-1h0m3-5h0m3-6h0m0 6h0m2 0h0m1 6h0m0-4h0m1 0h0m2-9h0m2 22h0m0-8h0m4 5h0m2-17h0m1 22h0m0-26h0m2 17h0m2 0h0m3-4h0m3 6h0m15-20h0m6 6h0m1-3h0m0 4h0m1 0h0m5 22h0m9-8h0m3-8h0m0 0h0m8-9h0m1 7h0m0 10h0m2-17h0m4 25h0m2-27h0m0-2h0m3 2h0m2 12h0m1-6h0m0 12h0m5-15h0m1-2h0m3 18h0m6-9h0m3 7h0m1-8h0m3-2h0m0 17h0m2 0h0m3-5h0m4-19h0m0 8h0m2-10h0m3 15h0m1 11h0m1-18h0m4 0h0m2 21h0m1 1h0m3-9h0m7 2h0m3 5h0m2-5h0m3-4h0m2-13h0m1-2h0m1 6h0m2 17h0m0-13h0m1 3h0m7 3h0m0-7h0m5-12h0m9 25h0m1-12h0m2 13h0m1-11h0m6 12h0m1-2h0m7-8h0m3 4h0m1-7h0m1 7h0m1-17h0m1-1h0m4-1h0m4 23h0m0-13h0m1 15h0m2-26h0m-231 29h0m8 1h0m1 3h0m1-4h0m1 17h0m0-14h0m3 5h0m3-3h0m2 1h0m5 0h0m0-4h0m0-1h0m1-2h0m2 8h0m1-7h0m29 9h0m1 4h0m13 8h0m4-20h0m2 1h0m6 26h0m1-15h0m2 3h0m1-6h0m3 12h0m4-23h0m0 14h0m0 10h0m3-18h0m3 19h0m0-15h0m6 3h0m3-6h0m2-6h0m0 1h0m7 21h0m8-1h0m3-1h0m1 4h0m1-15h0m6 16h0m0-9h0m1 7h0m4 5h0m0-10h0m3-2h0m1-6h0m3 8h0m2-8h0m1 8h0m1-6h0m2 5h0m4 11h0m5 0h0m2-1h0m1-8h0m1-10h0m0 8h0m2-8h0m0 11h0m4-17h0m1 16h0m4-19h0m0 4h0m6-1h0m2 17h0m3-3h0m1-9h0m2-1h0m4-7h0m4 20h0m5-20h0m3 3h0m6 2h0m2-2h0m1 5h0m4-3h0m-150 26h0m27 5h0m10 4h0m12-11h0m7 6h0m2 2h0m6-1h0m3-6h0m1 2h0m1-3h0m1 1h0m7 11h0m12-11h0m15 1h0m3 4h0m4-5h0m1 8h0"/>
</defs>
<text x="4.7" y="12.9" font-size="10.5" font-weight="bold" fill="#111">A</text>
<g transform="scale(.1)" fill="none" stroke-linecap="square" stroke-width="14">
<use href="#c0" stroke="#F8766D"/>
<use href="#c1" stroke="#EA8331"/>
<use href="#c2" stroke="#D19300"/>
<use href="#c3" stroke="#ADA200"/>
<use href="#c4" stroke="#8FAA00"/>
<use href="#c5" stroke="#5BB300"/>
<use href="#c6" stroke="#00BA38"/>
<use href="#c7" stroke="#00BF7D"/>
<use href="#c8" stroke="#00BE6C"/>
<use href="#c9" stroke="#00C1AA"/>
<use href="#c10" stroke="#00BCD6"/>
<use href="#c11" stroke="#00B4EF"/>
<use href="#c12" stroke="#2AA5FF"/>
<use href="#c13" stroke="#619CFF"/>
<use href="#c14" stroke="#A58AFF"/>
<use href="#c15" stroke="#C77CFF"/>
<use href="#c16" stroke="#F066EA"/>
<use href="#c17" stroke="#FB61D7"/>
<use href="#c18" stroke="#FF63B9"/>
<use href="#c19" stroke="#FF6C91"/>
<use href="#c20" stroke="#D89000"/>
</g>
<g font-size="7" font-weight="bold" text-anchor="middle" fill="#111">
<text x="142.9" y="190">Macrophage</text>
<text x="85" y="87.5">Plasma Cell</text>
<text x="113.8" y="187.4">17</text>
<text x="185.9" y="141.9">Differentiated SMC</text>
<text x="161.2" y="81.5">Endothelial</text>
<text x="230.2" y="148.2">Pericyte 2</text>
<text x="124.5" y="67">T Cell</text>
<text x="93.2" y="175.2">14</text>
<text x="163.8" y="122.2">Modulated SMC</text>
<text x="220" y="118.5">18</text>
<text x="105.4" y="144.9">Fibroblast</text>
<text x="180.5" y="64.5">11</text>
<text x="134.9" y="133.7">Fibroblast 2</text>
<text x="201.9" y="176.2">Pericyte 1</text>
<text x="159" y="31.5">NK Cell</text>
<text x="61.1" y="143.3">Neuron</text>
<text x="111" y="112">13</text>
<text x="165.3" y="173.9">12</text>
<text x="194" y="77.5">20</text>
<text x="177.5" y="219">19</text>
<text x="220" y="91">B Cell</text>
</g>
<rect x="44.5" y="17.5" width="209.5" height="209.5" fill="none" stroke="#111" stroke-width="1.1"/>
<text x="149.95" y="239.4" font-size="11.4" text-anchor="middle" fill="#1a1a1a">t-SNE1</text>
<text transform="translate(40.5 122.25) rotate(-90)" font-size="11.5" text-anchor="middle" fill="#1a1a1a">t-SNE2</text>
<text x="309.3" y="12.9" font-size="10.5" font-weight="bold" fill="#111">B</text>
<g transform="translate(290.4 0) scale(.1)" fill="none" stroke-linecap="square" stroke-width="10.3">
<g stroke="#bdbdbd">
<use href="#c0"/>
<use href="#c1"/>
<use href="#c2"/>
<use href="#c3"/>
<use href="#c4"/>
<use href="#c5"/>
<use href="#c6"/>
<use href="#c7"/>
<use href="#c8"/>
<use href="#c9"/>
<use href="#c10"/>
<use href="#c11"/>
<use href="#c12"/>
<use href="#c13"/>
<use href="#c14"/>
<use href="#c15"/>
<use href="#c16"/>
<use href="#c17"/>
<use href="#c18"/>
<use href="#c19"/>
<use href="#c20"/>
</g>
<path stroke="#7a7ad8" stroke-width="10.5" d="M1615 255h0m-64 23h0m45-6h0m1-5h0m2 1h0m66-12h0m11 16h0m7 0h0m5-3h0m1 12h0m-145 6h0m15-1h0m39 11h0m55-3h0m-114 48h0m9-22h0m2 33h0m-164 136h0m29-21h0m-238 54h0m10 0h0m5-5h0m91 7h0m91-20h0m-54 49h0m36-4h0m216 6h0m27-21h0m-397 30h0m4 4h0m157 5h0m13-16h0m220 2h0m163 21h0m4 5h0m136-5h0m23-10h0m5 3h0m-760 18h0m39-1h0m400 1h0m42 13h0m25-16h0m40 2h0m5 7h0m8-4h0m11-6h0m25 27h0m133-3h0m8 3h0m26-3h0m3 0h0m11-26h0m-740 40h0m6-8h0m306 25h0m47-16h0m5 1h0m7 2h0m5 6h0m28-8h0m145 11h0m132-11h0m4 11h0m6-19h0m10 1h0m25 8h0m-702 45h0m30-15h0m268 16h0m66-7h0m48-5h0m64-13h0m5-1h0m43 8h0m93-3h0m28 14h0m29-14h0m30 4h0m-754 18h0m3 22h0m102-1h0m42 5h0m17-13h0m269 1h0m6 13h0m45-18h0m2 1h0m7-5h0m50 19h0m19 6h0m44-28h0m-571 41h0m7 13h0m53-11h0m59 11h0m279-3h0m5 7h0m1-2h0m7-19h0m16 1h0m85 1h0m-477 48h0m13-7h0m27 5h0m172-24h0m26 25h0m48-13h0m32-11h0m19 19h0m30 1h0m149-13h0m3 0h0m-480 29h0m147 17h0m29-6h0m3-17h0m2 8h0m32-5h0m54 14h0m12 9h0m26-23h0m30 17h0m77-21h0m11 3h0m-882 45h0m407-8h0m87-9h0m35 1h0m118 19h0m28-12h0m91 13h0m3-23h0m51 7h0m42 7h0m11-10h0m45 17h0m37-17h0m7 12h0m2 11h0m3-18h0m-542 41h0m9-4h0m51 10h0m11-21h0m138 12h0m3-11h0m32-1h0m101-4h0m128 9h0m11-7h0m9 8h0m46 8h0m8-19h0m441 10h0m-809 46h0m73-21h0m15 18h0m83-10h0m61 0h0m4 4h0m4 2h0m112 4h0m54-12h0m-425 35h0m85-10h0m101 8h0m12-7h0m3-6h0m119 9h0m26 8h0m3-3h0m23-1h0m19-13h0m15 19h0m35-11h0m-395 21h0m2 16h0m29-9h0m101 1h0m42-4h0m138 11h0m52-3h0m-397 35h0m59-14h0m101-3h0m30 1h0m129 12h0m11-13h0m-293 36h0m-292 49h0m-129 24h0m27 5h0m29 3h0m25-3h0m1-8h0m37-2h0m3-9h0m1 16h0m21-8h0m2-6h0m8 13h0m414-8h0m30 9h0m-603 14h0m3 2h0m10-6h0m12 6h0m0 18h0m2-3h0m2-22h0m31 23h0m11-9h0m14 8h0m1-13h0m13 15h0m3-8h0m32-1h0m7-6h0m0 7h0m11-10h0m12-6h0m2 22h0m0 3h0m2-13h0m-215 41h0m6-13h0m21 14h0m42-2h0m11-15h0m13-6h0m16 12h0m1-3h0m4-3h0m1 20h0m4-16h0m2 4h0m3-13h0m1 17h0m25 4h0m21-6h0m8-13h0m17 19h0m8-13h0m1 7h0m12-18h0m443 23h0m596-3h0m-1261 35h0m1-24h0m2 20h0m26-15h0m3 7h0m2 8h0m14-13h0m2 20h0m1-23h0m10 16h0m10-15h0m9 12h0m45 0h0m6-4h0m25-3h0m4-2h0m1 5h0m3 7h0m15-4h0m465-10h0m55-5h0m482 23h0m4-15h0m7-5h0m4-6h0m10 29h0m9-5h0m7 3h0m16-11h0m10 10h0m9-17h0m1 6h0m0 0h0m3 4h0m12-19h0m10 11h0m4 11h0m2-16h0m-1431 40h0m2 6h0m87 5h0m48 0h0m4-14h0m17 3h0m4 11h0m1 2h0m18-4h0m42-8h0m13-13h0m10 24h0m83-5h0m0 2h0m8 1h0m163-19h0m182 0h0m619-5h0m19 21h0m9-5h0m6 5h0m5-14h0m12 11h0m5-1h0m2 8h0m12-9h0m14 4h0m5 0h0m11-15h0m4-1h0m23 7h0m-1481 41h0m9-11h0m15-3h0m18-5h0m25 25h0m7-27h0m9 6h0m52 12h0m22-11h0m6-3h0m8 15h0m5-10h0m12 11h0m11-16h0m3 1h0m42 21h0m10 0h0m10-19h0m14 17h0m23-8h0m3-13h0m12 0h0m2 7h0m9 2h0m2 11h0m1-7h0m3 8h0m8-23h0m24 16h0m8 1h0m18 2h0m171-13h0m87-4h0m61 14h0m52-6h0m5 2h0m37-1h0m87-3h0m22-9h0m479 21h0m36-20h0m-1459 41h0m19-13h0m2 9h0m4 0h0m5 3h0m3-9h0m11-2h0m10 5h0m1 2h0m10 7h0m34 0h0m36 6h0m36-14h0m20 11h0m26 1h0m2-18h0m25-2h0m16 0h0m7 28h0m16-25h0m16 19h0m18 4h0m12-10h0m87-1h0m161 10h0m9-1h0m3 1h0m131-11h0m61-12h0m91 0h0m48 11h0m101 10h0m-1043 19h0m4 4h0m7-8h0m5 16h0m10-4h0m18-3h0m28 2h0m14 2h0m1 1h0m11-1h0m9 8h0m5-14h0m5-13h0m19 20h0m1-21h0m7 14h0m1 9h0m5-16h0m60-4h0m6 6h0m3-1h0m4 19h0m16-26h0m17 18h0m8 3h0m0 2h0m37-8h0m2-1h0m1 0h0m8 8h0m9-14h0m17-9h0m29 10h0m5-5h0m12 18h0m10-24h0m3 9h0m3-2h0m7 18h0m12 0h0m10-15h0m5-9h0m521 22h0m9-22h0m124 16h0m8 4h0m9-17h0m8 9h0m8-11h0m4 16h0m25-17h0m17 12h0m1-11h0m11 10h0m4 7h0m5-11h0m43-6h0m13 20h0m4 2h0m1-18h0m17 22h0m-1219 4h0m1 21h0m13-16h0m12 3h0m4-2h0m8 10h0m51-9h0m17-4h0m1 9h0m2 9h0m39-12h0m52-8h0m2 1h0m2 14h0m27-19h0m48 0h0m31 12h0m6-9h0m6 6h0m11 5h0m46-10h0m113 4h0m131 5h0m103 1h0m47-7h0m26-4h0m126 7h0m15 0h0m5-9h0m80 13h0m103-11h0m31 4h0m-1382 48h0m13-1h0m223-13h0m7 3h0m10-3h0m26 4h0m4-1h0m78-13h0m17 27h0m21-25h0m23 4h0m27-1h0m20 16h0m22-2h0m113-1h0m22-11h0m12 20h0m29-12h0m79 5h0m224 7h0m45-20h0m45-6h0m201 8h0m78 19h0m146-10h0m-1501 15h0m11 23h0m13 1h0m4-24h0m2 25h0m18-29h0m273 12h0m18 17h0m39-14h0m25-15h0m16 23h0m2-18h0m45 0h0m29 17h0m32 2h0m6 4h0m14-17h0m28-1h0m11-10h0m18 21h0m15-4h0m15 12h0m37-13h0m2-6h0m489 6h0m84-5h0m90-10h0m25 5h0m0 12h0m6-11h0m5 21h0m5-16h0m15 8h0m41 9h0m14-10h0m261-1h0m-1685 34h0m3-18h0m37 20h0m259-23h0m24 12h0m8-8h0m12 20h0m18 0h0m7-1h0m64 3h0m63-24h0m26 4h0m1 8h0m3-8h0m2 21h0m8-1h0m24-9h0m13 8h0m32-12h0m2-8h0m23 17h0m3 6h0m29-5h0m217-20h0m338 23h0m19 0h0m10-21h0m39-1h0m35 17h0m3 0h0m14-15h0m2 8h0m11-11h0m7 3h0m11-4h0m18 19h0m5-12h0m34-10h0m238 25h0m61-6h0m60-13h0m0-1h0m-1782 33h0m7 6h0m24 14h0m19-13h0m1 14h0m0-21h0m5-2h0m7 5h0m3 13h0m200 6h0m1-21h0m6 9h0m3-16h0m4 7h0m3 20h0m5-3h0m20 3h0m15-29h0m13 4h0m17 4h0m39 20h0m1-21h0m0 6h0m1 0h0m1 11h0m42-8h0m23-14h0m4 16h0m10-2h0m29 9h0m16-14h0m4 2h0m2 16h0m6-16h0m3 5h0m32 0h0m4-17h0m9 27h0m7-19h0m3-8h0m1 23h0m14 0h0m12-6h0m11 7h0m3-21h0m6 14h0m20 2h0m11 3h0m10-18h0m199 17h0m24 7h0m53-19h0m11 8h0m119-8h0m4 4h0m3-9h0m93 8h0m3 15h0m29-26h0m11 23h0m48-1h0m37 0h0m28-20h0m52 11h0m3 15h0m14-12h0m19-6h0m318 16h0m1-7h0m39-12h0m-1761 43h0m1-7h0m28 6h0m4 1h0m16-1h0m185-5h0m15-13h0m11 19h0m37 5h0m9-3h0m15 3h0m2 3h0m8-6h0m0-3h0m4-10h0m1-5h0m0-2h0m28 4h0m69-2h0m13-4h0m30 22h0m2 5h0m5-15h0m46 2h0m2-14h0m1 7h0m26-2h0m14 7h0m1-5h0m40 10h0m11-14h0m10 3h0m6 2h0m0-6h0m369 21h0m19-4h0m74 4h0m55-21h0m47 8h0m2-7h0m4 0h0m24-1h0m22 8h0m79 6h0m28 1h0m30-11h0m344 14h0m31-2h0m-1758 15h0m8 2h0m7 19h0m9-17h0m5-7h0m0 16h0m16 7h0m2-1h0m8-4h0m228-1h0m9-13h0m79-4h0m11 28h0m58-13h0m14-7h0m16 14h0m8-4h0m2-5h0m4-5h0m24 17h0m0-24h0m42 11h0m14 5h0m9 0h0m593 4h0m66-13h0m32-8h0m32-2h0m11 20h0m41-9h0m19 4h0m6 14h0m4-23h0m3-3h0m7-2h0m261 7h0m26 9h0m34 10h0m102-3h0m-1525 23h0m18-2h0m2 11h0m11-10h0m30-4h0m17 2h0m11-3h0m7-7h0m7 25h0m1-21h0m24-5h0m11 2h0m35 19h0m24 0h0m15-8h0m13 4h0m0-10h0m15-9h0m21 18h0m16 10h0m587-27h0m41 18h0m11-18h0m5 16h0m6-16h0m1 23h0m16-15h0m15-4h0m1 7h0m20 15h0m26-26h0m27 12h0m0 5h0m37-10h0m10 1h0m35 3h0m158 11h0m4-7h0m121-15h0m66 26h0m33-10h0m-1499 26h0m114-6h0m14 0h0m29-7h0m51 7h0m503 17h0m265-15h0m12-3h0m10 23h0m29-2h0m5 2h0m29-11h0m284-14h0m4 6h0m29-3h0m21 11h0m32-10h0m-1461 26h0m4-3h0m759 22h0m304-17h0m346 9h0m29-1h0m2 1h0m-454 20h0m19 3h0m2 6h0m14 1h0m-468 41h0m38-3h0m15-7h0m11 7h0m0-16h0m21 3h0m125 0h0m50 18h0m372 0h0m19-8h0m2-10h0m4-5h0m16 4h0m6 0h0m-746 26h0m3 23h0m18-2h0m9-22h0m19 18h0m8-8h0m19 9h0m16 2h0m2-1h0m10-16h0m28 4h0m6-10h0m13 9h0m1-11h0m1 26h0m2-13h0m17-11h0m21 15h0m0-7h0m7 3h0m4 7h0m33-9h0m44-1h0m2 10h0m2-16h0m1 14h0m1-1h0m2-14h0m14 11h0m13-5h0m1 14h0m0 1h0m11-1h0m0-4h0m4-6h0m8-6h0m18 21h0m224-10h0m74-14h0m3 9h0m17 1h0m30-8h0m8 4h0m51 2h0m-1204 44h0m379-6h0m2-10h0m11 16h0m11-3h0m4-11h0m21-12h0m6 3h0m2 4h0m12 5h0m3 7h0m13-14h0m2 7h0m14 11h0m1-7h0m2 8h0m1-22h0m16 16h0m21-18h0m43 17h0m4 6h0m1 5h0m6-24h0m3 17h0m13-13h0m11 6h0m6 9h0m13-24h0m11 5h0m8 18h0m1-4h0m26 4h0m5-16h0m0 15h0m8-7h0m1 0h0m3 1h0m3 11h0m19-6h0m8-20h0m26 27h0m6-6h0m14-3h0m0-9h0m5 13h0m0-3h0m3-11h0m1 11h0m5 4h0m10-3h0m3-2h0m0-13h0m2 23h0m17-15h0m3 2h0m213-5h0m37 12h0m31 1h0m9-4h0m10-14h0m44 17h0m6 0h0m11-4h0m16-9h0m12 14h0m6-11h0m9 15h0m-1246 17h0m7 2h0m8 6h0m13-16h0m9 14h0m360 1h0m2 3h0m2-5h0m23 2h0m10-1h0m85-2h0m9-18h0m8 29h0m13-8h0m6 7h0m17-14h0m39-13h0m4 15h0m20 0h0m9-8h0m3 20h0m15-14h0m5 7h0m45-4h0m16-18h0m1 3h0m8-1h0m8 19h0m19 0h0m13-6h0m18-10h0m9 18h0m20-23h0m13 2h0m6 3h0m182 12h0m130-2h0m1 1h0m10-1h0m21-12h0m18 24h0m58-24h0m1 13h0m-1222 37h0m4-9h0m13 1h0m7 12h0m70-1h0m3 3h0m266-26h0m2 12h0m12 1h0m18 12h0m90-8h0m11-11h0m6 5h0m12 1h0m23 7h0m5-22h0m8 25h0m25-11h0m3 1h0m1 2h0m10 1h0m0-14h0m12 0h0m17 24h0m4-4h0m6-9h0m8-12h0m1 15h0m69-15h0m5 8h0m12 4h0m12 2h0m9 7h0m5 3h0m24-7h0m20-19h0m172 10h0m43-8h0m54 10h0m68 13h0m8-23h0m4-1h0m10 6h0m39 7h0m-1175 19h0m24 16h0m13-12h0m48 17h0m2-10h0m17 10h0m184-7h0m12-3h0m12-7h0m7 17h0m2-15h0m6 5h0m13-9h0m3 18h0m20-9h0m78 0h0m9 13h0m21-2h0m20-18h0m4 5h0m11-3h0m5 3h0m0-5h0m1 12h0m4-19h0m0 5h0m21 19h0m7-11h0m12 0h0m2 5h0m12 1h0m9 4h0m31-21h0m79 10h0m7-8h0m13-3h0m12 4h0m2 12h0m9-6h0m1 5h0m4-17h0m8 12h0m6-5h0m234 15h0m3-6h0m16 1h0m17-15h0m30 0h0m46 19h0m31-6h0m3-8h0m4-1h0m9 13h0m5 0h0m27-15h0m6 23h0m-1138 7h0m10 1h0m51-2h0m6 1h0m4 1h0m0-2h0m1-1h0m114 10h0m70 8h0m10-15h0m63-3h0m33 23h0m7 1h0m28-13h0m14 1h0m6 11h0m32-16h0m10 18h0m4-10h0m0-14h0m11 21h0m14-24h0m2 15h0m19-10h0m19 10h0m16-12h0m116 1h0m255 18h0m64-6h0m5 9h0m6-20h0m75 4h0m-987 29h0m32 4h0m4 2h0m55-7h0m114-1h0m12 7h0m33 14h0m9-5h0m21-4h0m2 5h0m23-1h0m8-7h0m52-2h0m2 6h0m25-1h0m9-7h0m41 3h0m53-10h0m1 13h0m38 9h0m341-22h0m6 22h0m10-15h0m8-8h0m3 12h0m6-9h0m3 12h0m38-16h0m11 8h0m4 4h0m33 13h0m-964 8h0m107-2h0m59 20h0m7-6h0m1 5h0m12-2h0m8 0h0m54-2h0m18 2h0m19 8h0m5-25h0m7 18h0m6-7h0m4-2h0m9 1h0m12-5h0m6-7h0m1 15h0m3-4h0m27 3h0m5 11h0m18-24h0m3 18h0m8-9h0m9 14h0m11-13h0m4-9h0m2-1h0m7 3h0m13 1h0m14 12h0m7 7h0m6-13h0m7 0h0m7-10h0m7-1h0m5 18h0m14 6h0m354-14h0m23 15h0m-849 29h0m2-22h0m24-1h0m8 5h0m3-7h0m114 13h0m9 5h0m29-14h0m27 18h0m3-21h0m8 5h0m1 18h0m4 4h0m18-2h0m6-12h0m2 1h0m0 6h0m1-7h0m13 10h0m18-23h0m4 7h0m6 20h0m9-2h0m9-12h0m13-9h0m0 6h0m37-7h0m24 6h0m2-7h0m6 0h0m1 5h0m12 5h0m8 5h0m8-4h0m5-9h0m3 19h0m0 0h0m9-18h0m5 1h0m1 13h0m12-10h0m10 15h0m5-11h0m368-8h0m-806 25h0m113 7h0m20 19h0m5-24h0m11 13h0m20 4h0m17 5h0m10 4h0m19-24h0m0 16h0m1 9h0m18-11h0m21 9h0m22-7h0m3-2h0m11-2h0m4-10h0m37 17h0m5-13h0m24 7h0m1-8h0m10-4h0m19 11h0m0 6h0m13-9h0m6 14h0m19-24h0m-261 36h0m73-1h0m0 19h0m39 0h0m5-20h0m12-3h0m10-4h0m9 4h0m38 13h0m1 6h0m18-3h0m33 7h0m-243 18h0m1-10h0m7 15h0m0-10h0m4 6h0m4-15h0m1 9h0m8 1h0m4 1h0m7 7h0m45 7h0m1 1h0m27-12h0m3-6h0m1-5h0m6 8h0m15-10h0m5-3h0m0 8h0m18 14h0m24 1h0m12-19h0m18 19h0m1-5h0m6 1h0m23 2h0m40-5h0m-256 22h0m14 20h0m1-17h0m4-5h0m21 22h0m11-15h0m2 5h0m10-12h0m3-2h0m29 24h0m12-20h0m16-6h0m19-1h0m35 26h0m5 2h0m16-9h0m40-14h0m1 1h0m1 21h0m1-18h0m-215 30h0m43 16h0m2 2h0m7 2h0m5-6h0m11-23h0m8 4h0m25 23h0m23-13h0m19-10h0m-135 51h0m51-2h0m24-12h0m7-1h0m13-10h0m26 3h0m7 9h0m2 13h0m3-11h0m14 13h0m23 1h0m5-15h0m-66 17h0m247 80h0m19-10h0m13 4h0m0-4h0m3 12h0m39-13h0m-67 20h0m53 0h0"/>
<path stroke="#0404fa" stroke-width="11" d="M1623 248h0m36 6h0m8-16h0m2 13h0m2-3h0m0-4h0m4-5h0m9 3h0m-127 37h0m13 2h0m3-20h0m2 18h0m9 5h0m2-4h0m43-23h0m8 10h0m1 16h0m11-4h0m24-23h0m1 24h0m6-5h0m4-12h0m4 14h0m-150 25h0m3 12h0m13-27h0m5 4h0m3 11h0m2-10h0m2 14h0m2-2h0m11-7h0m5-6h0m3-3h0m18 16h0m7-9h0m18 3h0m0 6h0m19-6h0m12 4h0m5-11h0m4-3h0m-142 32h0m1 13h0m-319 161h0m113-25h0m12 1h0m4 9h0m31 0h0m5-11h0m5 19h0m7-3h0m24-18h0m-184 47h0m92 5h0m4-10h0m21 5h0m-90 32h0m1 4h0m353-1h0m-444 27h0m29-10h0m25 12h0m10-1h0m63-15h0m23 1h0m2-5h0m32 28h0m32-14h0m165 1h0m9 5h0m6-5h0m18-4h0m3 14h0m2 0h0m20-13h0m9-1h0m137 13h0m34-3h0m109 5h0m7-4h0m0-1h0m12-4h0m21 0h0m3-2h0m-750 20h0m24 7h0m67 6h0m34 6h0m3-24h0m18-2h0m7 19h0m5-1h0m7-18h0m5 19h0m147-11h0m11 14h0m3-17h0m4-5h0m19 4h0m55-3h0m33 6h0m6 21h0m16 1h0m37-1h0m22-27h0m24 29h0m15-4h0m28 0h0m11-19h0m91 13h0m2-1h0m5 11h0m8-13h0m26 5h0m20-16h0m-786 44h0m1-3h0m3 1h0m25-8h0m4 20h0m54-25h0m96 19h0m3 4h0m10-8h0m5-10h0m11-1h0m3 3h0m104-2h0m9 6h0m8-11h0m1 8h0m9 12h0m3-14h0m21-9h0m6 27h0m12-8h0m43-20h0m57 11h0m7-3h0m16 9h0m13 1h0m2 0h0m17-11h0m12 22h0m9-25h0m1 1h0m23 9h0m7 8h0m2 3h0m6-25h0m16 20h0m77 3h0m13-1h0m4-6h0m1 6h0m7-22h0m21 6h0m5 0h0m4-6h0m11 3h0m22 10h0m-754 26h0m10 10h0m55-5h0m6 5h0m38 5h0m51-19h0m16 15h0m107-3h0m8 2h0m10-18h0m7 8h0m43-4h0m17 15h0m14 6h0m5-4h0m10-1h0m70-22h0m0 14h0m29 0h0m1 14h0m7-16h0m23 3h0m0-11h0m4 0h0m1 6h0m1 9h0m16-2h0m28-15h0m99 4h0m8 5h0m3-4h0m0-1h0m4 15h0m3-8h0m2 10h0m17-3h0m2-12h0m2 6h0m13-3h0m20-10h0m-770 36h0m10-3h0m50 7h0m53-9h0m49 23h0m3-18h0m141 9h0m2-7h0m8 1h0m20 10h0m1-15h0m25 1h0m11 20h0m19-19h0m1-4h0m2 19h0m8-6h0m9-11h0m23 14h0m41-8h0m9 1h0m44-12h0m2 17h0m28 6h0m4-3h0m3-1h0m1-10h0m2 1h0m40 6h0m0-11h0m1-5h0m3 6h0m111 15h0m-426 20h0m7 8h0m7-16h0m0 21h0m43-7h0m2 3h0m118-9h0m3 18h0m82-1h0m26-17h0m15 0h0m-449 45h0m4 3h0m131-2h0m8-20h0m19 15h0m8-1h0m11-20h0m6 14h0m0-4h0m19 12h0m8 0h0m32 2h0m77-4h0m51-21h0m16 4h0m14 2h0m14 10h0m0-10h0m11 20h0m12-13h0m5-5h0m10 3h0m13 4h0m-555 24h0m18 15h0m93-11h0m7-7h0m2 18h0m104 4h0m23-24h0m13 4h0m2 17h0m5-17h0m25-2h0m15 4h0m41-9h0m2 10h0m19-3h0m2 15h0m43-21h0m5 12h0m7-8h0m14 24h0m17-25h0m47 17h0m20-2h0m2 9h0m5-10h0m28-3h0m18-2h0m-1009 39h0m453-12h0m11-10h0m23 0h0m167 25h0m32-21h0m4-2h0m45 24h0m38-18h0m29 18h0m14-10h0m18 5h0m17-16h0m6 1h0m9-3h0m18 8h0m-731 42h0m302-18h0m47-1h0m9 12h0m1 10h0m12-26h0m3 21h0m6-7h0m3-3h0m2-5h0m80 20h0m27-26h0m67 23h0m12-8h0m6-8h0m2 7h0m15-12h0m21 11h0m27 9h0m10 0h0m10 4h0m2-5h0m17-1h0m3-19h0m8 11h0m15 12h0m36-11h0m12-10h0m13 21h0m4 1h0m8-18h0m42 7h0m3-2h0m10 14h0m8-2h0m13-19h0m20 24h0m15 0h0m255-12h0m-1379 36h0m74-13h0m632-6h0m34 6h0m6-10h0m20 5h0m76 18h0m25-4h0m56-13h0m18-1h0m11 2h0m11 16h0m48-16h0m61 22h0m28-16h0m3-6h0m9 13h0m22-6h0m284-5h0m15 1h0m1 1h0m-1449 27h0m715 11h0m41 8h0m8-26h0m3 20h0m8 7h0m36-18h0m35 6h0m4 12h0m8-15h0m32-1h0m26 11h0m13 3h0m17-4h0m18-4h0m26-3h0m7 2h0m2 11h0m6-14h0m18-13h0m25 14h0m35 6h0m56-18h0m281 26h0m-1325 12h0m673-3h0m32 9h0m22 9h0m35-25h0m25 27h0m64-28h0m11 5h0m31 2h0m14-6h0m5 20h0m45-7h0m8-14h0m59 5h0m-387 46h0m0-2h0m16-19h0m3 26h0m9-26h0m24 23h0m42-24h0m215 16h0m1-4h0m28-2h0m302-5h0m85-5h0m-709 36h0m58 21h0m-338 24h0m5 7h0m-142 31h0m18-15h0m31 11h0m2-2h0m12 0h0m0-10h0m4 8h0m0-3h0m3 0h0m5 10h0m11-1h0m2-10h0m6 2h0m17 7h0m0 3h0m2-14h0m3 0h0m1-6h0m9 2h0m7 1h0m0-6h0m4 22h0m3 1h0m3 1h0m3-20h0m2 17h0m3-1h0m6-5h0m-192 37h0m27-18h0m32 4h0m5-7h0m2-5h0m20 1h0m1 4h0m1 0h0m6-1h0m5 18h0m3-5h0m1-16h0m10 13h0m9 13h0m6-7h0m12-2h0m2 2h0m1-1h0m1 7h0m2-13h0m3 5h0m5-1h0m3-4h0m4 12h0m9-1h0m1-2h0m1-6h0m1-4h0m4 8h0m0 2h0m2-11h0m8-10h0m2-2h0m5 6h0m5 17h0m2-5h0m0 7h0m5-1h0m1 4h0m3-9h0m3 3h0m0-5h0m428 0h0m-660 33h0m9-6h0m6 1h0m11-12h0m1 15h0m6-12h0m3 3h0m14 9h0m13 10h0m4-9h0m10-5h0m1-13h0m10 14h0m1-12h0m6 12h0m6 14h0m2-1h0m0-22h0m0 4h0m14 11h0m5 1h0m3 3h0m2 1h0m0-14h0m15-7h0m0 19h0m6-9h0m1 1h0m14-15h0m11 11h0m2 17h0m1-4h0m4-8h0m8 6h0m2 1h0m1-7h0m9 10h0m1-2h0m5-12h0m11-4h0m2 1h0m2 16h0m335-11h0m11 4h0m9 9h0m56-15h0m37 11h0m545 1h0m5 0h0m25-3h0m3 5h0m2-4h0m0-10h0m8 6h0m7 5h0m23 1h0m-1288 10h0m1-4h0m17 0h0m0-1h0m12 15h0m9 0h0m6 12h0m7-22h0m4 9h0m6 4h0m5 10h0m0-17h0m8 7h0m0-9h0m1 1h0m5-5h0m7 4h0m11-10h0m15 20h0m8-8h0m5 1h0m4-1h0m3-10h0m6 17h0m7-12h0m1 8h0m1 13h0m0-7h0m3-3h0m2-17h0m0 2h0m2 4h0m4 10h0m3 0h0m6-15h0m2 0h0m1 16h0m1 5h0m0-16h0m2 22h0m2-7h0m1-6h0m2 4h0m4 8h0m4-13h0m1 4h0m5-7h0m1-10h0m18-2h0m325 1h0m69 8h0m41 9h0m26-16h0m2 19h0m1-7h0m8-7h0m30 5h0m3 2h0m440 2h0m9-2h0m0 8h0m6-16h0m2 8h0m1-4h0m3 6h0m9 2h0m7-15h0m1 2h0m9 6h0m2 10h0m0-4h0m2 7h0m7-23h0m5 28h0m17-16h0m11-2h0m9 0h0m3-11h0m5 19h0m2 3h0m1-19h0m7 13h0m4-10h0m0 8h0m11-1h0m7-11h0m20 15h0m-1466 40h0m19-3h0m31 1h0m52 4h0m2-1h0m6 0h0m13-22h0m22 1h0m7 11h0m5-11h0m6 21h0m5-22h0m5 20h0m5-4h0m44-20h0m4-1h0m4 24h0m9-13h0m15 15h0m0-2h0m2 0h0m4-16h0m1 17h0m1-14h0m12 6h0m11 6h0m26 1h0m1-6h0m15 8h0m1 0h0m2-11h0m3-2h0m35-5h0m5 20h0m44-6h0m10-5h0m47-12h0m25-2h0m31 8h0m2 14h0m137 2h0m104-26h0m55 28h0m95-4h0m387-21h0m4 9h0m14-7h0m1-1h0m0 2h0m1 2h0m1 5h0m1 8h0m8-6h0m1-7h0m6 16h0m1-13h0m4 14h0m1-5h0m2 2h0m5 0h0m7-8h0m2 5h0m5 8h0m1-11h0m1 4h0m1-5h0m5 3h0m19 3h0m4-9h0m0-3h0m7 18h0m2-20h0m4-3h0m1-3h0m4 14h0m7-16h0m8 4h0m-1492 52h0m4 0h0m3 0h0m6-3h0m4-1h0m0 4h0m0-13h0m16 12h0m6-7h0m10 0h0m3 4h0m0-16h0m2 22h0m1-2h0m1-23h0m1 10h0m28-3h0m3 18h0m11-19h0m9 13h0m26-2h0m5 4h0m13-4h0m9-17h0m25-1h0m7-3h0m20 3h0m2 7h0m5-8h0m0 16h0m2-11h0m9 6h0m3 8h0m22-8h0m16-11h0m3 3h0m9 13h0m13-17h0m8 18h0m7-7h0m17 7h0m3 6h0m7-24h0m5 12h0m2 5h0m1-6h0m2-1h0m1 18h0m6-4h0m3-8h0m10 9h0m0-22h0m0 19h0m4 0h0m2 7h0m9-18h0m2 6h0m2-11h0m3 0h0m0 6h0m3-12h0m6 20h0m1 5h0m0 2h0m2-11h0m16 1h0m6-5h0m49-1h0m14 8h0m68-14h0m178 9h0m1 6h0m12-3h0m18-18h0m18 18h0m70 11h0m15-20h0m4 14h0m65-10h0m33-4h0m24 21h0m403-28h0m6 20h0m2-3h0m3-6h0m0-7h0m1 13h0m5 0h0m9-14h0m6 1h0m13-6h0m12 3h0m-1474 54h0m10-13h0m1 5h0m17-13h0m1 10h0m14-14h0m1-1h0m18 27h0m4-10h0m3 6h0m1 4h0m24 1h0m11-14h0m8 2h0m3 2h0m13-12h0m10-6h0m12 3h0m10 0h0m7-1h0m3 10h0m0 12h0m13 2h0m0-2h0m3 0h0m1-17h0m3 16h0m17-6h0m1 9h0m2 0h0m9-15h0m2 6h0m10-15h0m0 14h0m13-14h0m6 1h0m2 26h0m12-18h0m3 0h0m2 6h0m2-10h0m1 20h0m4-9h0m10-8h0m12 14h0m2 2h0m12-5h0m13 0h0m24-7h0m11 2h0m5 7h0m5-21h0m25 8h0m2 15h0m3-17h0m3 6h0m1-7h0m5-5h0m6-1h0m39 0h0m11 4h0m191 3h0m36 6h0m11 1h0m66-9h0m31 22h0m13-12h0m58 5h0m10-10h0m10-3h0m20 0h0m34 16h0m10-2h0m21-17h0m135 21h0m17-5h0m-1151 13h0m2-4h0m1 3h0m1 15h0m16-14h0m10-4h0m1 15h0m3 10h0m17-26h0m23 18h0m4-10h0m12 21h0m1 1h0m1-16h0m2-4h0m1 0h0m2-5h0m6 19h0m4-15h0m1 16h0m5 2h0m1-15h0m7 2h0m1 1h0m2 13h0m3-6h0m2 4h0m3-24h0m6 10h0m1 6h0m1 6h0m11-11h0m52 5h0m1-13h0m8 11h0m16-10h0m27 1h0m1 21h0m2-21h0m2 17h0m5-8h0m3 1h0m28-1h0m11-2h0m3-14h0m11 2h0m3 27h0m17-28h0m6 19h0m6-8h0m2-9h0m3 1h0m12 18h0m2-6h0m5 11h0m9-19h0m15-1h0m5 21h0m8-19h0m8 8h0m1 1h0m2-8h0m41 2h0m36 15h0m30-23h0m225 26h0m111-13h0m0-16h0m115 17h0m13-18h0m3 14h0m5 8h0m12-19h0m9 4h0m14 14h0m11-14h0m3 8h0m20 8h0m12-19h0m27 1h0m2 14h0m17-11h0m7-4h0m8-1h0m16 11h0m9-6h0m3 3h0m9 5h0m8-10h0m4 10h0m9 12h0m12-20h0m14 19h0m20-22h0m2 24h0m-1217 19h0m3-3h0m0-12h0m7 0h0m3 25h0m6-26h0m4 10h0m0-1h0m23 6h0m7-1h0m2 4h0m7-12h0m5 11h0m0-17h0m12 15h0m7-1h0m1-9h0m8 12h0m6-16h0m8 17h0m4-5h0m2 5h0m1-9h0m6 2h0m7-11h0m3 1h0m29 16h0m5-9h0m27-9h0m24 24h0m9-7h0m7 10h0m8-5h0m5-5h0m2 12h0m10-9h0m7-7h0m4 9h0m5-21h0m23 8h0m24 13h0m0-5h0m4-6h0m1-5h0m0-5h0m2 17h0m5-16h0m13 7h0m25-1h0m4 19h0m2-21h0m4 2h0m11 2h0m1 6h0m1-10h0m19-7h0m10 29h0m1-17h0m15 18h0m20-12h0m4 3h0m5-5h0m30 8h0m101-16h0m126 11h0m15 6h0m73-21h0m42 8h0m9-2h0m4-7h0m3 19h0m7-6h0m42 4h0m10 6h0m11-23h0m41 9h0m38 8h0m1 9h0m5-10h0m7-15h0m9 17h0m9-8h0m1 11h0m2-17h0m8 18h0m1-15h0m14-5h0m51 16h0m5-21h0m19 6h0m6 6h0m7-5h0m26 3h0m6 10h0m6 0h0m9-19h0m19 19h0m6 6h0m4-7h0m12-11h0m-1468 44h0m5-9h0m7 16h0m8-18h0m3 12h0m3-9h0m1-1h0m1 2h0m202-10h0m14-1h0m20 13h0m33 2h0m9-18h0m8 15h0m3-6h0m3 6h0m0-3h0m6-7h0m20 23h0m3-8h0m3 3h0m3 4h0m1-21h0m1 18h0m0-18h0m5-7h0m9 29h0m15-10h0m4-4h0m1 8h0m1-11h0m15 11h0m4 7h0m14-22h0m2 0h0m2-5h0m0 1h0m3 21h0m1-14h0m23-1h0m40 6h0m4-9h0m3 0h0m8 14h0m2 9h0m5-9h0m4 4h0m3-7h0m1-6h0m2-1h0m6 5h0m37 11h0m41 0h0m17-20h0m3 6h0m7 15h0m17 1h0m26-1h0m21-8h0m2 4h0m32 0h0m144-17h0m4 1h0m100 12h0m32-3h0m54 1h0m25-13h0m60 20h0m9-8h0m17 3h0m4 0h0m1-7h0m48 1h0m21-5h0m26-5h0m8 21h0m4-7h0m14-18h0m1 11h0m7 10h0m3 5h0m8-11h0m5-13h0m8 12h0m4-11h0m3 19h0m6 0h0m2-3h0m31-16h0m2 20h0m12 2h0m33-1h0m28-3h0m8 8h0m10-15h0m10 5h0m3-1h0m-1497 30h0m2-13h0m13 2h0m1 19h0m0-5h0m3-8h0m2 10h0m6-11h0m11-3h0m3 6h0m3-10h0m2-5h0m5 20h0m1-8h0m0-8h0m230-1h0m9 11h0m0 5h0m6-4h0m7-12h0m10 12h0m9-3h0m12 5h0m2 2h0m1 5h0m8-16h0m8 6h0m3 6h0m4-19h0m0 8h0m2-9h0m9 4h0m4 23h0m4-20h0m2 14h0m1-18h0m15 25h0m1-27h0m11 8h0m13 2h0m7 7h0m11-12h0m11-1h0m3 7h0m1 11h0m7-15h0m5 21h0m0-1h0m0-28h0m6 6h0m1 3h0m2 10h0m3-9h0m3 5h0m1-8h0m6 5h0m28 10h0m5 8h0m4-29h0m4 7h0m2 12h0m3 7h0m6-16h0m12 15h0m0-10h0m1-1h0m10 0h0m13-4h0m12-8h0m2 22h0m1-6h0m5 6h0m1-21h0m12 16h0m0 4h0m3-22h0m1 24h0m1-15h0m7 14h0m0-25h0m5 3h0m4 2h0m1 6h0m3 3h0m2 13h0m4-14h0m4-7h0m13 9h0m3 5h0m2-13h0m1 18h0m1-5h0m7-6h0m13 14h0m5 2h0m10-12h0m30 5h0m127-18h0m10 20h0m49-24h0m17 17h0m161 9h0m51-22h0m56-2h0m21 3h0m1 3h0m16-3h0m13 15h0m2-13h0m7 0h0m8 21h0m0-21h0m6 5h0m34-8h0m3 8h0m46 16h0m6-10h0m4-18h0m0 14h0m7 4h0m0 8h0m8-7h0m12-2h0m5-5h0m4-1h0m23 17h0m4-9h0m8-8h0m6 4h0m5-5h0m3 2h0m6-11h0m2 12h0m0 15h0m2-12h0m10-12h0m15 19h0m237-9h0m39 12h0m-1764 23h0m10 3h0m0-3h0m7-7h0m7 11h0m4-8h0m11-14h0m3 7h0m4 0h0m9-3h0m9 7h0m1 7h0m0-17h0m221 25h0m4-8h0m1-9h0m7-6h0m1-3h0m3 26h0m2-27h0m7 25h0m2-19h0m4 1h0m3 7h0m6-12h0m9 27h0m4-14h0m3 8h0m6-9h0m3-2h0m6 15h0m2-3h0m3-6h0m10-13h0m4 9h0m5 0h0m5 1h0m14-9h0m20 1h0m9-7h0m34 0h0m9-1h0m4 28h0m0-25h0m17 13h0m8-12h0m7 0h0m5 5h0m11-1h0m11 20h0m4-4h0m7-21h0m3 17h0m50-17h0m4 7h0m38-1h0m2 7h0m9 1h0m2 11h0m5-4h0m4-2h0m0-5h0m7-16h0m1 28h0m21-12h0m9-4h0m4 8h0m2-8h0m5 7h0m15-12h0m64 9h0m27-14h0m14 24h0m13-3h0m8-22h0m184 2h0m54 1h0m41 19h0m62-18h0m7 19h0m28-20h0m26 0h0m9 6h0m14 11h0m7-19h0m5 10h0m14-2h0m7 0h0m10-3h0m0 1h0m12-1h0m5 8h0m0 4h0m4-15h0m6 14h0m1-16h0m4 12h0m2-8h0m6 16h0m6-15h0m5 0h0m44-1h0m21 21h0m7-25h0m3 6h0m19 0h0m10 1h0m162 10h0m33 4h0m14-3h0m15-9h0m19-9h0m27 3h0m3-1h0m3-1h0m10 12h0m2 8h0m8-13h0m7 2h0m28 12h0m15-2h0m-1802 19h0m4 6h0m1 4h0m17 0h0m6-3h0m9 7h0m10-26h0m2 3h0m6 9h0m1 10h0m2 2h0m4 6h0m2-1h0m0-5h0m12 3h0m172-22h0m12 14h0m5-14h0m1 6h0m2-7h0m5 18h0m2-16h0m2 4h0m0 10h0m3-15h0m0 15h0m3-13h0m5 22h0m0-28h0m5 19h0m0 1h0m1-19h0m16 14h0m46 13h0m2-26h0m11 24h0m3-26h0m19 17h0m3-16h0m2 20h0m9-1h0m3-1h0m14 1h0m16-18h0m4 23h0m24-10h0m8 10h0m23 1h0m3-10h0m7 4h0m4-20h0m1 12h0m4 5h0m2-5h0m3-10h0m7 22h0m13-2h0m15-18h0m5 3h0m6 17h0m18-12h0m3-7h0m1 16h0m3-10h0m2 4h0m19-9h0m5 23h0m36-18h0m1 3h0m35 12h0m213-6h0m77-14h0m35-4h0m37 16h0m8 7h0m26-5h0m38-16h0m36 24h0m2-2h0m6-14h0m16 5h0m16 6h0m10-6h0m30 6h0m6 5h0m4-2h0m2-11h0m9 8h0m4-14h0m5 9h0m18-15h0m4 19h0m2-13h0m9 0h0m0-4h0m38-5h0m1 3h0m8 14h0m12-4h0m46-7h0m0 10h0m5 3h0m0-11h0m30 20h0m9-18h0m4 8h0m175-3h0m42-13h0m1 16h0m14-12h0m19 10h0m36 11h0m5-1h0m27-26h0m0 20h0m37-4h0m-1802 23h0m2 9h0m15 7h0m4-9h0m3-11h0m0 8h0m3-2h0m4-8h0m12 0h0m1 2h0m3 20h0m3-7h0m2-16h0m7 25h0m1-24h0m1 17h0m3 2h0m1-12h0m7 3h0m173-3h0m2 13h0m13 1h0m29-23h0m5 12h0m4-12h0m1 27h0m14-1h0m9-7h0m5-5h0m4-13h0m2 14h0m3-8h0m1 6h0m3 14h0m16-16h0m3 16h0m1-6h0m5 2h0m2-8h0m1-7h0m10-2h0m2 6h0m9-3h0m5 5h0m2-10h0m6-1h0m5-4h0m13 6h0m9-3h0m24 15h0m37-7h0m1 0h0m1 14h0m9-3h0m3-8h0m3 4h0m1-1h0m3-1h0m1 0h0m15 8h0m8 0h0m8-6h0m3-9h0m2-7h0m1 16h0m3-13h0m5 22h0m23-20h0m5 19h0m4-10h0m6 4h0m0-7h0m1-6h0m1-6h0m2 3h0m3 15h0m10-4h0m21-3h0m306 1h0m25 14h0m49-23h0m16 7h0m22-9h0m35 1h0m18 0h0m13 5h0m23-8h0m34 6h0m52 1h0m10 1h0m5-7h0m10-2h0m21 15h0m20 15h0m5-14h0m28-2h0m12-2h0m32-12h0m1 27h0m10-8h0m10-17h0m9 18h0m12-12h0m8 17h0m7-2h0m154-4h0m15-5h0m15 8h0m56-12h0m2-4h0m16 5h0m3-4h0m10 1h0m7-1h0m7-4h0m45 15h0m12 0h0m28 4h0m5-6h0m10 7h0m-1788 20h0m12 8h0m3-15h0m17-1h0m7 19h0m1-3h0m2-20h0m0 8h0m3 14h0m3 3h0m0-11h0m1 6h0m5-3h0m194-16h0m32-2h0m10 18h0m4-1h0m0-15h0m4 4h0m9 9h0m16 4h0m3 11h0m22-14h0m5 13h0m11-19h0m8 10h0m14 6h0m9-12h0m27 5h0m8-15h0m9 0h0m13 9h0m2-3h0m7 5h0m0 9h0m6-13h0m5 0h0m5 15h0m20-13h0m2 6h0m2-16h0m0 25h0m7-2h0m20 0h0m12-23h0m1 24h0m0-4h0m4-11h0m2-6h0m9 5h0m39 7h0m357-17h0m87 19h0m65-12h0m4 9h0m51-9h0m5 1h0m11 6h0m11 5h0m23-3h0m11-10h0m8 5h0m24-3h0m9-2h0m38 8h0m29 5h0m18 4h0m12 5h0m4-13h0m19-5h0m5-3h0m103-4h0m56 22h0m5-1h0m2-17h0m26 21h0m6-25h0m28 17h0m16-7h0m36-2h0m17 3h0m0 12h0m117-17h0m-1787 21h0m4 0h0m25 1h0m9 14h0m3-2h0m218 5h0m7 6h0m3-5h0m2-14h0m2-4h0m1 9h0m1 17h0m0-23h0m10 9h0m17 5h0m4 5h0m28-9h0m3 1h0m2 1h0m1-11h0m0 10h0m1-8h0m2-4h0m8 17h0m1-19h0m3 20h0m28-19h0m0 19h0m1-5h0m3-14h0m18 1h0m25 14h0m17 5h0m5-17h0m6 8h0m1-8h0m6 5h0m24 7h0m14 7h0m3-11h0m5-2h0m2 7h0m2-7h0m2 12h0m7-17h0m21-2h0m7 13h0m3 4h0m0-16h0m12 17h0m6 0h0m466-5h0m19 4h0m22-12h0m2-8h0m1 8h0m13-7h0m50 11h0m8 5h0m25-6h0m5-1h0m3 11h0m14-20h0m0 9h0m21-12h0m36 9h0m24-1h0m5 19h0m31-18h0m4 2h0m11-5h0m21 4h0m181-3h0m57 16h0m14 1h0m18-14h0m116 2h0m2 5h0m24-3h0m-1509 21h0m6 21h0m10-18h0m7 0h0m9 7h0m22-12h0m2 0h0m36-2h0m20 7h0m4-4h0m15 8h0m9 10h0m2 1h0m5-18h0m18 13h0m9-12h0m15 1h0m536 13h0m11 0h0m182-19h0m32 20h0m6-19h0m0 7h0m50 14h0m1 0h0m7-21h0m8 26h0m27-10h0m8 5h0m22-13h0m203 4h0m4 9h0m3-2h0m14-8h0m3-3h0m42 7h0m9-12h0m33 9h0m14-4h0m22 17h0m46 2h0m10-18h0m6-5h0m18 4h0m-1517 25h0m18-4h0m725 29h0m244-13h0m7-4h0m5 2h0m19 7h0m2 7h0m2-16h0m6-4h0m1 16h0m5-9h0m5-5h0m6-9h0m13 4h0m4 2h0m296-1h0m8 3h0m0 5h0m9 9h0m9-4h0m8-17h0m1 18h0m5-19h0m9 15h0m1-16h0m4 24h0m21-20h0m10 4h0m1-2h0m17 15h0m-676 20h0m218-3h0m11 11h0m1 2h0m189 5h0m27-2h0m2-1h0m5-1h0m12 2h0m-738 30h0m54-4h0m25 2h0m3 6h0m9-22h0m7 7h0m1-6h0m1 18h0m3-4h0m3 8h0m2-4h0m3-13h0m13 16h0m28-3h0m10 2h0m77-16h0m1-3h0m0 7h0m10 10h0m5-11h0m4 7h0m1 3h0m5 3h0m8-27h0m44 27h0m334 0h0m54-16h0m6 12h0m2-13h0m0-7h0m10 17h0m8-1h0m4 6h0m2-16h0m8 5h0m1 10h0m0-18h0m-786 45h0m14 2h0m2 5h0m22-6h0m6-5h0m1-12h0m25 11h0m5-5h0m0 5h0m15-7h0m3 13h0m0-14h0m12-7h0m8 21h0m1-19h0m5 26h0m13-20h0m14 15h0m14-1h0m0-7h0m0-10h0m4-1h0m0 0h0m12-2h0m9 17h0m1-9h0m1-12h0m5 4h0m5-3h0m2 10h0m2 3h0m0 1h0m3 10h0m1-11h0m10 0h0m22-6h0m13 1h0m13 9h0m1 0h0m5 0h0m27 11h0m0-24h0m4 13h0m16-2h0m7 7h0m2-2h0m1-13h0m0 1h0m3 3h0m1 4h0m3 7h0m3 4h0m4-13h0m2 13h0m2-14h0m1 16h0m1-9h0m4-5h0m5 14h0m2-28h0m2 2h0m2 1h0m244-1h0m6 7h0m71 4h0m4 2h0m4-1h0m14 8h0m1 0h0m9 6h0m1-22h0m9 4h0m11 3h0m2 11h0m1-8h0m14 8h0m8-14h0m6 0h0m15 8h0m-1213 33h0m16-4h0m1-3h0m363 15h0m5-3h0m8-22h0m4 24h0m0-18h0m7-3h0m0 5h0m35-10h0m3 23h0m3 0h0m8-24h0m3 10h0m0 9h0m1-8h0m0 9h0m14-10h0m4-8h0m0-3h0m6-1h0m4 23h0m2-3h0m2 2h0m2-6h0m1 2h0m3 3h0m1-16h0m6 23h0m1-26h0m5 13h0m10-2h0m4 5h0m3-6h0m1-9h0m3 12h0m1-11h0m13 15h0m3-1h0m1 6h0m2-23h0m12 16h0m1 11h0m4-23h0m8 13h0m11 0h0m2-3h0m4 2h0m2-12h0m0 18h0m8-16h0m1 3h0m4-10h0m0 5h0m1 23h0m11 2h0m5-11h0m6 10h0m3-12h0m1-13h0m19 15h0m18 8h0m27-2h0m1 2h0m1-10h0m1 8h0m1 4h0m3-1h0m2-9h0m2-6h0m19-5h0m2 0h0m10 8h0m1-9h0m3 6h0m5-8h0m4 15h0m0-9h0m4 7h0m5-8h0m0-3h0m2 11h0m1-17h0m0 21h0m0-11h0m5-2h0m7 7h0m3 5h0m0-2h0m1-5h0m2 4h0m3-9h0m2 5h0m0-7h0m2 13h0m13 2h0m0 1h0m1-6h0m7-12h0m6 19h0m1 6h0m1-11h0m185-7h0m19 12h0m10-19h0m10-2h0m1 23h0m5-5h0m9-2h0m2 6h0m9-7h0m0-2h0m8 13h0m16 1h0m7-15h0m13 7h0m4 0h0m0-21h0m5-1h0m10 2h0m5 3h0m5 14h0m3-13h0m9 24h0m3-30h0m5 19h0m5-2h0m1-3h0m1 14h0m26-6h0m41 6h0m-1261 8h0m16 12h0m8 10h0m0-24h0m1 11h0m4-5h0m4 11h0m2-4h0m0 8h0m7-10h0m0 5h0m2-3h0m8 5h0m1 7h0m3-7h0m0-11h0m21-7h0m5 26h0m4-21h0m3 6h0m4 8h0m3-21h0m310 10h0m10 3h0m3-11h0m1 15h0m1-3h0m2 12h0m6-8h0m6 9h0m0-19h0m1 16h0m4 2h0m1-10h0m2 7h0m3 2h0m10-19h0m4 18h0m42-4h0m3-7h0m1 7h0m1-13h0m1 8h0m8 5h0m0-8h0m9-8h0m9 20h0m9-11h0m4-3h0m1 17h0m1-24h0m1 12h0m1 10h0m1 1h0m3-7h0m9 6h0m4-13h0m24 12h0m4 2h0m0-21h0m10-3h0m3 25h0m2-1h0m1-26h0m1 12h0m0 1h0m14-7h0m10-2h0m0 14h0m5-14h0m4 20h0m3-8h0m3-11h0m1-2h0m2 9h0m6 13h0m8-1h0m21 2h0m4-18h0m5-2h0m3 8h0m2-3h0m0 4h0m6-9h0m3 6h0m0-9h0m10-5h0m9 10h0m1-8h0m0 7h0m5-8h0m1 14h0m28 4h0m3 5h0m1-3h0m2-14h0m1 15h0m5-14h0m3-6h0m4-1h0m1 0h0m0 28h0m2-24h0m4 12h0m2-16h0m0 21h0m2-14h0m0 11h0m1-13h0m4 22h0m4 0h0m2 0h0m1-9h0m4 2h0m2-9h0m10 7h0m6-5h0m0 1h0m2-1h0m3 4h0m0-16h0m3 2h0m9-1h0m142 9h0m21 8h0m6-2h0m9 11h0m16-16h0m5 13h0m23-2h0m57-16h0m25 0h0m11 15h0m19 6h0m0-22h0m13 19h0m13-24h0m39 14h0m0-10h0m-1255 26h0m13 7h0m6-7h0m2 7h0m2 5h0m10 7h0m10-7h0m5-3h0m6 11h0m9-11h0m1-5h0m0-4h0m2 13h0m0 5h0m26-7h0m3 1h0m1 6h0m10-12h0m13 13h0m8-8h0m16 4h0m3 6h0m133-7h0m76-1h0m1-13h0m2 20h0m13-19h0m2 3h0m2-5h0m8 5h0m0-2h0m5-1h0m5 20h0m14 0h0m24-22h0m11 22h0m18-11h0m8 11h0m7-13h0m2 1h0m15 12h0m2-14h0m7-5h0m0 25h0m7-18h0m8 10h0m7-10h0m6 8h0m1 7h0m12-25h0m9 19h0m5-11h0m3 9h0m4-8h0m7 9h0m4-13h0m5 24h0m13-29h0m14 20h0m5-18h0m4 24h0m0-4h0m7-19h0m1 16h0m0-2h0m1-6h0m2-1h0m2-9h0m9 18h0m2 3h0m5-11h0m0 10h0m5-13h0m7 16h0m0-23h0m1 1h0m16 1h0m1 14h0m5-17h0m5 10h0m17-3h0m9-2h0m1 3h0m42-3h0m2-1h0m1 17h0m2-18h0m4 21h0m0-15h0m11 5h0m0-5h0m0-6h0m2 11h0m0-7h0m8 3h0m0 4h0m3 11h0m20-8h0m2 7h0m1-8h0m0-5h0m2 13h0m1 3h0m1-7h0m1-11h0m3 15h0m0-6h0m237-14h0m6 8h0m4-2h0m5-6h0m11 3h0m6 14h0m5 5h0m7 2h0m53-17h0m17-10h0m1 11h0m8 3h0m12 0h0m0 8h0m6 0h0m3-12h0m5-6h0m23 18h0m7-24h0m6 20h0m1 0h0m6-17h0m19 1h0m4 5h0m-1229 26h0m22 6h0m2-5h0m4 13h0m4 4h0m4-17h0m8 22h0m24-4h0m0-21h0m7 17h0m2 7h0m3 3h0m13-15h0m9-3h0m3-4h0m3 15h0m2-18h0m3 16h0m38 1h0m2 3h0m0 1h0m147-20h0m29 11h0m6-13h0m0 23h0m4 1h0m1-20h0m2 20h0m6-8h0m1 6h0m8-9h0m11 3h0m4-18h0m5 1h0m8 13h0m13-9h0m11 10h0m6-4h0m0 7h0m15 4h0m2 1h0m7-22h0m6-2h0m0 9h0m2 9h0m7 3h0m1-15h0m1 0h0m1 14h0m4-11h0m3-3h0m1 15h0m0 1h0m32-10h0m16-13h0m1 4h0m5 19h0m1-18h0m8 5h0m1 20h0m0-2h0m1-6h0m5-4h0m8 2h0m4 6h0m1-25h0m24 15h0m6 7h0m1-1h0m6-20h0m3 25h0m1-1h0m21-5h0m27 7h0m4-4h0m3-9h0m2-7h0m2 10h0m1-11h0m0 13h0m0-13h0m8 14h0m3-6h0m2 12h0m7-21h0m4 7h0m0-2h0m1 14h0m0 4h0m0-2h0m3 0h0m2-15h0m20-7h0m5 15h0m9-8h0m8-5h0m2 7h0m5-4h0m4 19h0m4-29h0m7 18h0m13-14h0m4 1h0m4 16h0m12-5h0m5-15h0m199 19h0m5-2h0m14 6h0m7-10h0m31-7h0m4-4h0m36 12h0m39 11h0m24-21h0m2 22h0m13-9h0m15 8h0m3-13h0m11-10h0m1 9h0m7 7h0m10 3h0m9 5h0m2-16h0m12 1h0m7-11h0m-1156 34h0m11-4h0m2 2h0m20 7h0m5-9h0m26 5h0m12 2h0m6-5h0m52 21h0m10-4h0m0-7h0m3 11h0m16 3h0m22-20h0m11 2h0m16 6h0m46 12h0m26-7h0m19-18h0m17 9h0m3 15h0m1 2h0m3-4h0m6-2h0m0 3h0m7-25h0m7 18h0m4-11h0m2-1h0m2 14h0m6-9h0m5 14h0m2-13h0m7-5h0m8 3h0m7 9h0m32 9h0m6-17h0m10 2h0m8 7h0m1-17h0m1 8h0m0-1h0m2 5h0m1-5h0m3-2h0m2 0h0m0 11h0m2 2h0m1 0h0m4-21h0m4 20h0m5 2h0m6-15h0m4 13h0m2 10h0m6-13h0m3-4h0m3 3h0m8-9h0m2 6h0m4-7h0m1 7h0m8 3h0m2 1h0m0-16h0m1 11h0m37 2h0m12 6h0m4-1h0m9 0h0m3-9h0m2 14h0m6-8h0m2 8h0m3-22h0m2 12h0m9-13h0m0 0h0m6 26h0m1-24h0m32 1h0m253 19h0m5 3h0m5-14h0m4-1h0m3 2h0m12 13h0m12-1h0m23-23h0m1 19h0m5 8h0m50-11h0m11-14h0m4-4h0m5 24h0m5-2h0m14 0h0m4 3h0m4-4h0m30 5h0m32-16h0m1-6h0m-1016 55h0m12-27h0m5 18h0m4-7h0m1 4h0m6-13h0m6 15h0m5 8h0m3-2h0m1-11h0m17 14h0m3-24h0m2 1h0m4 17h0m7-18h0m8 26h0m69-10h0m1-10h0m0-3h0m8 0h0m12 15h0m0-3h0m0-16h0m0 22h0m5 1h0m6 2h0m8-1h0m3-9h0m12 7h0m4-2h0m3 4h0m2-25h0m12-1h0m2-1h0m1 23h0m0-21h0m5 23h0m10-7h0m1-13h0m6 21h0m1-23h0m1 0h0m4 22h0m5-13h0m4-1h0m15 3h0m1-7h0m5 14h0m4-11h0m4-2h0m3 11h0m1-2h0m4 10h0m1-1h0m20 2h0m7-12h0m7-2h0m2-5h0m11 3h0m2-7h0m0 6h0m1 8h0m4-5h0m0-11h0m1 16h0m0 1h0m5-10h0m1 15h0m11-1h0m10-14h0m1-7h0m3 5h0m6 6h0m9 8h0m22 8h0m22-22h0m0 20h0m3-16h0m6-7h0m2 25h0m19-21h0m3 20h0m3 1h0m5-8h0m1-8h0m10 14h0m1-4h0m296-19h0m3-1h0m30-1h0m5 23h0m4 0h0m8-8h0m1-10h0m4 11h0m4 10h0m15-18h0m5 6h0m13-4h0m11-5h0m32 1h0m14 5h0m3-1h0m1 12h0m4-14h0m2 10h0m14-11h0m3-3h0m4 14h0m-982 22h0m7 12h0m5 0h0m19-2h0m17 5h0m0 1h0m24-4h0m2 3h0m10-17h0m12-10h0m76 21h0m0 3h0m8-25h0m25 27h0m1-15h0m3 12h0m5-2h0m4 3h0m1-1h0m1-6h0m14 1h0m5-1h0m5 3h0m1 4h0m11 0h0m16-19h0m10 11h0m7 7h0m15-22h0m1 7h0m3 6h0m0 2h0m2-15h0m5 18h0m2-8h0m10 6h0m2-2h0m17 0h0m1-3h0m4-7h0m2 7h0m7 3h0m2-3h0m12-10h0m3 22h0m9-24h0m7 8h0m5 20h0m2-21h0m1 18h0m10-15h0m1-7h0m3 8h0m9-6h0m11 20h0m2-10h0m4-16h0m6 5h0m2 17h0m11 6h0m4-1h0m3-5h0m15 0h0m6-7h0m2 14h0m1-19h0m361-8h0m3-1h0m14 17h0m17 8h0m6-25h0m14 18h0m6 5h0m3-11h0m-883 30h0m9-1h0m12-10h0m124 19h0m0-17h0m27 15h0m3-3h0m0-7h0m1 1h0m4 8h0m2-11h0m21 19h0m12-19h0m4 19h0m2-21h0m10-1h0m15 7h0m1 5h0m17 6h0m2-8h0m0-11h0m1-3h0m19 2h0m10 1h0m3 23h0m20-12h0m4 7h0m1-17h0m15 3h0m4-5h0m4 10h0m6 6h0m1 7h0m2-1h0m3-8h0m1-15h0m8 21h0m5-13h0m0-2h0m6-2h0m18 0h0m4 12h0m0-1h0m9-5h0m1-1h0m2-9h0m5 28h0m6-10h0m1-18h0m1 13h0m4 15h0m2-3h0m7-16h0m13 15h0m3-15h0m4 3h0m2 5h0m7-4h0m3-3h0m1 3h0m3-1h0m381-6h0m-705 39h0m6-3h0m1-1h0m8 1h0m2-11h0m9 9h0m25 10h0m4-2h0m1 6h0m2-22h0m12 9h0m4-6h0m26 13h0m4-16h0m5 12h0m0 3h0m20-4h0m16-13h0m1 9h0m1 19h0m4-3h0m6-11h0m1 0h0m3-12h0m5 11h0m5-11h0m4 3h0m29 15h0m13-4h0m6 7h0m4-3h0m10-5h0m6 12h0m2 0h0m0-18h0m0-7h0m11 25h0m2-1h0m4-13h0m4 8h0m3-17h0m5-3h0m8 17h0m1-14h0m3 14h0m10-9h0m11 2h0m5 1h0m5 8h0m3-14h0m8 8h0m3-12h0m-317 32h0m23 1h0m1 22h0m28-25h0m0 26h0m4-2h0m9-24h0m1 23h0m17-15h0m2 17h0m22-11h0m4-17h0m7 14h0m4-2h0m8 7h0m5-3h0m2 13h0m10-20h0m3-7h0m2 24h0m3-3h0m17 4h0m2-7h0m37-4h0m0 12h0m6-9h0m4-6h0m3-12h0m6-1h0m13 21h0m2-5h0m8 1h0m3 5h0m16-10h0m1 1h0m9 0h0m33-13h0m-291 37h0m6 6h0m5 4h0m8 0h0m4 11h0m4-14h0m14-2h0m9 14h0m7-20h0m0 9h0m3 13h0m5-2h0m7-23h0m0 14h0m10-13h0m0 4h0m8 9h0m7-8h0m14-3h0m7 21h0m1 2h0m4-20h0m1 19h0m3-1h0m19-16h0m5-9h0m20 17h0m21 6h0m4-17h0m4-4h0m1 2h0m7-3h0m11 10h0m17 9h0m4-1h0m13-19h0m9 17h0m12-18h0m12 16h0m1 5h0m1-1h0m2 1h0m-273 10h0m5 9h0m13 7h0m4-15h0m2 10h0m8 2h0m9 11h0m5-26h0m5 14h0m4 1h0m6 14h0m8-13h0m9 6h0m7-4h0m4-3h0m0 7h0m15 6h0m5-22h0m0 20h0m12-2h0m1-4h0m1-10h0m1-5h0m17-3h0m2 11h0m10 14h0m15-17h0m14 16h0m5-5h0m3-4h0m2-15h0m1 8h0m19 7h0m1 0h0m0 6h0m2-10h0m7 7h0m0 7h0m1-5h0m1-12h0m6 1h0m10 1h0m0-4h0m6 19h0m10-6h0m5-5h0m1-10h0m1-3h0m4-2h0m3 9h0m1-9h0m-237 42h0m7 13h0m0-21h0m3-3h0m5 21h0m6-17h0m10 0h0m8 7h0m18 4h0m9-15h0m8 20h0m15 3h0m1-2h0m5-2h0m3-7h0m1-3h0m4-9h0m3 9h0m5-6h0m6 5h0m2 9h0m5-4h0m1-7h0m6 0h0m8 11h0m8-3h0m1-12h0m3-3h0m2 13h0m1-7h0m6-1h0m15-5h0m1 0h0m4 24h0m2 4h0m8-10h0m5-2h0m5 12h0m8-5h0m-206 10h0m11 14h0m2 1h0m14 7h0m44-18h0m2 8h0m1 3h0m1 4h0m4-17h0m2 1h0m8 2h0m0 4h0m5-7h0m1-3h0m8 26h0m18-23h0m0 12h0m1 0h0m3-2h0m4 12h0m1-24h0m3-4h0m3 21h0m2-20h0m7 13h0m1-7h0m1 17h0m3-22h0m7 0h0m1 16h0m4 1h0m1 7h0m1-16h0m6 6h0m32-12h0m21 14h0m-114 15h0m27 6h0m0-7h0m3 5h0m33-6h0m185 65h0m7-3h0m1 19h0m3 4h0m6-16h0m7 8h0m1-6h0m49 5h0m-80 13h0m26 2h0m3 2h0m2-2h0m0 1h0m39-3h0m7 7h0m6 16h0"/>
<path stroke="#e49090" stroke-width="10.5" d="M1229 485h0m151-17h0m-205 75h0m138-18h0m-39 38h0m-138 36h0m65-12h0m23 3h0m291 21h0m42-6h0m40-1h0m12 36h0m319-12h0m-588 18h0m197 26h0m-233 17h0m233 15h0m191-15h0m-491 49h0m96 14h0m148 0h0m2-9h0m242 4h0m-748 47h0m312-24h0m18 21h0m465-10h0m4-14h0m-291 44h0m118-11h0m196-1h0m-979 50h0m0-18h0m1408 15h0m-437 31h0m42 6h0m13-27h0m10 22h0m380-19h0m-832 45h0m40-2h0m281-8h0m392-3h0m54-6h0m96 0h0m7 6h0m27 4h0m-818 31h0m126 6h0m545 4h0m11-19h0m8 3h0m-101 27h0m50 12h0m81 17h0m22 0h0m-1097 72h0m38 2h0m447 19h0m-465 31h0m-105 41h0m551-13h0m-574 53h0m115-5h0m119 0h0m-420 35h0m143-21h0m485 6h0m-64 66h0m94-15h0m106 26h0m260 2h0m-1027 14h0m117 11h0m297-24h0m18 5h0m256-4h0m471 23h0m-684 20h0m153 1h0m13 35h0m76-9h0m-222 28h0m414 18h0m-325 25h0m66-1h0m-656 15h0m401 4h0m389-7h0m-634 41h0m132-3h0m1194-7h0m3 22h0m-612 15h0m69-10h0m47 13h0m486 32h0m-220 77h0m9 82h0m-793 27h0m600-9h0m168-8h0m45 0h0m-1126 36h0m666-5h0m340 14h0m-721 36h0m218-7h0m626-11h0m-1076 29h0m464 4h0m593 11h0m28-14h0m-632 37h0m-226 20h0m55-3h0"/>
<path stroke="#e040e0" stroke-width="10.5" d="M1676 251h0m9 4h0m-81 4h0m72 19h0m8 1h0m-88 16h0m-267 176h0m-149 105h0m349-17h0m-176 53h0m222-10h0m72 6h0m-162 24h0m163-15h0m-284 52h0m257-6h0m246-7h0m10 6h0m-253 42h0m266-20h0m-674 49h0m131-7h0m128 15h0m-121 42h0m106-10h0m75-4h0m25-2h0m-306 38h0m198 1h0m131 18h0m27-11h0m115 1h0m50-10h0m-439 32h0m149 36h0m72 7h0m18-9h0m50 11h0m40 3h0m4-9h0m-208 14h0m239 12h0m118-7h0m-124 34h0m7 9h0m-529 93h0m-83 50h0m5-12h0m34 20h0m47-20h0m-159 30h0m43-3h0m36 13h0m467 14h0m39-20h0m-484 27h0m34 7h0m433 19h0m-694 29h0m251-6h0m208-7h0m265-8h0m128-2h0m-766 34h0m9 6h0m156-3h0m39 16h0m287-7h0m247-1h0m-886 18h0m143 8h0m104 10h0m574-22h0m-901 39h0m54-9h0m13 16h0m222-10h0m10 1h0m402-9h0m402 4h0m2 18h0m-1060 24h0m51 4h0m6-13h0m3 8h0m166 11h0m15-28h0m152 0h0m6 21h0m230-3h0m56 3h0m332-8h0m145-14h0m-1385 51h0m206-17h0m153 3h0m145-2h0m93 23h0m33-7h0m-284 24h0m47 6h0m75 2h0m82-11h0m33-8h0m33 2h0m56 23h0m449-26h0m83 22h0m221-20h0m-1129 38h0m235-11h0m3 12h0m108-5h0m366 13h0m103-14h0m2 4h0m216 3h0m7-9h0m61 0h0m-1350 35h0m214 2h0m11 6h0m15-7h0m352-8h0m-611 29h0m6 26h0m15-2h0m207-25h0m83 14h0m35-2h0m108 3h0m159 4h0m8-9h0m306-11h0m63 6h0m31-4h0m135 7h0m490 14h0m-1348 12h0m79 15h0m128-8h0m7-8h0m1 2h0m40 5h0m703 12h0m-947 31h0m34-18h0m17 2h0m19 14h0m2 3h0m89 0h0m83-5h0m5-11h0m618-7h0m481 7h0m56-2h0m51 8h0m39-3h0m-1504 29h0m142-6h0m1332 4h0m-438 102h0m-519 24h0m66-3h0m2-4h0m13 4h0m39-1h0m-600 40h0m374 2h0m50-23h0m52 21h0m38 0h0m70-12h0m151 1h0m0 12h0m-770 32h0m49-16h0m320 6h0m142-4h0m7 6h0m107-1h0m10-7h0m153 11h0m5 0h0m210 5h0m26-14h0m-1034 29h0m0-3h0m67 3h0m10 20h0m28-9h0m420-3h0m39 1h0m19 9h0m79-11h0m323-3h0m-606 35h0m24 9h0m146-19h0m29-2h0m101 2h0m349 8h0m-803 35h0m55-12h0m1 2h0m290 9h0m35-14h0m534-6h0m-779 47h0m111 18h0m13 24h0m8-24h0m35 8h0m56-1h0m61 13h0m2 1h0m21-17h0m1-10h0m-231 48h0m40-13h0m27 3h0m83 5h0m47-9h0m-138 33h0m109 8h0m76 1h0m-265 18h0m3 18h0m277 2h0m-250 24h0m1 0h0m12 0h0m23-1h0m237 9h0m-264 13h0m80 3h0m127 7h0m-165 19h0m58 19h0m115 0h0m-32 14h0m-42 27h0m7-2h0m217 72h0m72 20h0"/>
<path stroke="#ff2020" stroke-width="10.5" d="M1593 285h0m-71 34h0m-216 179h0m84 13h0m-123 15h0m296 25h0m-400 25h0m34-4h0m28 6h0m15-20h0m365 12h0m-276 24h0m13 10h0m21-2h0m184 13h0m-396 19h0m25 7h0m31-13h0m49 13h0m106-21h0m9-1h0m185 2h0m51 22h0m256-24h0m41 8h0m-633 45h0m190-17h0m188 4h0m-450 35h0m57-1h0m16 4h0m188-5h0m38 5h0m129-19h0m-418 34h0m31 20h0m7-19h0m291 5h0m45 2h0m344 12h0m33-6h0m-704 11h0m71 23h0m363-4h0m52-3h0m209 1h0m-1028 29h0m348-15h0m240 21h0m5-2h0m5-19h0m41 11h0m84-11h0m124 20h0m159-1h0m26-9h0m300 13h0m-1339 18h0m410-6h0m261 12h0m98-16h0m436 19h0m7-7h0m99-8h0m39-2h0m-832 49h0m83-18h0m97 4h0m83-4h0m57 6h0m22 5h0m305 1h0m30 0h0m15 9h0m2-7h0m84-9h0m27-8h0m-828 39h0m28-7h0m146 23h0m112-22h0m472 19h0m14-2h0m32-21h0m2 7h0m-741 47h0m28-14h0m113 11h0m38-8h0m170-8h0m349 6h0m77-1h0m-1458 29h0m633 9h0m80-3h0m13-1h0m231-16h0m2 25h0m330-16h0m80-8h0m37 8h0m32 9h0m-802 31h0m635-19h0m24 6h0m70 17h0m6 1h0m11-23h0m63 2h0m48 2h0m-1244 111h0m21-3h0m516 5h0m-420 55h0m425 4h0m-466 28h0m515-13h0m-302 38h0m126-2h0m203 0h0m-336 18h0m192 2h0m-658 44h0m183-23h0m100 8h0m418 18h0m-243 7h0m7 26h0m26-14h0m632 12h0m-1127 3h0m364 2h0m148 4h0m132 21h0m4-3h0m225-7h0m289 11h0m-995 26h0m212-13h0m88 19h0m76-15h0m152 14h0m39-13h0m61-3h0m257 2h0m21 5h0m28 1h0m-1008 13h0m588-2h0m77-1h0m305 3h0m49 18h0m335 2h0m-995 9h0m361 19h0m154-4h0m91 8h0m347-8h0m-426 31h0m338 3h0m48 7h0m-1368 25h0m83-12h0m239-3h0m364-8h0m62 23h0m222-16h0m178 20h0m365-12h0m-1343 38h0m634-5h0m62 3h0m24-11h0m38-2h0m620-8h0m-1480 58h0m60-26h0m829-2h0m160 1h0m337 11h0m58-4h0m-1460 36h0m901-7h0m440 16h0m-372 21h0m18 10h0m370 1h0m-383 12h0m-371 34h0m552 6h0m46-1h0m-597 31h0m76-3h0m-239 40h0m148-8h0m107 8h0m1-6h0m103-6h0m299 11h0m-1044 23h0m966-13h0m-986 26h0m67 18h0m4 8h0m17 4h0m290-30h0m211 18h0m416-3h0m123 13h0m-1037 30h0m137 1h0m95 0h0m288-5h0m26-17h0m5 3h0m4 4h0m304 11h0m166-7h0m16 6h0m14 1h0m50-16h0m-886 29h0m67 22h0m572-10h0m5-7h0m189 11h0m18-20h0m-733 35h0m68 12h0m16-2h0m-17 39h0m53-10h0m19-5h0m14 0h0m-126 63h0m-16 79h0m62-2h0m70 49h0"/>
</g>
<rect x="334.9" y="17.5" width="209.5" height="209.5" fill="none" stroke="#111" stroke-width="1.1"/>
<text x="440.35" y="239.4" font-size="11.4" text-anchor="middle" fill="#1a1a1a">t-SNE1</text>
<text transform="translate(330.9 122.25) rotate(-90)" font-size="11.5" text-anchor="middle" fill="#1a1a1a">t-SNE2</text>
<g shape-rendering="crispEdges">
<rect x="588.40" y="208.47" width="7.50" height="7.73" fill="#c4c4c4"/>
<rect x="588.40" y="201.04" width="7.50" height="7.73" fill="#c2c2c5"/>
<rect x="588.40" y="193.61" width="7.50" height="7.73" fill="#bcbcc6"/>
<rect x="588.40" y="186.18" width="7.50" height="7.73" fill="#afafca"/>
<rect x="588.40" y="178.75" width="7.50" height="7.73" fill="#9b9bd0"/>
<rect x="588.40" y="171.32" width="7.50" height="7.73" fill="#8080d8"/>
<rect x="588.40" y="163.89" width="7.50" height="7.73" fill="#6161e2"/>
<rect x="588.40" y="156.46" width="7.50" height="7.73" fill="#4040ec"/>
<rect x="588.40" y="149.03" width="7.50" height="7.73" fill="#1f1ff6"/>
<rect x="588.40" y="141.60" width="7.50" height="7.73" fill="#0000ff"/>
<rect x="595.60" y="208.47" width="7.50" height="7.73" fill="#c5c2c2"/>
<rect x="595.60" y="201.04" width="7.50" height="7.73" fill="#c3c1c3"/>
<rect x="595.60" y="193.61" width="7.50" height="7.73" fill="#bdbbc5"/>
<rect x="595.60" y="186.18" width="7.50" height="7.73" fill="#b1afca"/>
<rect x="595.60" y="178.75" width="7.50" height="7.73" fill="#9e9cd1"/>
<rect x="595.60" y="171.32" width="7.50" height="7.73" fill="#8482db"/>
<rect x="595.60" y="163.89" width="7.50" height="7.73" fill="#6765e6"/>
<rect x="595.60" y="156.46" width="7.50" height="7.73" fill="#4846f2"/>
<rect x="595.60" y="149.03" width="7.50" height="7.73" fill="#2a28ff"/>
<rect x="595.60" y="141.60" width="7.50" height="7.73" fill="#0e0cff"/>
<rect x="602.80" y="208.47" width="7.50" height="7.73" fill="#c6bcbc"/>
<rect x="602.80" y="201.04" width="7.50" height="7.73" fill="#c5bbbd"/>
<rect x="602.80" y="193.61" width="7.50" height="7.73" fill="#c0b6c0"/>
<rect x="602.80" y="186.18" width="7.50" height="7.73" fill="#b5abc6"/>
<rect x="602.80" y="178.75" width="7.50" height="7.73" fill="#a399cf"/>
<rect x="602.80" y="171.32" width="7.50" height="7.73" fill="#8c81da"/>
<rect x="602.80" y="163.89" width="7.50" height="7.73" fill="#7166e8"/>
<rect x="602.80" y="156.46" width="7.50" height="7.73" fill="#554af6"/>
<rect x="602.80" y="149.03" width="7.50" height="7.73" fill="#3a2fff"/>
<rect x="602.80" y="141.60" width="7.50" height="7.73" fill="#2116ff"/>
<rect x="610.00" y="208.47" width="7.50" height="7.73" fill="#caafaf"/>
<rect x="610.00" y="201.04" width="7.50" height="7.73" fill="#caafb1"/>
<rect x="610.00" y="193.61" width="7.50" height="7.73" fill="#c6abb5"/>
<rect x="610.00" y="186.18" width="7.50" height="7.73" fill="#bca1bc"/>
<rect x="610.00" y="178.75" width="7.50" height="7.73" fill="#ad91c7"/>
<rect x="610.00" y="171.32" width="7.50" height="7.73" fill="#977cd5"/>
<rect x="610.00" y="163.89" width="7.50" height="7.73" fill="#7f64e5"/>
<rect x="610.00" y="156.46" width="7.50" height="7.73" fill="#664bf7"/>
<rect x="610.00" y="149.03" width="7.50" height="7.73" fill="#4e33ff"/>
<rect x="610.00" y="141.60" width="7.50" height="7.73" fill="#381dff"/>
<rect x="617.20" y="208.47" width="7.50" height="7.73" fill="#d09b9b"/>
<rect x="617.20" y="201.04" width="7.50" height="7.73" fill="#d19c9e"/>
<rect x="617.20" y="193.61" width="7.50" height="7.73" fill="#cf99a3"/>
<rect x="617.20" y="186.18" width="7.50" height="7.73" fill="#c791ad"/>
<rect x="617.20" y="178.75" width="7.50" height="7.73" fill="#ba84ba"/>
<rect x="617.20" y="171.32" width="7.50" height="7.73" fill="#a771ca"/>
<rect x="617.20" y="163.89" width="7.50" height="7.73" fill="#915cdd"/>
<rect x="617.20" y="156.46" width="7.50" height="7.73" fill="#7b46f2"/>
<rect x="617.20" y="149.03" width="7.50" height="7.73" fill="#6631ff"/>
<rect x="617.20" y="141.60" width="7.50" height="7.73" fill="#541eff"/>
<rect x="624.40" y="208.47" width="7.50" height="7.73" fill="#d88080"/>
<rect x="624.40" y="201.04" width="7.50" height="7.73" fill="#db8284"/>
<rect x="624.40" y="193.61" width="7.50" height="7.73" fill="#da818c"/>
<rect x="624.40" y="186.18" width="7.50" height="7.73" fill="#d57c97"/>
<rect x="624.40" y="178.75" width="7.50" height="7.73" fill="#ca71a7"/>
<rect x="624.40" y="171.32" width="7.50" height="7.73" fill="#ba62ba"/>
<rect x="624.40" y="163.89" width="7.50" height="7.73" fill="#a84fd0"/>
<rect x="624.40" y="156.46" width="7.50" height="7.73" fill="#953ce8"/>
<rect x="624.40" y="149.03" width="7.50" height="7.73" fill="#832aff"/>
<rect x="624.40" y="141.60" width="7.50" height="7.73" fill="#731aff"/>
<rect x="631.60" y="208.47" width="7.50" height="7.73" fill="#e26161"/>
<rect x="631.60" y="201.04" width="7.50" height="7.73" fill="#e66567"/>
<rect x="631.60" y="193.61" width="7.50" height="7.73" fill="#e86671"/>
<rect x="631.60" y="186.18" width="7.50" height="7.73" fill="#e5647f"/>
<rect x="631.60" y="178.75" width="7.50" height="7.73" fill="#dd5c91"/>
<rect x="631.60" y="171.32" width="7.50" height="7.73" fill="#d04fa8"/>
<rect x="631.60" y="163.89" width="7.50" height="7.73" fill="#c140c1"/>
<rect x="631.60" y="156.46" width="7.50" height="7.73" fill="#b130dc"/>
<rect x="631.60" y="149.03" width="7.50" height="7.73" fill="#a221f7"/>
<rect x="631.60" y="141.60" width="7.50" height="7.73" fill="#9514ff"/>
<rect x="638.80" y="208.47" width="7.50" height="7.73" fill="#ec4040"/>
<rect x="638.80" y="201.04" width="7.50" height="7.73" fill="#f24648"/>
<rect x="638.80" y="193.61" width="7.50" height="7.73" fill="#f64a55"/>
<rect x="638.80" y="186.18" width="7.50" height="7.73" fill="#f74b66"/>
<rect x="638.80" y="178.75" width="7.50" height="7.73" fill="#f2467b"/>
<rect x="638.80" y="171.32" width="7.50" height="7.73" fill="#e83c95"/>
<rect x="638.80" y="163.89" width="7.50" height="7.73" fill="#dc30b1"/>
<rect x="638.80" y="156.46" width="7.50" height="7.73" fill="#ce22ce"/>
<rect x="638.80" y="149.03" width="7.50" height="7.73" fill="#c216ed"/>
<rect x="638.80" y="141.60" width="7.50" height="7.73" fill="#b80cff"/>
<rect x="646.00" y="208.47" width="7.50" height="7.73" fill="#f61f1f"/>
<rect x="646.00" y="201.04" width="7.50" height="7.73" fill="#ff282a"/>
<rect x="646.00" y="193.61" width="7.50" height="7.73" fill="#ff2f3a"/>
<rect x="646.00" y="186.18" width="7.50" height="7.73" fill="#ff334e"/>
<rect x="646.00" y="178.75" width="7.50" height="7.73" fill="#ff3166"/>
<rect x="646.00" y="171.32" width="7.50" height="7.73" fill="#ff2a83"/>
<rect x="646.00" y="163.89" width="7.50" height="7.73" fill="#f721a2"/>
<rect x="646.00" y="156.46" width="7.50" height="7.73" fill="#ed16c2"/>
<rect x="646.00" y="149.03" width="7.50" height="7.73" fill="#e30de3"/>
<rect x="646.00" y="141.60" width="7.50" height="7.73" fill="#dc05ff"/>
<rect x="653.20" y="208.47" width="7.50" height="7.73" fill="#ff0000"/>
<rect x="653.20" y="201.04" width="7.50" height="7.73" fill="#ff0c0e"/>
<rect x="653.20" y="193.61" width="7.50" height="7.73" fill="#ff1621"/>
<rect x="653.20" y="186.18" width="7.50" height="7.73" fill="#ff1d38"/>
<rect x="653.20" y="178.75" width="7.50" height="7.73" fill="#ff1e54"/>
<rect x="653.20" y="171.32" width="7.50" height="7.73" fill="#ff1a73"/>
<rect x="653.20" y="163.89" width="7.50" height="7.73" fill="#ff1495"/>
<rect x="653.20" y="156.46" width="7.50" height="7.73" fill="#ff0cb8"/>
<rect x="653.20" y="149.03" width="7.50" height="7.73" fill="#ff05dc"/>
<rect x="653.20" y="141.60" width="7.50" height="7.73" fill="#ff00ff"/>
</g>
<rect x="588.4" y="141.6" width="72" height="74.3" fill="none" stroke="#111" stroke-width="1.2"/>
<g stroke="#111" stroke-width="1" fill="none">
<path d="M599.20 215.90v2.6M588.40 204.75h-2.6"/>
<path d="M613.60 215.90v2.6M588.40 189.90h-2.6"/>
<path d="M628.00 215.90v2.6M588.40 175.03h-2.6"/>
<path d="M642.40 215.90v2.6M588.40 160.18h-2.6"/>
<path d="M656.80 215.90v2.6M588.40 145.31h-2.6"/>
</g>
<g font-size="9" fill="#1a1a1a">
<text x="599.20" y="226.30" text-anchor="middle">2</text>
<text x="585.20" y="207.95" text-anchor="end">2</text>
<text x="613.60" y="226.30" text-anchor="middle">4</text>
<text x="585.20" y="193.09" text-anchor="end">4</text>
<text x="628.00" y="226.30" text-anchor="middle">6</text>
<text x="585.20" y="178.23" text-anchor="end">6</text>
<text x="642.40" y="226.30" text-anchor="middle">8</text>
<text x="585.20" y="163.38" text-anchor="end">8</text>
<text x="656.80" y="226.30" text-anchor="middle">10</text>
<text x="585.20" y="148.51" text-anchor="end">10</text>
<text x="624.3" y="130.2" text-anchor="middle">Color legend</text>
<text x="624.3" y="236.6" text-anchor="middle" font-style="italic">GLS</text>
<text transform="translate(571.9 178.8) rotate(-90)" text-anchor="middle" font-style="italic">GLUL</text>
</g>
<g shape-rendering="crispEdges">
<rect x="588.40" y="461.07" width="7.50" height="7.73" fill="#c4c4c4"/>
<rect x="588.40" y="453.64" width="7.50" height="7.73" fill="#c2c2c5"/>
<rect x="588.40" y="446.21" width="7.50" height="7.73" fill="#bcbcc6"/>
<rect x="588.40" y="438.78" width="7.50" height="7.73" fill="#afafca"/>
<rect x="588.40" y="431.35" width="7.50" height="7.73" fill="#9b9bd0"/>
<rect x="588.40" y="423.92" width="7.50" height="7.73" fill="#8080d8"/>
<rect x="588.40" y="416.49" width="7.50" height="7.73" fill="#6161e2"/>
<rect x="588.40" y="409.06" width="7.50" height="7.73" fill="#4040ec"/>
<rect x="588.40" y="401.63" width="7.50" height="7.73" fill="#1f1ff6"/>
<rect x="588.40" y="394.20" width="7.50" height="7.73" fill="#0000ff"/>
<rect x="595.60" y="461.07" width="7.50" height="7.73" fill="#c5c2c2"/>
<rect x="595.60" y="453.64" width="7.50" height="7.73" fill="#c3c1c3"/>
<rect x="595.60" y="446.21" width="7.50" height="7.73" fill="#bdbbc5"/>
<rect x="595.60" y="438.78" width="7.50" height="7.73" fill="#b1afca"/>
<rect x="595.60" y="431.35" width="7.50" height="7.73" fill="#9e9cd1"/>
<rect x="595.60" y="423.92" width="7.50" height="7.73" fill="#8482db"/>
<rect x="595.60" y="416.49" width="7.50" height="7.73" fill="#6765e6"/>
<rect x="595.60" y="409.06" width="7.50" height="7.73" fill="#4846f2"/>
<rect x="595.60" y="401.63" width="7.50" height="7.73" fill="#2a28ff"/>
<rect x="595.60" y="394.20" width="7.50" height="7.73" fill="#0e0cff"/>
<rect x="602.80" y="461.07" width="7.50" height="7.73" fill="#c6bcbc"/>
<rect x="602.80" y="453.64" width="7.50" height="7.73" fill="#c5bbbd"/>
<rect x="602.80" y="446.21" width="7.50" height="7.73" fill="#c0b6c0"/>
<rect x="602.80" y="438.78" width="7.50" height="7.73" fill="#b5abc6"/>
<rect x="602.80" y="431.35" width="7.50" height="7.73" fill="#a399cf"/>
<rect x="602.80" y="423.92" width="7.50" height="7.73" fill="#8c81da"/>
<rect x="602.80" y="416.49" width="7.50" height="7.73" fill="#7166e8"/>
<rect x="602.80" y="409.06" width="7.50" height="7.73" fill="#554af6"/>
<rect x="602.80" y="401.63" width="7.50" height="7.73" fill="#3a2fff"/>
<rect x="602.80" y="394.20" width="7.50" height="7.73" fill="#2116ff"/>
<rect x="610.00" y="461.07" width="7.50" height="7.73" fill="#caafaf"/>
<rect x="610.00" y="453.64" width="7.50" height="7.73" fill="#caafb1"/>
<rect x="610.00" y="446.21" width="7.50" height="7.73" fill="#c6abb5"/>
<rect x="610.00" y="438.78" width="7.50" height="7.73" fill="#bca1bc"/>
<rect x="610.00" y="431.35" width="7.50" height="7.73" fill="#ad91c7"/>
<rect x="610.00" y="423.92" width="7.50" height="7.73" fill="#977cd5"/>
<rect x="610.00" y="416.49" width="7.50" height="7.73" fill="#7f64e5"/>
<rect x="610.00" y="409.06" width="7.50" height="7.73" fill="#664bf7"/>
<rect x="610.00" y="401.63" width="7.50" height="7.73" fill="#4e33ff"/>
<rect x="610.00" y="394.20" width="7.50" height="7.73" fill="#381dff"/>
<rect x="617.20" y="461.07" width="7.50" height="7.73" fill="#d09b9b"/>
<rect x="617.20" y="453.64" width="7.50" height="7.73" fill="#d19c9e"/>
<rect x="617.20" y="446.21" width="7.50" height="7.73" fill="#cf99a3"/>
<rect x="617.20" y="438.78" width="7.50" height="7.73" fill="#c791ad"/>
<rect x="617.20" y="431.35" width="7.50" height="7.73" fill="#ba84ba"/>
<rect x="617.20" y="423.92" width="7.50" height="7.73" fill="#a771ca"/>
<rect x="617.20" y="416.49" width="7.50" height="7.73" fill="#915cdd"/>
<rect x="617.20" y="409.06" width="7.50" height="7.73" fill="#7b46f2"/>
<rect x="617.20" y="401.63" width="7.50" height="7.73" fill="#6631ff"/>
<rect x="617.20" y="394.20" width="7.50" height="7.73" fill="#541eff"/>
<rect x="624.40" y="461.07" width="7.50" height="7.73" fill="#d88080"/>
<rect x="624.40" y="453.64" width="7.50" height="7.73" fill="#db8284"/>
<rect x="624.40" y="446.21" width="7.50" height="7.73" fill="#da818c"/>
<rect x="624.40" y="438.78" width="7.50" height="7.73" fill="#d57c97"/>
<rect x="624.40" y="431.35" width="7.50" height="7.73" fill="#ca71a7"/>
<rect x="624.40" y="423.92" width="7.50" height="7.73" fill="#ba62ba"/>
<rect x="624.40" y="416.49" width="7.50" height="7.73" fill="#a84fd0"/>
<rect x="624.40" y="409.06" width="7.50" height="7.73" fill="#953ce8"/>
<rect x="624.40" y="401.63" width="7.50" height="7.73" fill="#832aff"/>
<rect x="624.40" y="394.20" width="7.50" height="7.73" fill="#731aff"/>
<rect x="631.60" y="461.07" width="7.50" height="7.73" fill="#e26161"/>
<rect x="631.60" y="453.64" width="7.50" height="7.73" fill="#e66567"/>
<rect x="631.60" y="446.21" width="7.50" height="7.73" fill="#e86671"/>
<rect x="631.60" y="438.78" width="7.50" height="7.73" fill="#e5647f"/>
<rect x="631.60" y="431.35" width="7.50" height="7.73" fill="#dd5c91"/>
<rect x="631.60" y="423.92" width="7.50" height="7.73" fill="#d04fa8"/>
<rect x="631.60" y="416.49" width="7.50" height="7.73" fill="#c140c1"/>
<rect x="631.60" y="409.06" width="7.50" height="7.73" fill="#b130dc"/>
<rect x="631.60" y="401.63" width="7.50" height="7.73" fill="#a221f7"/>
<rect x="631.60" y="394.20" width="7.50" height="7.73" fill="#9514ff"/>
<rect x="638.80" y="461.07" width="7.50" height="7.73" fill="#ec4040"/>
<rect x="638.80" y="453.64" width="7.50" height="7.73" fill="#f24648"/>
<rect x="638.80" y="446.21" width="7.50" height="7.73" fill="#f64a55"/>
<rect x="638.80" y="438.78" width="7.50" height="7.73" fill="#f74b66"/>
<rect x="638.80" y="431.35" width="7.50" height="7.73" fill="#f2467b"/>
<rect x="638.80" y="423.92" width="7.50" height="7.73" fill="#e83c95"/>
<rect x="638.80" y="416.49" width="7.50" height="7.73" fill="#dc30b1"/>
<rect x="638.80" y="409.06" width="7.50" height="7.73" fill="#ce22ce"/>
<rect x="638.80" y="401.63" width="7.50" height="7.73" fill="#c216ed"/>
<rect x="638.80" y="394.20" width="7.50" height="7.73" fill="#b80cff"/>
<rect x="646.00" y="461.07" width="7.50" height="7.73" fill="#f61f1f"/>
<rect x="646.00" y="453.64" width="7.50" height="7.73" fill="#ff282a"/>
<rect x="646.00" y="446.21" width="7.50" height="7.73" fill="#ff2f3a"/>
<rect x="646.00" y="438.78" width="7.50" height="7.73" fill="#ff334e"/>
<rect x="646.00" y="431.35" width="7.50" height="7.73" fill="#ff3166"/>
<rect x="646.00" y="423.92" width="7.50" height="7.73" fill="#ff2a83"/>
<rect x="646.00" y="416.49" width="7.50" height="7.73" fill="#f721a2"/>
<rect x="646.00" y="409.06" width="7.50" height="7.73" fill="#ed16c2"/>
<rect x="646.00" y="401.63" width="7.50" height="7.73" fill="#e30de3"/>
<rect x="646.00" y="394.20" width="7.50" height="7.73" fill="#dc05ff"/>
<rect x="653.20" y="461.07" width="7.50" height="7.73" fill="#ff0000"/>
<rect x="653.20" y="453.64" width="7.50" height="7.73" fill="#ff0c0e"/>
<rect x="653.20" y="446.21" width="7.50" height="7.73" fill="#ff1621"/>
<rect x="653.20" y="438.78" width="7.50" height="7.73" fill="#ff1d38"/>
<rect x="653.20" y="431.35" width="7.50" height="7.73" fill="#ff1e54"/>
<rect x="653.20" y="423.92" width="7.50" height="7.73" fill="#ff1a73"/>
<rect x="653.20" y="416.49" width="7.50" height="7.73" fill="#ff1495"/>
<rect x="653.20" y="409.06" width="7.50" height="7.73" fill="#ff0cb8"/>
<rect x="653.20" y="401.63" width="7.50" height="7.73" fill="#ff05dc"/>
<rect x="653.20" y="394.20" width="7.50" height="7.73" fill="#ff00ff"/>
</g>
<rect x="588.4" y="394.2" width="72" height="74.3" fill="none" stroke="#111" stroke-width="1.2"/>
<g stroke="#111" stroke-width="1" fill="none">
<path d="M599.20 468.50v2.6M588.40 457.36h-2.6"/>
<path d="M613.60 468.50v2.6M588.40 442.50h-2.6"/>
<path d="M628.00 468.50v2.6M588.40 427.63h-2.6"/>
<path d="M642.40 468.50v2.6M588.40 412.77h-2.6"/>
<path d="M656.80 468.50v2.6M588.40 397.91h-2.6"/>
</g>
<g font-size="9" fill="#1a1a1a">
<text x="599.20" y="478.90" text-anchor="middle">2</text>
<text x="585.20" y="460.56" text-anchor="end">2</text>
<text x="613.60" y="478.90" text-anchor="middle">4</text>
<text x="585.20" y="445.69" text-anchor="end">4</text>
<text x="628.00" y="478.90" text-anchor="middle">6</text>
<text x="585.20" y="430.83" text-anchor="end">6</text>
<text x="642.40" y="478.90" text-anchor="middle">8</text>
<text x="585.20" y="415.97" text-anchor="end">8</text>
<text x="656.80" y="478.90" text-anchor="middle">10</text>
<text x="585.20" y="401.11" text-anchor="end">10</text>
<text x="624.3" y="382.8" text-anchor="middle">Color legend</text>
<text x="624.3" y="489.2" text-anchor="middle" font-style="italic">GRIA1</text>
<text transform="translate(571.9 431.4) rotate(-90)" text-anchor="middle" font-style="italic">GRIA2</text>
</g>
<text x="4.6" y="264.9" font-size="10.5" font-weight="bold" fill="#111">C</text>
<g transform="translate(0 251.7) scale(.1)" fill="none" stroke-linecap="square" stroke-width="10.4">
<g stroke="#bcbcbc">
<use href="#c0"/>
<use href="#c1"/>
<use href="#c2"/>
<use href="#c3"/>
<use href="#c4"/>
<use href="#c5"/>
<use href="#c6"/>
<use href="#c7"/>
<use href="#c8"/>
<use href="#c9"/>
<use href="#c10"/>
<use href="#c11"/>
<use href="#c12"/>
<use href="#c13"/>
<use href="#c14"/>
<use href="#c15"/>
<use href="#c16"/>
<use href="#c17"/>
<use href="#c18"/>
<use href="#c19"/>
<use href="#c20"/>
</g></g>
<g transform="scale(.1)" fill="none" stroke-linecap="round">
<path stroke="#a0a0d8" stroke-width="11" d="M1599 3587h0m81 17h0m-173 58h0m66 3h0m46-13h0m31-2h0m86 40h0m77 43h0m15-2h0m76 2h0m-178 13h0m25-5h0m21 5h0m5-5h0m56 0h0m66 0h0m41 22h0m20 28h0m41-25h0m15 25h0m-30 11h0m46 0h0m0 30h0m5 15h0m15 33h0m-229 63h0m148 56h0"/>
<path stroke="#dca0a0" stroke-width="11" d="M1624 3645h0m-36 25h0m46-5h0m5 35h0m-56 15h0m82-5h0m5 21h0m46-16h0m10 0h0m5 11h0m77 5h0m-194 25h0m-112 40h0m448 6h0m-275 45h0m296-15h0m-166 96h0"/>
<path stroke="#1414ff" stroke-width="14.5" d="M1650 3165h0m265 75h0m13 15h0m12 10h0m-275 417h0m10 8h0m51-10h0m158 54h0m-350 27h0m240-2h0m-106 7h0m97 5h0m37 5h0m21-10h0m46 22h0m23-7h0m43 7h0m-214 32h0m30-24h0m65 24h0m22-21h0m18-2h0m101 15h0m32 10h0m-166 25h0m3-17h0m94 19h0m12-17h0m57 8h0m-447 32h0m266 10h0m79-25h0m33 7h0m68-2h0m-231 39h0m89-10h0m23-3h0m10 25h0m12-20h0m27 0h0m9 10h0m13-8h0m51 5h0m10-2h0m10-10h0m289 27h0m-442 18h0m292 17h0m-380 26h0m7 11h0m146 54h0m-233 174h0"/>
<path stroke="#ff2020" stroke-width="14.5" d="M1670 3621h0m590 54h0m-572 38h0m117-1h0m-87 44h0m163 5h0m-116 25h0m-82 30h0m86-4h0m-1227 38h0m1158-1h0m82 0h0m97-9h0m-308 35h0m137 3h0m91-23h0m195 19h0m-222 32h0m-221 19h0m89 12h0m84 6h0m-141 19h0m145 27h0m0 686h0"/>
</g>
<rect x="44.5" y="269.1" width="209.5" height="209.5" fill="none" stroke="#111" stroke-width="1.1"/>
<text x="149.95" y="491.1" font-size="11.4" text-anchor="middle" fill="#1a1a1a">t-SNE1</text>
<text transform="translate(40.5 373.95) rotate(-90)" font-size="11.5" text-anchor="middle" fill="#1a1a1a">t-SNE2</text>
<g fill="none" stroke="#111" stroke-width="1.4" stroke-dasharray="2.5 1.36">
<rect x="143.5" y="351.1" width="64.9" height="64.3"/>
<path d="M208.4 351.1L334.8 269.3M208.4 415.4L334.8 478.5"/>
</g>
<clipPath id="ic"><rect x="334.8" y="269.3" width="209.7" height="209.2"/></clipPath>
<g clip-path="url(#ic)"><g transform="scale(.1)" fill="none" stroke-linecap="round">
<path stroke="#c0c0c0" stroke-width="42" d="M4816 2822h0m-864 60h0m28 6h0m-63 29h0m7 12h0m-145 38h0m14 7h0m18 1h0m2-1h0m125-9h0m-138 38h0m36 5h0m27-19h0m18 21h0m36-21h0m65-1h0m8 9h0m76 12h0m38-17h0m-366 37h0m103-1h0m75-5h0m27-6h0m14-1h0m106 21h0m-372 36h0m13-3h0m49-3h0m6-22h0m20 21h0m21-19h0m33 5h0m5 17h0m32-18h0m9 22h0m60-7h0m10-6h0m5 9h0m74-5h0m15-1h0m-296 38h0m17-2h0m6-20h0m1-1h0m80 24h0m28-21h0m2 7h0m38 17h0m59-5h0m6 3h0m88-10h0m12 9h0m42-14h0m-409 44h0m105-4h0m129-20h0m5 15h0m35 2h0m4 4h0m60-23h0m65 18h0m25-1h0m46-1h0m48 3h0m-608 18h0m41 18h0m79-4h0m16 0h0m6-9h0m16 3h0m3 7h0m8 1h0m30-23h0m30 23h0m56-19h0m21 2h0m37 10h0m22 0h0m17-5h0m8 12h0m1-7h0m33 11h0m3-18h0m22 10h0m17-11h0m25 14h0m1-18h0m57-5h0m14 9h0m34 11h0m19-13h0m9 19h0m-579 26h0m7 8h0m62-27h0m183 17h0m3-13h0m19 11h0m43 9h0m2-21h0m17 6h0m11 3h0m6 1h0m32 12h0m66-15h0m44 15h0m6-7h0m30-4h0m3-4h0m17 15h0m42-21h0m96 0h0m-1045 45h0m373-8h0m30 0h0m4 9h0m17 2h0m8-8h0m33 8h0m3 0h0m14-21h0m53 5h0m10 17h0m58-22h0m6 22h0m10-17h0m36 13h0m41 4h0m4-9h0m15-4h0m151 6h0m17-2h0m0-1h0m12-4h0m72 0h0m46 1h0m12-3h0m32-2h0m42 20h0m24-8h0m21 7h0m-1022 14h0m99 18h0m3-11h0m16-6h0m24 8h0m30 3h0m72-11h0m10 11h0m10-20h0m51 4h0m7-6h0m107 13h0m80 1h0m24-4h0m1 5h0m4 9h0m8-11h0m17 10h0m44-12h0m14-3h0m12 17h0m7-16h0m30 15h0m33-11h0m1-1h0m14-11h0m3 24h0m20-7h0m13-2h0m79 10h0m4-17h0m31 6h0m1-10h0m33 11h0m24-3h0m192 7h0m-1207 21h0m137 14h0m25-4h0m28-1h0m21-11h0m4 15h0m7-23h0m128 28h0m63-14h0m19-1h0m0 14h0m16-6h0m21 7h0m24-28h0m11 8h0m5-5h0m32 23h0m18 0h0m229-20h0m17-6h0m32-2h0m23 15h0m4 0h0m24 2h0m3-8h0m17-8h0m17 24h0m12-10h0m18 3h0m6-8h0m4 0h0m18-6h0m11 8h0m11 0h0m3-9h0m4 10h0m121 12h0m36 4h0m97-8h0m-1107 27h0m1-15h0m1 9h0m45 13h0m65-3h0m22-16h0m26 15h0m27-10h0m103-2h0m37 11h0m54-13h0m22 15h0m16-16h0m25 15h0m22-16h0m5 24h0m86-3h0m32-24h0m19 6h0m18-2h0m20 7h0m90-5h0m108 20h0m95-8h0m1-8h0m72 2h0m6-14h0m3 28h0m4-15h0m14 7h0m-1188 13h0m30 13h0m24 0h0m88 2h0m30 6h0m27 4h0m79-5h0m17-15h0m1 0h0m9-1h0m4-1h0m16 20h0m111-23h0m23 14h0m3 7h0m8-14h0m2 9h0m7-1h0m35-6h0m2 12h0m14-20h0m6 16h0m43 3h0m19-9h0m1 10h0m8-7h0m8 4h0m5-13h0m40 11h0m1 5h0m100-5h0m73 1h0m8-2h0m113-17h0m24 17h0m4 6h0m103-12h0m3 10h0m13-16h0m3 8h0m28-11h0m-1133 36h0m54-7h0m124 8h0m1 16h0m25-6h0m5-11h0m68 21h0m0-25h0m5 5h0m5-9h0m15 4h0m15 18h0m43 2h0m49-22h0m3 7h0m14-9h0m11 2h0m61 4h0m10-2h0m37 14h0m86 4h0m1-14h0m202-7h0m31 6h0m68 16h0m69-23h0m157 16h0m36-1h0m93 8h0m-1262 32h0m16-24h0m3 24h0m49-17h0m66 1h0m7-4h0m22 0h0m3-4h0m24 1h0m38 8h0m111 15h0m19-20h0m112 10h0m69 11h0m54-24h0m3 20h0m22-20h0m20-1h0m154 0h0m9 9h0m50 15h0m52-5h0m33 2h0m2-15h0m12 1h0m20-6h0m4 23h0m68-14h0m12-8h0m1 12h0m10-8h0m41-6h0m2 0h0m10 2h0m14 10h0m33-12h0m11 27h0m82-14h0m3 14h0m5-9h0m3-1h0m40-1h0m21-4h0m-1346 29h0m2 0h0m38 16h0m2-28h0m4 24h0m34-5h0m64-4h0m4-3h0m158-12h0m3 17h0m11-3h0m34 3h0m4 6h0m9-16h0m78 1h0m167 14h0m36 4h0m1-9h0m1 8h0m59 2h0m33-3h0m7 3h0m6-21h0m29 0h0m103 19h0m67-19h0m86 16h0m27-7h0m70-6h0m9 16h0m11-1h0m2-23h0m12 14h0m16-9h0m46 6h0m39 17h0m2-19h0m12 17h0m48-18h0m88 9h0m157 2h0m-1587 28h0m41-3h0m18 4h0m48-17h0m245-1h0m56 6h0m60 14h0m14 5h0m108-1h0m10 0h0m2 1h0m27-13h0m0 10h0m34 3h0m42 2h0m71-9h0m195-11h0m74 12h0m51-15h0m52 9h0m145 11h0m27-24h0m16 3h0m14 13h0m1-8h0m199-9h0m6 25h0m75 4h0m-1596 9h0m3 4h0m13 9h0m73-19h0m60 24h0m46-20h0m52 8h0m49-11h0m55-1h0m55 4h0m7 19h0m74 2h0m1-11h0m18-7h0m7 9h0m11-7h0m58 17h0m77-15h0m17 6h0m20 0h0m2 8h0m113-15h0m6 15h0m28 1h0m42-12h0m39-13h0m32 14h0m90 4h0m63-16h0m26-4h0m194 14h0m62 1h0m9-6h0m2 14h0m110-11h0m32 4h0m-1479 14h0m10 18h0m27-4h0m21 8h0m33-19h0m73 22h0m91-9h0m2-7h0m15-2h0m0 11h0m19-13h0m34 9h0m4 5h0m83 6h0m117 1h0m6 1h0m19 0h0m57-13h0m162-12h0m30 6h0m3-8h0m11 15h0m4 12h0m19-1h0m5-18h0m19 15h0m39-12h0m9-12h0m18 18h0m45-4h0m45-8h0m66 1h0m1-3h0m36 23h0m23-7h0m3-19h0m19 22h0m43-17h0m54 2h0m38 6h0m10 1h0m47-16h0m4 5h0m7 0h0m42 15h0m101-18h0m7 12h0m22-2h0m-1469 32h0m67 12h0m10-11h0m48-12h0m50 8h0m5-10h0m20 29h0m34-22h0m6 2h0m14 17h0m15-16h0m41 7h0m53 1h0m23-5h0m135 15h0m32 0h0m53 0h0m5-12h0m50 0h0m58 8h0m96-9h0m17 0h0m39 8h0m23 4h0m81-12h0m131-14h0m17 3h0m112 14h0m1 5h0m34-9h0m49 10h0m24-10h0m7 12h0m126-8h0m63 7h0m13-16h0m47 17h0m21-5h0m51-7h0m-1789 29h0m10 8h0m22-10h0m79 15h0m54-17h0m39-8h0m101-2h0m4 25h0m51-21h0m120 3h0m10-2h0m7 3h0m125 7h0m68-11h0m71 7h0m94 14h0m46-24h0m9 16h0m8-9h0m17-2h0m13 9h0m61-9h0m34 10h0m46 6h0m11-21h0m14 5h0m0 16h0m2-6h0m27 6h0m28 2h0m80 6h0m66-17h0m12-12h0m5 28h0m51-7h0m11-3h0m3-11h0m4 19h0m39-20h0m2 14h0m26 4h0m12 4h0m38-22h0m157 8h0m15-3h0m3 15h0m58-12h0m36-9h0m8 8h0m6 2h0m19 9h0m-1883 29h0m73-14h0m4 2h0m11-12h0m66 6h0m43 11h0m12 0h0m3-10h0m55 20h0m159-1h0m21-21h0m96-4h0m66 24h0m15-13h0m34 13h0m29-5h0m18 5h0m25-5h0m12-8h0m56 12h0m32-15h0m74 12h0m68 5h0m67 1h0m11-22h0m14 23h0m44-7h0m123-12h0m57 9h0m10-10h0m13 18h0m34-21h0m34 10h0m115 7h0m15-10h0m34-10h0m5 4h0m9 21h0m30-26h0m9 13h0m29-3h0m39 1h0m9-7h0m2 22h0m22-10h0m3-10h0m18 0h0m71 1h0m9 4h0m3-4h0m22 17h0m43-16h0m20 6h0m-1866 31h0m7-9h0m133 18h0m2-15h0m3 5h0m11-7h0m2 3h0m37-2h0m193 8h0m48-13h0m83 3h0m14-1h0m33 19h0m26 4h0m1 1h0m37-10h0m23 4h0m9-23h0m53 18h0m3-16h0m0 14h0m153 12h0m66-23h0m7 21h0m21 0h0m61-26h0m10 22h0m6-16h0m61 14h0m3 9h0m92-26h0m7 15h0m91-1h0m67 11h0m2-27h0m88 27h0m13-22h0m14 7h0m1 7h0m13-20h0m70 16h0m42 6h0m40 0h0m39-7h0m46 11h0m21 0h0m21-20h0m27-6h0m9 20h0m16-1h0m8 1h0m8 1h0m33 8h0m3-10h0m17-9h0m19 4h0m-1924 37h0m18-10h0m69 6h0m37 11h0m10-25h0m55 25h0m91-19h0m3 16h0m21-26h0m16 17h0m88 3h0m54-13h0m1 3h0m95 17h0m18-8h0m41-14h0m26 5h0m158 3h0m11-1h0m33-10h0m150 13h0m0 2h0m29 5h0m7-2h0m1 5h0m9-13h0m46-2h0m56 12h0m43 4h0m9-14h0m0 3h0m54-7h0m12 8h0m17 6h0m1-7h0m0 8h0m91-11h0m5-8h0m14 23h0m23-15h0m31-5h0m86 10h0m9-5h0m9 6h0m5 12h0m3-25h0m16 9h0m39 8h0m34-5h0m14 7h0m30-15h0m2 16h0m23-12h0m11 16h0m12-3h0m2-13h0m23 2h0m10-4h0m4 12h0m14 6h0m5-18h0m55 14h0m0-15h0m45 15h0m21-14h0m31 1h0m-1886 42h0m14 5h0m3-19h0m33 7h0m83-7h0m24 8h0m6 10h0m175-14h0m22 14h0m293-23h0m141 10h0m22-10h0m9 3h0m119 1h0m70 4h0m127 17h0m10-11h0m24 1h0m13-9h0m6 12h0m5-17h0m1 9h0m29-7h0m12 10h0m74 5h0m8-11h0m25 10h0m12-12h0m2 17h0m3-7h0m12-10h0m29 15h0m66-12h0m25 14h0m54-18h0m6 7h0m6 10h0m7-25h0m40 28h0m12-16h0m20-3h0m39 12h0m15-14h0m54-2h0m16 13h0m27-1h0m24 11h0m7-14h0m13-7h0m10 5h0m2 2h0m44 5h0m6 3h0m-1882 15h0m37 9h0m50-13h0m33 19h0m22 2h0m17-6h0m4-10h0m68 16h0m98 4h0m11-22h0m94 4h0m65-1h0m111 8h0m2-7h0m44 11h0m188-1h0m50-13h0m17-3h0m85 10h0m25-13h0m40 24h0m58 0h0m26 3h0m19-25h0m20 25h0m4-7h0m18 7h0m13-4h0m8-10h0m5 9h0m127 4h0m9-4h0m8-4h0m6 6h0m4-7h0m80 9h0m9-17h0m3 7h0m32 1h0m13 10h0m6-5h0m0-17h0m22-6h0m22 27h0m42-22h0m30 5h0m21-7h0m7 14h0m34 2h0m6 6h0m51 0h0m19 1h0m28-25h0m23 12h0m25-13h0m2 16h0m16 13h0m-1737 3h0m22 11h0m24 10h0m6-3h0m83-15h0m51 22h0m49-12h0m6 6h0m53-5h0m48-3h0m18 4h0m5-3h0m72-3h0m285-7h0m41 3h0m8 20h0m0-27h0m13 21h0m46-17h0m11 12h0m7-1h0m22 13h0m18-9h0m3 1h0m80 3h0m2 0h0m16-7h0m7-7h0m39-2h0m14 14h0m6-17h0m3 10h0m204-14h0m28 7h0m31-7h0m14 17h0m7 3h0m23-11h0m83 14h0m7-17h0m32-5h0m16 27h0m43-6h0m109-14h0m24-3h0m2 20h0m44-19h0m10 3h0m5 15h0m18-8h0m-1920 41h0m44-11h0m41-10h0m16 14h0m53 4h0m141-10h0m14-8h0m17 14h0m4 6h0m43-23h0m6 6h0m91-1h0m95-3h0m44-1h0m71 16h0m159-14h0m24 7h0m27 7h0m11-6h0m2-5h0m5 14h0m11-4h0m30-16h0m7 11h0m91 15h0m66-4h0m31-14h0m13 4h0m3 6h0m19 8h0m20-18h0m22 1h0m2 12h0m6-3h0m7-8h0m263-11h0m86-2h0m69 25h0m9-18h0m12 22h0m34-6h0m64-10h0m8 4h0m10-17h0m10 17h0m69 7h0m30 0h0m-1952 13h0m27 17h0m11-24h0m0 9h0m32 7h0m48-7h0m58 7h0m117 9h0m121-4h0m153-15h0m21 9h0m24-8h0m34 0h0m46 7h0m3-4h0m80-7h0m17-4h0m110 5h0m4 3h0m120 17h0m3-5h0m5-8h0m13-11h0m32 28h0m39-12h0m125-5h0m13 5h0m0-13h0m3 6h0m61-2h0m4 22h0m13-29h0m15 1h0m6 4h0m15 7h0m21 2h0m11-2h0m24 12h0m28-8h0m4-6h0m11-4h0m0 22h0m2-7h0m27-6h0m11-1h0m1-7h0m4 0h0m166 2h0m7 3h0m1 5h0m58 4h0m3-11h0m25-10h0m20 25h0m45-12h0m6 14h0m57-6h0m-1882 34h0m41-23h0m15-2h0m13 25h0m19-18h0m21 0h0m13 17h0m123-17h0m25-8h0m21 2h0m7 16h0m97 2h0m17-6h0m42 10h0m102-17h0m37 9h0m6 13h0m48-26h0m8 25h0m86-23h0m53 21h0m28-14h0m5 4h0m75-15h0m16 11h0m5 7h0m46 7h0m11-1h0m5-14h0m4 13h0m46-15h0m29 13h0m16 2h0m24 5h0m52-24h0m15 12h0m18 12h0m17-12h0m31 1h0m56 6h0m2-13h0m15-7h0m15 12h0m17 6h0m12-14h0m50 5h0m0 8h0m13-4h0m19-2h0m34 11h0m7-8h0m24-3h0m45-1h0m22-3h0m55 13h0m108-5h0m26-15h0m25 5h0m4-6h0m13 11h0m21 12h0m5-20h0m12 11h0m1-2h0m4-10h0m11-1h0m18 17h0m59-7h0m-1927 41h0m56-12h0m29 7h0m8-13h0m8 2h0m28 21h0m94 0h0m13-21h0m21-3h0m53 8h0m97 13h0m27-8h0m35 8h0m17-24h0m23 14h0m20 9h0m1-8h0m145 8h0m130-13h0m73 0h0m10 9h0m48-17h0m16 22h0m36-21h0m15 14h0m8-4h0m21-3h0m21-2h0m112-8h0m9 18h0m21 2h0m29-5h0m43-15h0m288 18h0m9-5h0m33 12h0m2-1h0m23-7h0m116 5h0m54-20h0m7 4h0m6 12h0m2-10h0m9 13h0m15-11h0m24 3h0m14-3h0m48 13h0m-1928 17h0m97-7h0m9 19h0m50-4h0m79-6h0m58 12h0m35-23h0m20 1h0m12 4h0m58-6h0m57 13h0m5 14h0m25-15h0m13 2h0m28-15h0m20 24h0m49 3h0m0-19h0m12 0h0m51 15h0m63-1h0m19-15h0m10 18h0m4-24h0m35 22h0m15-13h0m59-1h0m20-6h0m12 13h0m38-1h0m15-5h0m8 17h0m1-24h0m9-1h0m11 1h0m123 8h0m28 11h0m9 0h0m28-22h0m31 11h0m3-11h0m37 14h0m12 11h0m24-7h0m8-7h0m1 14h0m5-23h0m19 23h0m31-13h0m3 6h0m41-5h0m18 13h0m32-9h0m84-1h0m23 0h0m5 9h0m14-3h0m20-7h0m15 2h0m30-1h0m5 8h0m18-21h0m1 2h0m19-1h0m5 21h0m12-25h0m7 11h0m5-6h0m20 1h0m8 4h0m12 0h0m13-2h0m69-2h0m17 8h0m1-15h0m4 19h0m41 3h0m34-6h0m-1838 23h0m91-7h0m82 18h0m4-8h0m18 17h0m39-20h0m10-3h0m18-3h0m5-3h0m5 12h0m6-5h0m41 4h0m18 10h0m42-14h0m5-4h0m99-3h0m73 17h0m3 9h0m4-9h0m31-10h0m2 21h0m5-16h0m76-7h0m41 5h0m60 8h0m27-7h0m16 17h0m27-14h0m22-13h0m22 20h0m44-17h0m36 14h0m78 3h0m16-7h0m13-3h0m8-6h0m16-4h0m0 22h0m8-11h0m2 11h0m54-4h0m31-13h0m19 6h0m32 15h0m5-1h0m2-16h0m8 10h0m6-5h0m28 8h0m38-20h0m59 13h0m16-6h0m1-9h0m23-2h0m20 11h0m6 1h0m2-4h0m18 1h0m18-3h0m2 5h0m27 4h0m59-6h0m29 2h0m30 6h0m87 7h0m16 0h0m60-19h0m2-1h0m-1703 50h0m97-20h0m22 0h0m1 8h0m12 5h0m36-1h0m1-10h0m28 8h0m1-13h0m21 0h0m83 16h0m42-1h0m20-16h0m39 29h0m26-17h0m14-9h0m40-2h0m62 15h0m41 11h0m8-15h0m69-4h0m18 13h0m81 9h0m7-30h0m24 7h0m176-2h0m69 24h0m10-11h0m8 9h0m29-13h0m44-11h0m34 2h0m7 5h0m1 12h0m27-1h0m24-1h0m12-13h0m4-2h0m1 8h0m16 5h0m10-17h0m3 11h0m34 10h0m19-6h0m52-10h0m15 3h0m18 20h0m23-3h0m31-9h0m21 9h0m26-13h0m42-12h0m1 15h0m17 1h0m6 9h0m90-4h0m-1792 14h0m60 18h0m75-10h0m15-2h0m8 4h0m117 0h0m3-14h0m41 23h0m7 2h0m66-16h0m16-5h0m79 2h0m6-5h0m21 24h0m6 2h0m84-24h0m47 5h0m33 19h0m38-8h0m45-7h0m39 1h0m64 8h0m25-12h0m7-7h0m261 4h0m46-4h0m1 1h0m60 10h0m51 2h0m19 1h0m3 2h0m5-2h0m2 7h0m166 4h0m0-4h0m19-2h0m5-7h0m105-4h0m42 15h0m34-3h0m3-4h0m69-13h0m22 2h0m35 20h0m24 0h0m-1915 31h0m84-17h0m5 6h0m12-3h0m5 7h0m105-18h0m4 12h0m18-8h0m65 0h0m26 12h0m92 1h0m42-7h0m26-5h0m13-8h0m2 21h0m52-12h0m23-5h0m62 10h0m17 3h0m79 0h0m39-11h0m1 15h0m6 0h0m52-20h0m7 15h0m8 0h0m61 6h0m13 4h0m43-4h0m50-1h0m18-18h0m29-2h0m2 16h0m5-3h0m35-9h0m27 20h0m4 2h0m67-17h0m15-7h0m0 15h0m78-19h0m12 19h0m6-9h0m72-11h0m17 2h0m5 3h0m112 11h0m82-8h0m171-6h0m43 27h0m50-25h0m-1888 39h0m82 8h0m19 0h0m65-3h0m20-7h0m12 3h0m39-13h0m13 27h0m17-11h0m36-15h0m39 1h0m35-2h0m55 16h0m49-4h0m5-3h0m6 5h0m10-8h0m0-3h0m29 15h0m20-15h0m68 7h0m28 5h0m2-6h0m25 7h0m2-5h0m103 10h0m11-9h0m3 10h0m6-20h0m51-1h0m2 4h0m28 4h0m18 9h0m11 4h0m9-1h0m73-16h0m73-2h0m88 3h0m6 9h0m157 4h0m83 7h0m73 0h0m32-26h0m113 1h0m17 13h0m9 1h0m0 3h0m0 1h0m2-9h0m23 1h0m144 12h0m68-13h0m-1856 28h0m28-8h0m33 2h0m10 10h0m71 0h0m15-10h0m136 26h0m68-26h0m61 26h0m2-11h0m119-17h0m34 10h0m12 4h0m158 6h0m41-13h0m46 14h0m11-19h0m141 14h0m3-8h0m16 2h0m1 13h0m34-23h0m15 6h0m176 16h0m23 4h0m61-4h0m25 1h0m120 1h0m34 1h0m102-4h0m16 6h0m26-19h0m9 12h0m23-14h0m7 17h0m21 2h0m31-6h0m18 1h0m47-9h0m-1857 27h0m48 3h0m146 8h0m28-8h0m66 1h0m40-11h0m2 10h0m74-3h0m40 2h0m33-8h0m3 8h0m18-10h0m14 4h0m77 22h0m18-5h0m273-1h0m20 8h0m14-8h0m3-5h0m22-11h0m30 16h0m3-14h0m310 20h0m17-20h0m41 4h0m11-6h0m7-4h0m26 25h0m45-3h0m11 2h0m27-8h0m14 0h0m26 11h0m37-19h0m7-2h0m7 0h0m13 15h0m28-1h0m104-11h0m39 8h0m1 11h0m10-13h0m18 8h0m15-18h0m-1801 38h0m60-10h0m163 13h0m60-1h0m51 12h0m31-12h0m66-9h0m69 17h0m45-9h0m44 15h0m19-10h0m30-19h0m149 23h0m4 1h0m23-12h0m1-10h0m125 19h0m98-20h0m2 17h0m23-5h0m70-10h0m49 22h0m31 0h0m2-9h0m22-13h0m40 14h0m6-16h0m3 4h0m23 20h0m84 2h0m7-19h0m28-6h0m83 10h0m9-7h0m26 11h0m82 9h0m3-14h0m7 6h0m12 11h0m5-22h0m12 9h0m12 3h0m28 1h0m39-1h0m3-6h0m12 4h0m1 2h0m22-7h0m2-9h0m-1641 47h0m23 4h0m121-5h0m9-14h0m1-2h0m38 11h0m11-4h0m108 10h0m8-2h0m47-9h0m70 11h0m85-3h0m14 11h0m101-6h0m15-2h0m36-2h0m14 1h0m4 3h0m23-2h0m20 8h0m1-12h0m56 12h0m9-5h0m126 7h0m9-16h0m9 14h0m5-20h0m5 7h0m13-9h0m45-5h0m25 16h0m79 11h0m33 1h0m25-24h0m8 7h0m84 9h0m46-19h0m16 24h0m20-25h0m11 7h0m16 11h0m16-8h0m6 17h0m15-2h0m8-18h0m22 6h0m6-13h0m6 12h0m1 17h0m4-27h0m15 17h0m16-3h0m11 5h0m40-21h0m22 20h0m40-20h0m8-1h0m-1662 44h0m10 2h0m2 3h0m180 7h0m134-17h0m183 6h0m73-7h0m9 7h0m8-9h0m22 24h0m7-9h0m44 8h0m11-26h0m112 13h0m3-6h0m105-1h0m7 16h0m10-21h0m4 1h0m119 3h0m71 5h0m40 14h0m7-25h0m6 7h0m10 6h0m24 8h0m12-22h0m2 8h0m19 4h0m70-7h0m18 17h0m10 4h0m0-19h0m79 19h0m23-18h0m20 14h0m19-11h0m36 17h0m17-20h0m26 5h0m16 13h0m4-26h0m8 23h0m56-1h0m30-18h0m7 3h0m-1694 27h0m217 3h0m11-6h0m6 4h0m14 21h0m2-23h0m334 14h0m10-8h0m96 3h0m39 5h0m5-2h0m17 4h0m1 3h0m79-11h0m7 3h0m5 10h0m48 4h0m32-15h0m13-3h0m5 1h0m12-9h0m65 27h0m7-11h0m6 10h0m3-7h0m122 2h0m40-11h0m6 13h0m8-23h0m9 19h0m17-7h0m8-2h0m2-7h0m1 24h0m15-12h0m53-16h0m1 9h0m7-1h0m17 10h0m12-10h0m1-8h0m84 16h0m8-12h0m5 1h0m1 8h0m16 9h0m73-11h0m22-6h0m19 1h0m2-1h0m34-4h0m8 14h0m-1646 33h0m31 9h0m8-6h0m642-8h0m23-7h0m99 1h0m25 21h0m28-15h0m3-6h0m15 15h0m97 3h0m8 2h0m24-28h0m121 28h0m45-9h0m42 0h0m13 0h0m16-20h0m18 19h0m0-3h0m12 13h0m13-12h0m6 2h0m4 10h0m4-16h0m63-12h0m42 23h0m38 0h0m9 3h0m2-5h0m2 5h0m41-26h0m134 3h0m5 2h0m9 15h0m-1621 10h0m10 6h0m694-3h0m6 17h0m12-6h0m46-4h0m90-5h0m133 9h0m89 8h0m81 6h0m31 0h0m77-22h0m45-7h0m56 26h0m1-18h0m24 0h0m1-8h0m25 16h0m44 11h0m83-20h0m2 9h0m56 5h0m4 4h0m1-8h0m-1649 24h0m19-4h0m714 0h0m21 9h0m15 13h0m25-24h0m40 22h0m9-21h0m12 11h0m68 5h0m8 0h0m27 6h0m85 2h0m21-9h0m8-7h0m58-10h0m41 13h0m47 12h0m32-13h0m20 7h0m13-15h0m44-4h0m74 16h0m8 4h0m5-10h0m15 0h0m2 12h0m44-15h0m36 0h0m36 18h0m1-10h0m22-9h0m69 0h0m-1613 22h0m740 11h0m1-2h0m44 9h0m7-16h0m3 5h0m40 14h0m1-14h0m80 2h0m30 8h0m11 8h0m1-9h0m212-11h0m63 4h0m26 16h0m25-12h0m96 6h0m18 2h0m6-15h0m11 11h0m44-10h0m15 2h0m3 2h0m20 3h0m15 13h0m12-6h0m32-21h0m-817 37h0m109 7h0m360 2h0m1-4h0m11-2h0m58 15h0m24-6h0m23-7h0m54-10h0m29 21h0m6-12h0m15 9h0m3-7h0m1 9h0m27-17h0m2 16h0m9-16h0m26 10h0m50 6h0m21-5h0m-761 34h0m452-18h0m15 13h0m59-16h0m5 10h0m20-5h0m5 21h0m148-25h0m0 12h0m-165 23h0m6 3h0m-817 29h0m864-4h0m23-4h0m13 15h0m-60 48h0m-832 35h0m-556 47h0m16-12h0m1924 45h0m40-16h0m11 5h0m-1972 37h0m1948 1h0m-1954 7h0m10 26h0m121-2h0m11-24h0m9-1h0m12 24h0m2-16h0m3 15h0m1768-17h0m10 10h0m-1952 19h0m2 21h0m6-20h0m30 9h0m26-16h0m91 0h0m352 6h0m77 16h0m99 6h0m16-7h0m1240-10h0m49-1h0m-1984 44h0m73-5h0m18-8h0m7 6h0m20-7h0m7-1h0m17 10h0m10 6h0m386-14h0m44 7h0m41-15h0m41 11h0m4 5h0m23 4h0m49-1h0m4 3h0m1238-15h0m-1932 36h0m38 5h0m8-21h0m33 25h0m26-14h0m361-6h0m92 14h0m77-15h0m14 2h0m15-6h0m38 24h0m68 2h0m800-12h0m282 14h0m13-29h0m16 3h0m15 0h0m-1885 42h0m19-9h0m483 5h0m37-5h0m0 10h0m18 2h0m48 11h0m17-10h0m3 3h0m85 1h0m36-18h0m1177 12h0m3 2h0m-1289 19h0m7-1h0m38 0h0"/>
<path stroke="#a2a2d6" stroke-width="42" d="M3876 2940h0m264 56h0m-198 155h0m99-7h0m-461 40h0m214 9h0m527 83h0m247 138h0m50-6h0m247 6h0m-577 43h0m82-16h0m66 16h0m17-16h0m181 0h0m214 0h0m132 72h0m197 10h0m-131 82h0m181 0h0m-99 33h0m148 0h0m0 99h0m17 49h0m49 109h0m-741 204h0m478 181h0"/>
<path stroke="#d8a2a2" stroke-width="42" d="M3959 3128h0m33 65h0m-149 17h0m165 99h0m83 33h0m-264 16h0m428 0h0m33 0h0m17 33h0m-198 17h0m445 0h0m-626 82h0m-362 132h0m1449 16h0m66 99h0m-956 49h0m422 264h0"/>
<path stroke="#0000ff" stroke-width="42" d="M4091 3249h0m197-6h0m-165 33h0m676 141h0m-1130 89h0m431 17h0m343-23h0m158 23h0m-188 16h0m122 17h0m290 16h0m-76 23h0m214 0h0m-593 27h0m280 10h0m60-7h0m326 46h0m-764 26h0m306 0h0m560 7h0m-527 26h0m342 7h0m185 26h0m-537 23h0m313 7h0m-105 26h0m105 23h0m221-6h0m-1440 33h0m857 33h0m125 26h0m72-10h0m73 17h0m85 0h0m73 6h0m230-23h0m-823 43h0m550 7h0m208-10h0m32-7h0m-395 49h0m-66 66h0m-286 139h0m23 36h0m471 178h0"/>
<path stroke="#ff0000" stroke-width="42" d="M4107 3052h0m59 300h0m379-4h0m-283 142h0m527 16h0m-376 83h0m13 82h0m-276 13h0m632 79h0m-576 30h0m263 0h0m56 20h0m-738 66h0m1367-4h0m-925 13h0m207 89h0m-714 63h0m289 40h0m271 19h0m-455 63h0m468 85h0"/>
<path stroke="#ff00ff" stroke-width="42" d="M4453 3813h0"/>
</g></g>
<rect x="334.8" y="269.3" width="209.7" height="209.2" fill="none" stroke="#111" stroke-width="1.4" stroke-dasharray="2.5 1.36"/>
<text x="4.6" y="519.7" font-size="10.5" font-weight="bold" fill="#111">D</text>
<g fill-opacity=".76">
<circle cx="56.0" cy="632.6" r="2.35" fill="#ff0000"/>
<circle cx="56.0" cy="643.3" r="2.35" fill="#ff0000"/>
<circle cx="56.0" cy="644.0" r="2.35" fill="#ff0000"/>
<circle cx="56.0" cy="650.0" r="2.35" fill="#ff0000"/>
<circle cx="63.5" cy="536.3" r="2.35" fill="#0000ff"/>
<circle cx="63.5" cy="546.5" r="2.35" fill="#0000ff"/>
<circle cx="63.5" cy="561.4" r="2.35" fill="#0000ff"/>
<circle cx="63.5" cy="562.4" r="2.35" fill="#0000ff"/>
<circle cx="76.0" cy="613.2" r="2.35" fill="#ff0000"/>
<circle cx="76.0" cy="636.9" r="2.35" fill="#ff0000"/>
<circle cx="76.0" cy="637.6" r="2.35" fill="#ff0000"/>
<circle cx="76.0" cy="643.3" r="2.35" fill="#ff0000"/>
<circle cx="83.5" cy="566.8" r="2.35" fill="#0000ff"/>
<circle cx="83.5" cy="603.4" r="2.35" fill="#0000ff"/>
<circle cx="83.5" cy="604.2" r="2.35" fill="#0000ff"/>
<circle cx="83.5" cy="613.2" r="2.35" fill="#0000ff"/>
<circle cx="95.9" cy="632.6" r="2.35" fill="#ff0000"/>
<circle cx="95.9" cy="636.9" r="2.35" fill="#ff0000"/>
<circle cx="95.9" cy="638.0" r="2.35" fill="#ff0000"/>
<circle cx="95.9" cy="642.1" r="2.35" fill="#ff0000"/>
<circle cx="103.4" cy="534.7" r="2.35" fill="#0000ff"/>
<circle cx="103.4" cy="547.1" r="2.35" fill="#0000ff"/>
<circle cx="103.4" cy="547.6" r="2.35" fill="#0000ff"/>
<circle cx="103.4" cy="559.6" r="2.35" fill="#0000ff"/>
<circle cx="115.9" cy="633.1" r="2.35" fill="#ff0000"/>
<circle cx="115.9" cy="636.5" r="2.35" fill="#ff0000"/>
<circle cx="115.9" cy="637.2" r="2.35" fill="#ff0000"/>
<circle cx="115.9" cy="640.6" r="2.35" fill="#ff0000"/>
<circle cx="123.4" cy="572.3" r="2.35" fill="#0000ff"/>
<circle cx="123.4" cy="605.5" r="2.35" fill="#0000ff"/>
<circle cx="123.4" cy="606.0" r="2.35" fill="#0000ff"/>
<circle cx="123.4" cy="611.8" r="2.35" fill="#0000ff"/>
<circle cx="135.8" cy="632.6" r="2.35" fill="#ff0000"/>
<circle cx="135.8" cy="636.0" r="2.35" fill="#ff0000"/>
<circle cx="135.8" cy="636.6" r="2.35" fill="#ff0000"/>
<circle cx="135.8" cy="639.2" r="2.35" fill="#ff0000"/>
<circle cx="143.3" cy="558.5" r="2.35" fill="#0000ff"/>
<circle cx="143.3" cy="560.7" r="2.35" fill="#0000ff"/>
<circle cx="143.3" cy="568.6" r="2.35" fill="#0000ff"/>
<circle cx="143.3" cy="597.4" r="2.35" fill="#0000ff"/>
<circle cx="155.8" cy="644.9" r="2.35" fill="#ff0000"/>
<circle cx="155.8" cy="647.8" r="2.35" fill="#ff0000"/>
<circle cx="155.8" cy="652.3" r="2.35" fill="#ff0000"/>
<circle cx="155.8" cy="655.7" r="2.35" fill="#ff0000"/>
<circle cx="163.3" cy="630.2" r="2.35" fill="#0000ff"/>
<circle cx="163.3" cy="631.6" r="2.35" fill="#0000ff"/>
<circle cx="163.3" cy="632.0" r="2.35" fill="#0000ff"/>
<circle cx="163.3" cy="655.7" r="2.35" fill="#0000ff"/>
<circle cx="175.8" cy="640.3" r="2.35" fill="#ff0000"/>
<circle cx="175.8" cy="643.5" r="2.35" fill="#ff0000"/>
<circle cx="175.8" cy="644.0" r="2.35" fill="#ff0000"/>
<circle cx="175.8" cy="646.2" r="2.35" fill="#ff0000"/>
<circle cx="183.2" cy="554.4" r="2.35" fill="#0000ff"/>
<circle cx="183.2" cy="581.1" r="2.35" fill="#0000ff"/>
<circle cx="183.2" cy="584.5" r="2.35" fill="#0000ff"/>
<circle cx="183.2" cy="586.7" r="2.35" fill="#0000ff"/>
<circle cx="195.7" cy="645.1" r="2.35" fill="#ff0000"/>
<circle cx="195.7" cy="647.8" r="2.35" fill="#ff0000"/>
<circle cx="195.7" cy="648.4" r="2.35" fill="#ff0000"/>
<circle cx="195.7" cy="653.5" r="2.35" fill="#ff0000"/>
<circle cx="203.2" cy="585.8" r="2.35" fill="#0000ff"/>
<circle cx="203.2" cy="596.9" r="2.35" fill="#0000ff"/>
<circle cx="203.2" cy="607.5" r="2.35" fill="#0000ff"/>
<circle cx="203.2" cy="618.8" r="2.35" fill="#0000ff"/>
<circle cx="215.6" cy="644.4" r="2.35" fill="#ff0000"/>
<circle cx="215.6" cy="647.8" r="2.35" fill="#ff0000"/>
<circle cx="215.6" cy="655.0" r="2.35" fill="#ff0000"/>
<circle cx="215.6" cy="655.7" r="2.35" fill="#ff0000"/>
<circle cx="223.1" cy="647.3" r="2.35" fill="#0000ff"/>
<circle cx="223.1" cy="651.2" r="2.35" fill="#0000ff"/>
<circle cx="223.1" cy="655.0" r="2.35" fill="#0000ff"/>
<circle cx="223.1" cy="655.7" r="2.35" fill="#0000ff"/>
<circle cx="235.6" cy="529.0" r="2.35" fill="#ff0000"/>
<circle cx="235.6" cy="637.6" r="2.35" fill="#ff0000"/>
<circle cx="235.6" cy="641.7" r="2.35" fill="#ff0000"/>
<circle cx="235.6" cy="645.5" r="2.35" fill="#ff0000"/>
<circle cx="243.1" cy="598.9" r="2.35" fill="#0000ff"/>
<circle cx="243.1" cy="636.5" r="2.35" fill="#0000ff"/>
<circle cx="243.1" cy="637.4" r="2.35" fill="#0000ff"/>
<circle cx="243.1" cy="655.7" r="2.35" fill="#0000ff"/>
<circle cx="255.6" cy="634.9" r="2.35" fill="#ff0000"/>
<circle cx="255.6" cy="636.5" r="2.35" fill="#ff0000"/>
<circle cx="255.6" cy="638.8" r="2.35" fill="#ff0000"/>
<circle cx="255.6" cy="655.7" r="2.35" fill="#ff0000"/>
<circle cx="263.1" cy="551.0" r="2.35" fill="#0000ff"/>
<circle cx="263.1" cy="583.3" r="2.35" fill="#0000ff"/>
<circle cx="263.1" cy="587.4" r="2.35" fill="#0000ff"/>
<circle cx="263.1" cy="592.4" r="2.35" fill="#0000ff"/>
<circle cx="275.5" cy="646.2" r="2.35" fill="#ff0000"/>
<circle cx="275.5" cy="654.6" r="2.35" fill="#ff0000"/>
<circle cx="275.5" cy="655.7" r="2.35" fill="#ff0000"/>
<circle cx="275.5" cy="655.7" r="2.35" fill="#ff0000"/>
<circle cx="283.0" cy="529.0" r="2.35" fill="#0000ff"/>
<circle cx="283.0" cy="583.3" r="2.35" fill="#0000ff"/>
<circle cx="283.0" cy="596.2" r="2.35" fill="#0000ff"/>
<circle cx="283.0" cy="655.7" r="2.35" fill="#0000ff"/>
<circle cx="295.4" cy="643.3" r="2.35" fill="#ff0000"/>
<circle cx="295.4" cy="650.0" r="2.35" fill="#ff0000"/>
<circle cx="295.4" cy="655.7" r="2.35" fill="#ff0000"/>
<circle cx="295.4" cy="655.7" r="2.35" fill="#ff0000"/>
<circle cx="302.9" cy="529.0" r="2.35" fill="#0000ff"/>
<circle cx="302.9" cy="619.5" r="2.35" fill="#0000ff"/>
<circle cx="302.9" cy="632.0" r="2.35" fill="#0000ff"/>
</g>
<g stroke="#111" stroke-width="1.15" fill="none">
<path d="M56.0 635.4V650.7M54.8 635.4h2.6M54.8 650.7h2.6M53.2 642.8h5.6"/>
<path d="M63.5 539.2V564.1M62.2 539.2h2.6M62.2 564.1h2.6M60.8 551.2h5.6"/>
<path d="M76.0 619.5V645.5M74.7 619.5h2.6M74.7 645.5h2.6M73.2 632.4h5.6"/>
<path d="M83.5 576.5V617.3M82.2 576.5h2.6M82.2 617.3h2.6M80.7 596.9h5.6"/>
<path d="M95.9 633.8V641.7M94.6 633.8h2.6M94.6 641.7h2.6M93.1 637.4h5.6"/>
<path d="M103.4 537.0V557.3M102.1 537.0h2.6M102.1 557.3h2.6M100.6 547.1h5.6"/>
<path d="M115.9 633.8V639.4M114.6 633.8h2.6M114.6 639.4h2.6M113.1 636.5h5.6"/>
<path d="M123.4 580.6V617.3M122.1 580.6h2.6M122.1 617.3h2.6M120.6 598.9h5.6"/>
<path d="M135.8 633.8V638.3M134.5 633.8h2.6M134.5 638.3h2.6M133.0 636.0h5.6"/>
<path d="M143.3 553.2V589.0M142.0 553.2h2.6M142.0 589.0h2.6M140.5 570.9h5.6"/>
<path d="M155.8 645.5V653.9M154.5 645.5h2.6M154.5 653.9h2.6M153.0 649.6h5.6"/>
<path d="M163.3 624.7V649.4M162.0 624.7h2.6M162.0 649.4h2.6M160.5 637.2h5.6"/>
<path d="M175.8 641.2V645.8M174.4 641.2h2.6M174.4 645.8h2.6M172.9 643.5h5.6"/>
<path d="M183.2 561.4V592.4M181.9 561.4h2.6M181.9 592.4h2.6M180.4 577.2h5.6"/>
<path d="M195.7 645.1V652.3M194.4 645.1h2.6M194.4 652.3h2.6M192.9 648.9h5.6"/>
<path d="M203.2 587.9V617.3M201.9 587.9h2.6M201.9 617.3h2.6M200.4 602.3h5.6"/>
<path d="M215.6 645.5V655.7M214.3 645.5h2.6M214.3 655.7h2.6M212.8 650.7h5.6"/>
<path d="M223.1 648.9V655.7M221.8 648.9h2.6M221.8 655.7h2.6M220.3 652.3h5.6"/>
<path d="M235.6 556.9V669.7M234.3 556.9h2.6M234.3 669.7h2.6M232.8 613.2h5.6"/>
<path d="M243.1 608.2V655.7M241.8 608.2h2.6M241.8 655.7h2.6M240.3 632.0h5.6"/>
<path d="M255.6 630.8V650.7M254.2 630.8h2.6M254.2 650.7h2.6M252.8 640.6h5.6"/>
<path d="M263.1 559.6V597.4M261.8 559.6h2.6M261.8 597.4h2.6M260.2 578.4h5.6"/>
<path d="M275.5 649.4V655.7M274.2 649.4h2.6M274.2 655.7h2.6M272.7 653.0h5.6"/>
<path d="M283.0 538.8V643.3M281.7 538.8h2.6M281.7 643.3h2.6M280.2 590.8h5.6"/>
<path d="M295.4 646.7V655.7M294.1 646.7h2.6M294.1 655.7h2.6M292.6 650.7h5.6"/>
<path d="M302.9 553.2V652.3M301.6 553.2h2.6M301.6 652.3h2.6M300.1 603.0h5.6"/>
</g>
<path d="M55.40 655.6H310.0" stroke="#111" stroke-width="1.55" stroke-linecap="round" stroke-dasharray="0 4.38" fill="none"/>
<g stroke="#1a1a1a" stroke-width="1.4" fill="none">
<path d="M51.3 528.2V686.9H310.0"/>
<path d="M51.3 528.9h-7"/>
<path d="M51.3 560.6h-7"/>
<path d="M51.3 592.3h-7"/>
<path d="M51.3 624.0h-7"/>
<path d="M51.3 655.6h-7"/>
<path d="M59.8 686.9v6.2"/>
<path d="M79.8 686.9v6.2"/>
<path d="M99.7 686.9v6.2"/>
<path d="M119.6 686.9v6.2"/>
<path d="M139.6 686.9v6.2"/>
<path d="M159.6 686.9v6.2"/>
<path d="M179.5 686.9v6.2"/>
<path d="M199.4 686.9v6.2"/>
<path d="M219.4 686.9v6.2"/>
<path d="M239.3 686.9v6.2"/>
<path d="M259.3 686.9v6.2"/>
<path d="M279.2 686.9v6.2"/>
<path d="M299.2 686.9v6.2"/>
</g>
<g font-size="9.2" fill="#1a1a1a">
<text x="40.5" y="533.4" text-anchor="end">100</text>
<text x="42.9" y="564.3" text-anchor="end">75</text>
<text x="42.9" y="596.0" text-anchor="end">50</text>
<text x="42.9" y="627.7" text-anchor="end">25</text>
<text x="42.9" y="659.3" text-anchor="end">0</text>
<text transform="translate(60.9 700.6) rotate(-45)" text-anchor="end" font-size="8.25">Fibroblast</text>
<text transform="translate(84.3 700.6) rotate(-45)" text-anchor="end" font-size="8.25">Endothelial</text>
<text transform="translate(104.3 700.6) rotate(-45)" text-anchor="end" font-size="8.25">Macrophage</text>
<text transform="translate(124.2 700.6) rotate(-45)" text-anchor="end" font-size="8.25">Modulated SMC</text>
<text transform="translate(144.2 700.6) rotate(-45)" text-anchor="end" font-size="8.25">Differentiated SMC</text>
<text transform="translate(164.2 700.6) rotate(-45)" text-anchor="end" font-size="8.25">T Cell</text>
<text transform="translate(184.1 700.6) rotate(-45)" text-anchor="end" font-size="8.25">Pericyte 1</text>
<text transform="translate(204.0 700.6) rotate(-45)" text-anchor="end" font-size="8.25">Pericyte 2</text>
<text transform="translate(224.0 700.6) rotate(-45)" text-anchor="end" font-size="8.25">B Cell</text>
<text transform="translate(243.9 700.6) rotate(-45)" text-anchor="end" font-size="8.25">Plasma Cell</text>
<text transform="translate(263.9 700.6) rotate(-45)" text-anchor="end" font-size="8.25">Fibroblast 2</text>
<text transform="translate(283.9 700.6) rotate(-45)" text-anchor="end" font-size="8.25">Neuron</text>
<text transform="translate(303.8 700.6) rotate(-45)" text-anchor="end" font-size="8.25">NK Cell</text>
</g>
<text transform="translate(21.8 609.3) rotate(-90)" font-size="11.6" text-anchor="middle" fill="#1a1a1a">Percentage of positive cells</text>
<circle cx="322.2" cy="533.5" r="2.3" fill="#ff0000" fill-opacity=".76"/>
<text x="331.4" y="536.7" font-size="9" font-style="italic" fill="#1a1a1a">GLS</text>
<circle cx="322.2" cy="552.5" r="2.3" fill="#0000ff" fill-opacity=".76"/>
<text x="331.4" y="555.7" font-size="9" font-style="italic" fill="#1a1a1a">GLUL</text>
<text x="357.6" y="519.7" font-size="10.5" font-weight="bold" fill="#111">E</text>
<g fill-opacity=".76">
<circle cx="412.1" cy="655.7" r="2.35" fill="#ff0000"/>
<circle cx="412.1" cy="655.7" r="2.35" fill="#ff0000"/>
<circle cx="419.6" cy="648.3" r="2.35" fill="#0000ff"/>
<circle cx="419.6" cy="655.7" r="2.35" fill="#0000ff"/>
<circle cx="419.6" cy="655.7" r="2.35" fill="#0000ff"/>
<circle cx="432.1" cy="655.7" r="2.35" fill="#ff0000"/>
<circle cx="432.1" cy="655.7" r="2.35" fill="#ff0000"/>
<circle cx="439.6" cy="655.2" r="2.35" fill="#0000ff"/>
<circle cx="439.6" cy="655.7" r="2.35" fill="#0000ff"/>
<circle cx="452.1" cy="655.0" r="2.35" fill="#ff0000"/>
<circle cx="452.1" cy="655.7" r="2.35" fill="#ff0000"/>
<circle cx="459.6" cy="655.7" r="2.35" fill="#0000ff"/>
<circle cx="459.6" cy="655.7" r="2.35" fill="#0000ff"/>
<circle cx="472.1" cy="630.2" r="2.35" fill="#ff0000"/>
<circle cx="472.1" cy="632.4" r="2.35" fill="#ff0000"/>
<circle cx="472.1" cy="641.5" r="2.35" fill="#ff0000"/>
<circle cx="472.1" cy="647.1" r="2.35" fill="#ff0000"/>
<circle cx="479.6" cy="626.5" r="2.35" fill="#0000ff"/>
<circle cx="479.6" cy="655.7" r="2.35" fill="#0000ff"/>
<circle cx="479.6" cy="655.7" r="2.35" fill="#0000ff"/>
<circle cx="479.6" cy="655.7" r="2.35" fill="#0000ff"/>
<circle cx="492.1" cy="642.4" r="2.35" fill="#ff0000"/>
<circle cx="492.1" cy="649.6" r="2.35" fill="#ff0000"/>
<circle cx="492.1" cy="655.7" r="2.35" fill="#ff0000"/>
<circle cx="492.1" cy="655.7" r="2.35" fill="#ff0000"/>
<circle cx="499.6" cy="578.6" r="2.35" fill="#0000ff"/>
<circle cx="499.6" cy="649.2" r="2.35" fill="#0000ff"/>
<circle cx="499.6" cy="655.7" r="2.35" fill="#0000ff"/>
<circle cx="499.6" cy="655.7" r="2.35" fill="#0000ff"/>
<circle cx="512.0" cy="655.7" r="2.35" fill="#ff0000"/>
<circle cx="512.0" cy="655.7" r="2.35" fill="#ff0000"/>
<circle cx="519.5" cy="655.7" r="2.35" fill="#0000ff"/>
<circle cx="519.5" cy="655.7" r="2.35" fill="#0000ff"/>
<circle cx="532.0" cy="655.7" r="2.35" fill="#ff0000"/>
<circle cx="532.0" cy="655.7" r="2.35" fill="#ff0000"/>
<circle cx="539.5" cy="655.7" r="2.35" fill="#0000ff"/>
<circle cx="539.5" cy="655.7" r="2.35" fill="#0000ff"/>
<circle cx="552.0" cy="655.7" r="2.35" fill="#ff0000"/>
<circle cx="552.0" cy="655.7" r="2.35" fill="#ff0000"/>
<circle cx="559.5" cy="638.8" r="2.35" fill="#0000ff"/>
<circle cx="559.5" cy="655.0" r="2.35" fill="#0000ff"/>
<circle cx="559.5" cy="655.7" r="2.35" fill="#0000ff"/>
<circle cx="559.5" cy="655.7" r="2.35" fill="#0000ff"/>
<circle cx="572.0" cy="655.7" r="2.35" fill="#ff0000"/>
<circle cx="572.0" cy="655.7" r="2.35" fill="#ff0000"/>
<circle cx="579.5" cy="655.7" r="2.35" fill="#0000ff"/>
<circle cx="579.5" cy="655.7" r="2.35" fill="#0000ff"/>
<circle cx="592.0" cy="655.7" r="2.35" fill="#ff0000"/>
<circle cx="592.0" cy="655.7" r="2.35" fill="#ff0000"/>
<circle cx="599.5" cy="655.7" r="2.35" fill="#0000ff"/>
<circle cx="599.5" cy="655.7" r="2.35" fill="#0000ff"/>
<circle cx="612.0" cy="636.9" r="2.35" fill="#ff0000"/>
<circle cx="612.0" cy="653.9" r="2.35" fill="#ff0000"/>
<circle cx="612.0" cy="655.7" r="2.35" fill="#ff0000"/>
<circle cx="612.0" cy="655.7" r="2.35" fill="#ff0000"/>
<circle cx="619.5" cy="655.7" r="2.35" fill="#0000ff"/>
<circle cx="619.5" cy="655.7" r="2.35" fill="#0000ff"/>
<circle cx="632.0" cy="652.3" r="2.35" fill="#ff0000"/>
<circle cx="632.0" cy="655.0" r="2.35" fill="#ff0000"/>
<circle cx="632.0" cy="655.7" r="2.35" fill="#ff0000"/>
<circle cx="639.5" cy="655.7" r="2.35" fill="#0000ff"/>
<circle cx="639.5" cy="655.7" r="2.35" fill="#0000ff"/>
<circle cx="652.0" cy="655.7" r="2.35" fill="#ff0000"/>
<circle cx="652.0" cy="655.7" r="2.35" fill="#ff0000"/>
<circle cx="659.5" cy="655.7" r="2.35" fill="#0000ff"/>
<circle cx="659.5" cy="655.7" r="2.35" fill="#0000ff"/>
</g>
<g stroke="#111" stroke-width="1.15" fill="none">
<path d="M409.2 655.7h5.6"/>
<path d="M419.6 650.5V656.4M418.2 650.5h2.6M418.2 656.4h2.6M416.8 653.5h5.6"/>
<path d="M429.2 655.7h5.6"/>
<path d="M436.8 655.7h5.6"/>
<path d="M449.2 655.7h5.6"/>
<path d="M456.8 655.7h5.6"/>
<path d="M472.1 630.8V645.1M470.8 630.8h2.6M470.8 645.1h2.6M469.2 637.6h5.6"/>
<path d="M479.6 633.8V662.5M478.2 633.8h2.6M478.2 662.5h2.6M476.8 648.0h5.6"/>
<path d="M492.1 644.4V655.7M490.8 644.4h2.6M490.8 655.7h2.6M489.2 650.1h5.6"/>
<path d="M499.6 596.9V672.0M498.2 596.9h2.6M498.2 672.0h2.6M496.8 634.7h5.6"/>
<path d="M509.2 655.7h5.6"/>
<path d="M516.8 655.7h5.6"/>
<path d="M529.2 655.7h5.6"/>
<path d="M536.8 655.7h5.6"/>
<path d="M549.2 655.7h5.6"/>
<path d="M559.5 642.6V659.1M558.2 642.6h2.6M558.2 659.1h2.6M556.8 650.7h5.6"/>
<path d="M569.2 655.7h5.6"/>
<path d="M576.8 655.7h5.6"/>
<path d="M589.2 655.7h5.6"/>
<path d="M596.8 655.7h5.6"/>
<path d="M612.0 641.5V659.3M610.8 641.5h2.6M610.8 659.3h2.6M609.2 650.5h5.6"/>
<path d="M616.8 655.7h5.6"/>
<path d="M632.0 653.5V656.2M630.8 653.5h2.6M630.8 656.2h2.6M629.2 654.8h5.6"/>
<path d="M636.8 655.7h5.6"/>
<path d="M649.2 655.7h5.6"/>
<path d="M656.8 655.7h5.6"/>
</g>
<path d="M411.40 655.6H665.6" stroke="#111" stroke-width="1.55" stroke-linecap="round" stroke-dasharray="0 4.38" fill="none"/>
<g stroke="#1a1a1a" stroke-width="1.4" fill="none">
<path d="M407.3 528.2V686.9H665.6"/>
<path d="M407.3 528.9h-7"/>
<path d="M407.3 560.6h-7"/>
<path d="M407.3 592.3h-7"/>
<path d="M407.3 624.0h-7"/>
<path d="M407.3 655.6h-7"/>
<path d="M415.8 686.9v6.2"/>
<path d="M435.8 686.9v6.2"/>
<path d="M455.8 686.9v6.2"/>
<path d="M475.8 686.9v6.2"/>
<path d="M495.8 686.9v6.2"/>
<path d="M515.8 686.9v6.2"/>
<path d="M535.8 686.9v6.2"/>
<path d="M555.8 686.9v6.2"/>
<path d="M575.8 686.9v6.2"/>
<path d="M595.8 686.9v6.2"/>
<path d="M615.8 686.9v6.2"/>
<path d="M635.8 686.9v6.2"/>
<path d="M655.8 686.9v6.2"/>
</g>
<g font-size="9.2" fill="#1a1a1a">
<text x="398.9" y="532.6" text-anchor="end">20</text>
<text x="398.9" y="564.3" text-anchor="end">15</text>
<text x="398.9" y="596.0" text-anchor="end">10</text>
<text x="398.9" y="627.7" text-anchor="end">5</text>
<text x="398.9" y="659.3" text-anchor="end">0</text>
<text transform="translate(415.8 700.6) rotate(-45)" text-anchor="end" font-size="8.25">Fibroblast</text>
<text transform="translate(439.4 700.6) rotate(-45)" text-anchor="end" font-size="8.25">Endothelial</text>
<text transform="translate(459.4 700.6) rotate(-45)" text-anchor="end" font-size="8.25">Macrophage</text>
<text transform="translate(479.4 700.6) rotate(-45)" text-anchor="end" font-size="8.25">Modulated SMC</text>
<text transform="translate(499.4 700.6) rotate(-45)" text-anchor="end" font-size="8.25">Differentiated SMC</text>
<text transform="translate(519.4 700.6) rotate(-45)" text-anchor="end" font-size="8.25">T Cell</text>
<text transform="translate(539.4 700.6) rotate(-45)" text-anchor="end" font-size="8.25">Pericyte 1</text>
<text transform="translate(559.4 700.6) rotate(-45)" text-anchor="end" font-size="8.25">Pericyte 2</text>
<text transform="translate(579.4 700.6) rotate(-45)" text-anchor="end" font-size="8.25">B Cell</text>
<text transform="translate(599.4 700.6) rotate(-45)" text-anchor="end" font-size="8.25">Plasma Cell</text>
<text transform="translate(619.4 700.6) rotate(-45)" text-anchor="end" font-size="8.25">Fibroblast 2</text>
<text transform="translate(639.4 700.6) rotate(-45)" text-anchor="end" font-size="8.25">Neuron</text>
<text transform="translate(659.4 700.6) rotate(-45)" text-anchor="end" font-size="8.25">NK Cell</text>
</g>
<text transform="translate(384.3 609.3) rotate(-90)" font-size="11.6" text-anchor="middle" fill="#1a1a1a">Percentage of positive cells</text>
<circle cx="627.3" cy="533.5" r="2.3" fill="#ff0000" fill-opacity=".76"/>
<text x="636.1" y="536.7" font-size="9" font-style="italic" fill="#1a1a1a">GRIA1</text>
<circle cx="627.3" cy="552.5" r="2.3" fill="#0000ff" fill-opacity=".76"/>
<text x="636.1" y="555.7" font-size="9" font-style="italic" fill="#1a1a1a">GRIA2</text>
</svg></body></html>
